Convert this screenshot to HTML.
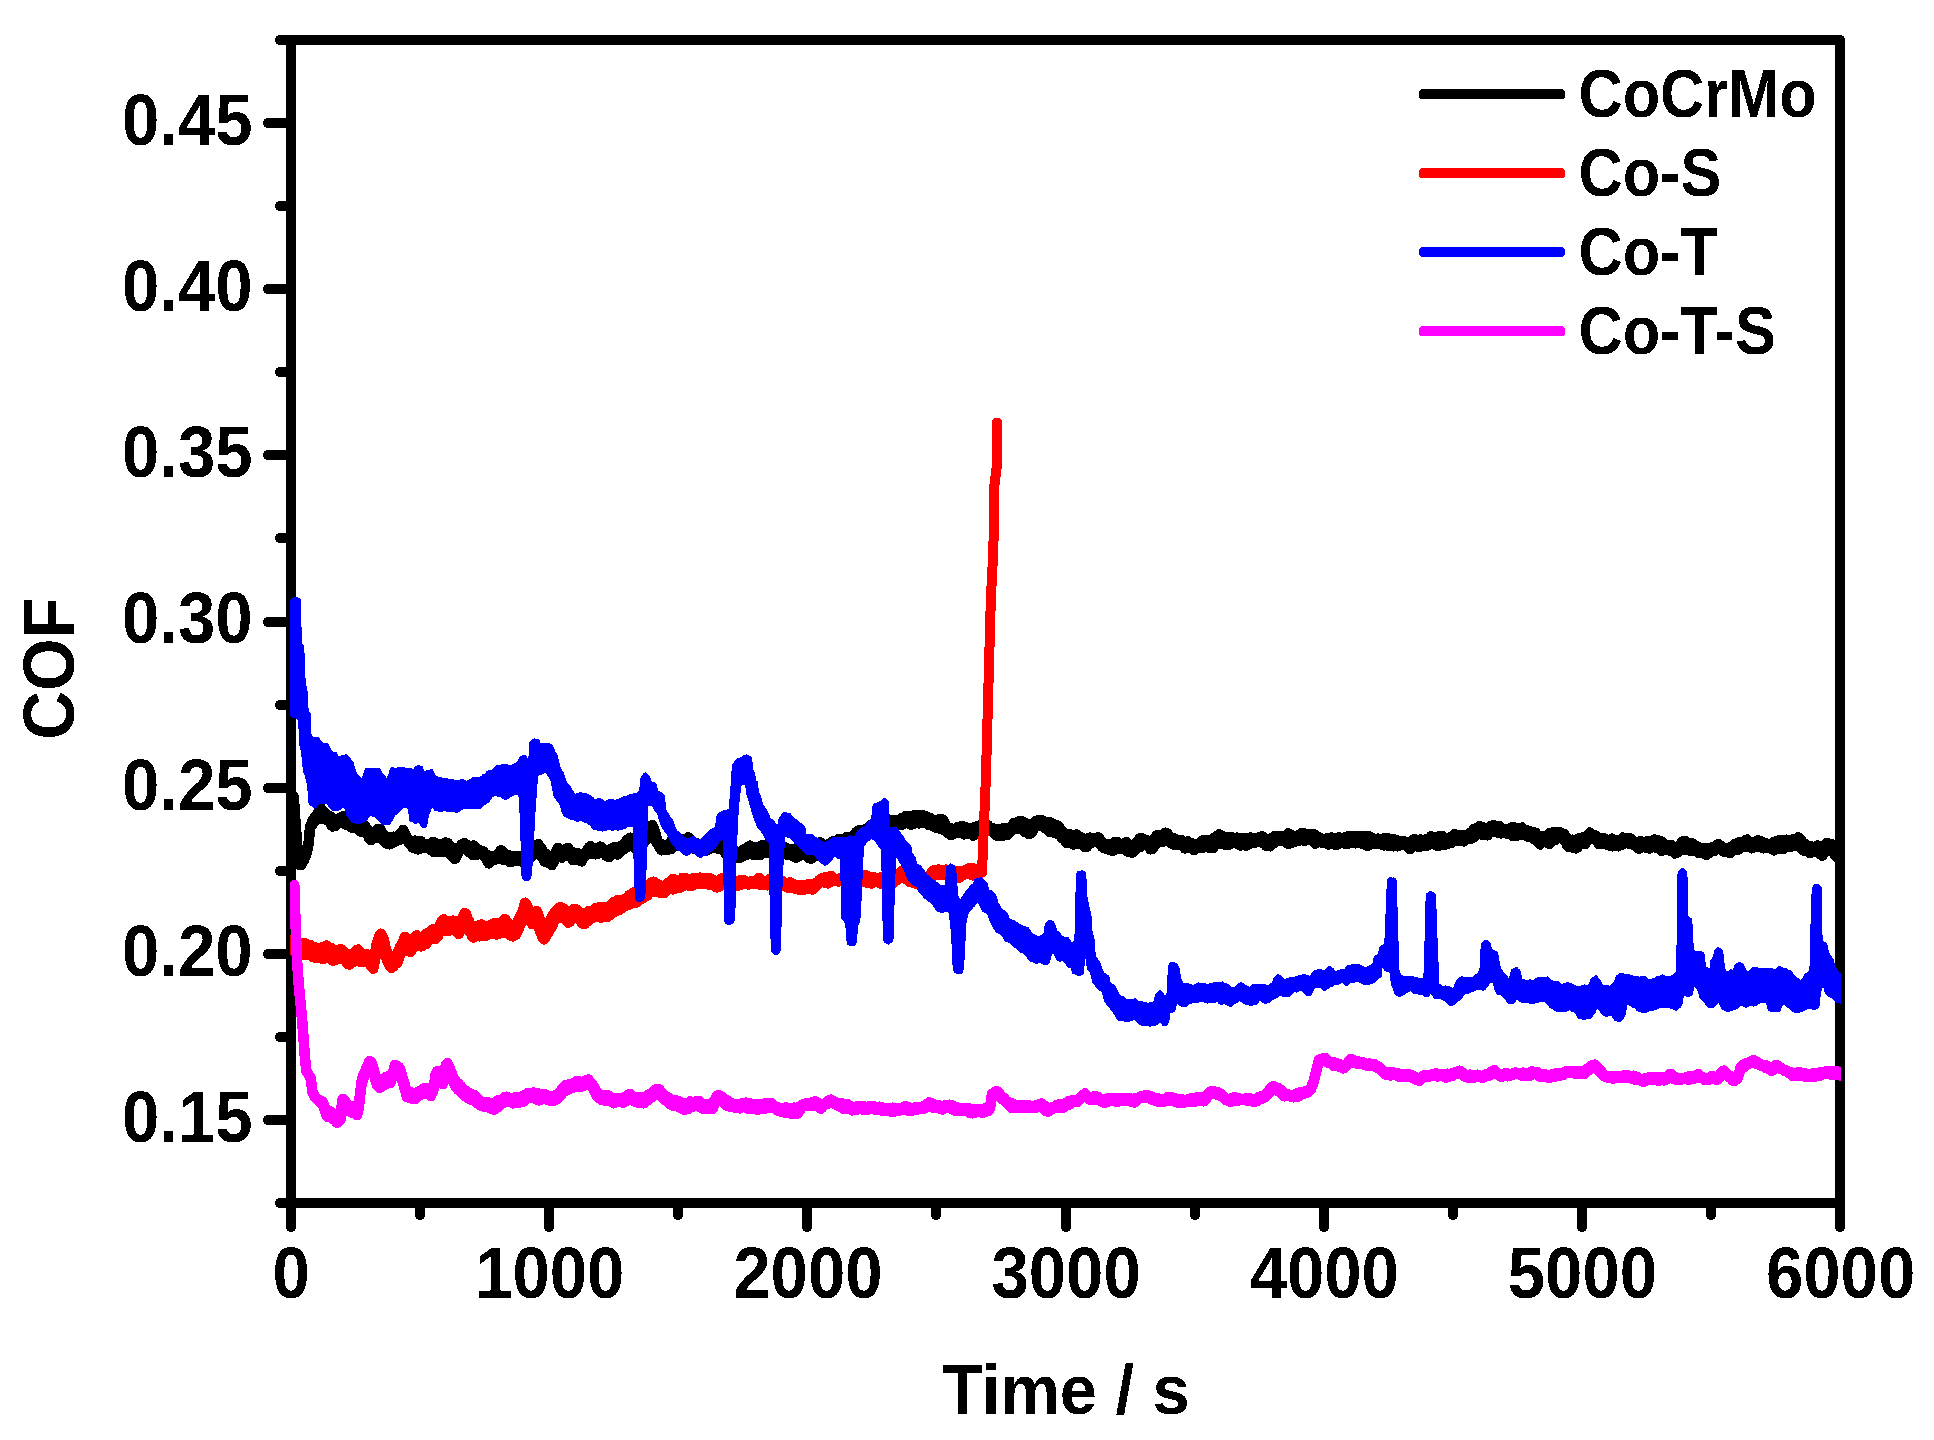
<!DOCTYPE html>
<html lang="en"><head><meta charset="utf-8"><title>COF vs Time</title>
<style>html,body{margin:0;padding:0;background:#fff}svg{display:block}text{font-family:"Liberation Sans",Arial,Helvetica,sans-serif;font-weight:bold;fill:#000}</style></head><body>
<svg width="1934" height="1440" viewBox="0 0 1934 1440">
<defs><filter id="hard" filterUnits="userSpaceOnUse" x="0" y="0" width="1934" height="1440" color-interpolation-filters="sRGB"><feComponentTransfer><feFuncR type="discrete" tableValues="0 1"/><feFuncG type="discrete" tableValues="0 1"/><feFuncB type="discrete" tableValues="0 1"/></feComponentTransfer></filter></defs>
<g filter="url(#hard)">
<rect width="1934" height="1440" fill="#fff"/>
<defs><clipPath id="plot"><rect x="290.3" y="30" width="1550.6" height="1180"/></clipPath></defs>
<g stroke="#000" stroke-width="9.9" stroke-linecap="round" fill="none">
<path d="M291.1 40.0 H1840.1 V1203.0 H291.1 Z" stroke-linejoin="round"/>
<path d="M279.8 1203.0 H291.1"/>
<path d="M267.8 1120.0 H291.1"/>
<path d="M279.8 1037.0 H291.1"/>
<path d="M267.8 954.0 H291.1"/>
<path d="M279.8 871.0 H291.1"/>
<path d="M267.8 788.0 H291.1"/>
<path d="M279.8 705.0 H291.1"/>
<path d="M267.8 622.0 H291.1"/>
<path d="M279.8 538.0 H291.1"/>
<path d="M267.8 455.0 H291.1"/>
<path d="M279.8 372.0 H291.1"/>
<path d="M267.8 289.0 H291.1"/>
<path d="M279.8 206.0 H291.1"/>
<path d="M267.8 123.0 H291.1"/>
<path d="M279.8 40.0 H291.1"/>
<path d="M291.0 1203.0 V1227.3"/>
<path d="M420.0 1203.0 V1215.3"/>
<path d="M549.0 1203.0 V1227.3"/>
<path d="M678.0 1203.0 V1215.3"/>
<path d="M807.0 1203.0 V1227.3"/>
<path d="M936.0 1203.0 V1215.3"/>
<path d="M1066.0 1203.0 V1227.3"/>
<path d="M1195.0 1203.0 V1215.3"/>
<path d="M1324.0 1203.0 V1227.3"/>
<path d="M1453.0 1203.0 V1215.3"/>
<path d="M1582.0 1203.0 V1227.3"/>
<path d="M1711.0 1203.0 V1215.3"/>
<path d="M1840.0 1203.0 V1227.3"/>
</g>
<text transform="translate(252.6 1141.9) scale(1 1.066)" font-size="67.1px" text-anchor="end">0.15</text>
<text transform="translate(252.6 975.7) scale(1 1.066)" font-size="67.1px" text-anchor="end">0.20</text>
<text transform="translate(252.6 809.6) scale(1 1.066)" font-size="67.1px" text-anchor="end">0.25</text>
<text transform="translate(252.6 643.4) scale(1 1.066)" font-size="67.1px" text-anchor="end">0.30</text>
<text transform="translate(252.6 477.2) scale(1 1.066)" font-size="67.1px" text-anchor="end">0.35</text>
<text transform="translate(252.6 311.1) scale(1 1.066)" font-size="67.1px" text-anchor="end">0.40</text>
<text transform="translate(252.6 144.9) scale(1 1.066)" font-size="67.1px" text-anchor="end">0.45</text>
<text transform="translate(291.1 1298.2) scale(1 1.066)" font-size="67.1px" text-anchor="middle">0</text>
<text transform="translate(549.8 1298.2) scale(1 1.066)" font-size="67.1px" text-anchor="middle">1000</text>
<text transform="translate(807.9 1298.2) scale(1 1.066)" font-size="67.1px" text-anchor="middle">2000</text>
<text transform="translate(1066.1 1298.2) scale(1 1.066)" font-size="67.1px" text-anchor="middle">3000</text>
<text transform="translate(1324.3 1298.2) scale(1 1.066)" font-size="67.1px" text-anchor="middle">4000</text>
<text transform="translate(1582.4 1298.2) scale(1 1.066)" font-size="67.1px" text-anchor="middle">5000</text>
<text transform="translate(1840.6 1298.2) scale(1 1.066)" font-size="67.1px" text-anchor="middle">6000</text>
<text transform="translate(1066.0 1414.2) scale(1 1.060)" font-size="66.8px" text-anchor="middle">Time / s</text>
<text transform="translate(74.0 668.5) rotate(-90) scale(1 1.065)" font-size="67.5px" text-anchor="middle">COF</text>
<g clip-path="url(#plot)" fill="none" stroke-width="10" stroke-linejoin="round" stroke-linecap="round">
<polyline stroke="#000" points="293.7,797.0 295.2,818.7 296.7,838.8 298.2,858.1 299.7,864.0 301.2,864.2 302.7,861.7 304.2,859.0 305.7,855.3 307.2,849.8 308.7,841.1 310.2,825.5 311.7,822.2 313.2,819.2 314.7,817.1 316.2,815.6 317.7,813.1 319.2,810.5 320.7,807.5 322.2,809.6 323.7,813.0 325.2,812.8 326.7,814.3 328.2,815.2 329.7,816.3 331.2,816.6 332.7,818.5 334.2,818.8 335.7,819.2 337.2,818.8 338.7,819.3 340.2,817.6 341.7,817.3 343.2,815.7 344.7,816.5 346.2,818.7 347.7,820.3 349.2,820.3 350.7,821.5 352.2,821.1 353.7,822.8 355.2,825.0 356.7,825.8 358.2,826.0 359.7,826.3 361.2,824.2 362.7,824.1 364.2,824.5 365.7,826.4 367.2,828.7 368.7,831.2 370.2,832.4 371.7,832.8 373.2,832.8 374.7,831.8 376.2,831.0 377.7,828.7 379.2,829.6 380.7,829.0 382.2,833.2 383.7,835.3 385.2,836.1 386.7,836.3 388.2,837.2 389.7,838.5 391.2,838.3 392.7,836.4 394.2,836.5 395.7,837.7 397.2,837.3 398.7,835.1 400.2,833.0 401.7,832.0 403.2,829.7 404.7,832.5 406.2,835.2 407.7,838.6 409.2,839.9 410.7,841.9 412.2,841.5 413.7,841.3 415.2,840.4 416.7,842.4 418.2,842.4 419.7,840.9 421.2,841.1 422.7,843.0 424.2,844.2 425.7,844.2 427.2,844.1 428.7,845.1 430.2,845.0 431.7,842.5 433.2,841.5 434.7,842.6 436.2,843.2 437.7,844.0 439.2,843.7 440.7,845.7 442.2,845.9 443.7,844.1 445.2,842.3 446.7,842.8 448.2,843.1 449.7,845.9 451.2,846.5 452.7,848.0 454.2,849.5 455.7,848.2 457.2,849.5 458.7,848.1 460.2,846.1 461.7,844.2 463.2,843.5 464.7,842.8 466.2,844.5 467.7,844.5 469.2,846.4 470.7,846.0 472.2,847.4 473.7,845.3 475.2,846.5 476.7,847.9 478.2,849.4 479.7,850.4 481.2,850.6 482.7,850.5 484.2,852.2 485.7,854.2 487.2,854.5 488.7,856.7 490.2,858.3 491.7,857.9 493.2,855.7 494.7,856.4 496.2,855.3 497.7,853.7 499.2,852.0 500.7,850.1 502.2,850.6 503.7,852.7 505.2,854.6 506.7,855.7 508.2,854.9 509.7,857.8 511.2,856.1 512.7,856.0 514.2,856.6 515.7,856.7 517.2,856.2 518.7,855.9 520.2,856.4 521.7,855.8 523.2,856.8 524.7,854.3 526.2,853.8 527.7,853.3 529.2,850.5 530.7,850.5 532.2,850.5 533.7,849.2 535.2,846.4 536.7,845.2 538.2,843.7 539.7,846.9 541.2,847.5 542.7,850.6 544.2,853.0 545.7,853.4 547.2,854.5 548.7,857.2 550.2,857.7 551.7,858.6 553.2,857.3 554.7,854.1 556.2,850.2 557.7,847.5 559.2,848.6 560.7,850.2 562.2,850.8 563.7,852.4 565.2,849.1 566.7,848.4 568.2,847.7 569.7,849.9 571.2,851.5 572.7,851.9 574.2,852.7 575.7,853.1 577.2,852.8 578.7,853.8 580.2,853.6 581.7,856.4 583.2,854.5 584.7,852.9 586.2,851.1 587.7,848.6 589.2,846.9 590.7,845.7 592.2,847.2 593.7,850.5 595.2,850.2 596.7,850.0 598.2,849.3 599.7,846.3 601.2,846.8 602.7,848.1 604.2,850.6 605.7,849.9 607.2,850.8 608.7,849.2 610.2,849.6 611.7,848.2 613.2,847.4 614.7,846.8 616.2,847.0 617.7,846.8 619.2,846.5 620.7,845.5 622.2,845.3 623.7,843.7 625.2,841.9 626.7,840.1 628.2,838.9 629.7,837.6 631.2,837.5 632.7,840.8 634.2,840.6 635.7,841.7 637.2,841.7 638.7,842.9 640.2,842.0 641.7,840.5 643.2,838.7 644.7,836.7 646.2,835.9 647.7,832.6 649.2,828.4 650.7,825.9 652.2,824.8 653.7,826.9 655.2,831.6 656.7,837.5 658.2,841.5 659.7,844.8 661.2,843.7 662.7,844.6 664.2,846.2 665.7,847.1 667.2,847.3 668.7,843.5 670.2,842.1 671.7,839.8 673.2,839.0 674.7,839.9 676.2,838.2 677.7,839.2 679.2,838.7 680.7,840.9 682.2,839.8 683.7,839.1 685.2,839.8 686.7,839.6 688.2,837.2 689.7,838.4 691.2,840.1 692.7,841.0 694.2,843.0 695.7,842.8 697.2,843.2 698.7,843.5 700.2,845.0 701.7,845.0 703.2,844.4 704.7,843.1 706.2,842.9 707.7,842.8 709.2,842.0 710.7,842.3 712.2,842.2 713.7,841.3 715.2,839.4 716.7,837.1 718.2,839.8 719.7,843.1 721.2,845.6 722.7,845.9 724.2,844.7 725.7,844.8 727.2,846.6 728.7,846.7 730.2,847.1 731.7,848.3 733.2,850.5 734.7,849.9 736.2,851.5 737.7,852.0 739.2,852.7 740.7,852.5 742.2,851.6 743.7,849.1 745.2,848.6 746.7,848.6 748.2,846.3 749.7,845.5 751.2,847.9 752.7,847.4 754.2,847.8 755.7,847.0 757.2,848.2 758.7,847.6 760.2,847.0 761.7,845.0 763.2,845.7 764.7,845.4 766.2,845.5 767.7,843.6 769.2,844.6 770.7,843.8 772.2,844.2 773.7,843.6 775.2,844.2 776.7,845.3 778.2,846.8 779.7,845.6 781.2,846.8 782.7,847.9 784.2,848.4 785.7,847.3 787.2,848.4 788.7,851.4 790.2,851.3 791.7,850.5 793.2,848.7 794.7,850.9 796.2,849.9 797.7,850.4 799.2,848.5 800.7,847.7 802.2,845.0 803.7,847.4 805.2,847.6 806.7,849.4 808.2,851.1 809.7,850.1 811.2,847.8 812.7,847.8 814.2,848.2 815.7,848.3 817.2,846.0 818.7,843.5 820.2,841.9 821.7,843.5 823.2,845.2 824.7,844.6 826.2,845.8 827.7,845.8 829.2,843.3 830.7,843.9 832.2,841.2 833.7,841.1 835.2,841.0 836.7,840.7 838.2,839.2 839.7,838.8 841.2,839.5 842.7,839.8 844.2,839.1 845.7,837.3 847.2,836.5 848.7,837.6 850.2,841.0 851.7,842.8 853.2,837.4 854.7,833.8 856.2,831.9 857.7,830.6 859.2,829.9 860.7,830.4 862.2,829.7 863.7,829.8 865.2,830.4 866.7,828.0 868.2,827.1 869.7,825.5 871.2,824.4 872.7,825.7 874.2,824.5 875.7,826.0 877.2,826.0 878.7,825.3 880.2,824.4 881.7,825.5 883.2,824.6 884.7,823.8 886.2,819.9 887.7,819.4 889.2,819.9 890.7,819.8 892.2,820.8 893.7,819.4 895.2,821.0 896.7,819.7 898.2,820.6 899.7,820.3 901.2,818.2 902.7,818.9 904.2,818.5 905.7,815.8 907.2,816.1 908.7,816.9 910.2,815.6 911.7,817.0 913.2,815.3 914.7,816.1 916.2,814.8 917.7,815.7 919.2,816.4 920.7,814.6 922.2,814.7 923.7,815.2 925.2,815.9 926.7,816.3 928.2,817.7 929.7,817.6 931.2,819.7 932.7,819.6 934.2,821.0 935.7,820.4 937.2,821.1 938.7,819.0 940.2,819.2 941.7,818.7 943.2,819.6 944.7,823.4 946.2,825.2 947.7,826.8 949.2,829.1 950.7,827.9 952.2,830.1 953.7,829.4 955.2,828.6 956.7,828.7 958.2,826.5 959.7,827.1 961.2,826.0 962.7,826.0 964.2,827.3 965.7,827.2 967.2,827.4 968.7,829.2 970.2,827.4 971.7,828.9 973.2,827.3 974.7,827.2 976.2,827.3 977.7,825.8 979.2,825.6 980.7,824.6 982.2,823.6 983.7,822.7 985.2,823.1 986.7,824.2 988.2,825.2 989.7,826.8 991.2,829.0 992.7,827.8 994.2,828.6 995.7,830.0 997.2,828.7 998.7,828.6 1000.2,828.9 1001.7,828.2 1003.2,828.4 1004.7,827.8 1006.2,829.7 1007.7,830.1 1009.2,829.1 1010.7,827.8 1012.2,825.3 1013.7,822.5 1015.2,824.0 1016.7,822.2 1018.2,821.8 1019.7,820.9 1021.2,821.0 1022.7,821.3 1024.2,822.4 1025.7,822.9 1027.2,824.5 1028.7,824.9 1030.2,825.8 1031.7,825.1 1033.2,823.2 1034.7,822.4 1036.2,820.5 1037.7,820.8 1039.2,820.5 1040.7,819.6 1042.2,822.1 1043.7,821.3 1045.2,823.5 1046.7,823.0 1048.2,822.5 1049.7,821.9 1051.2,824.3 1052.7,823.4 1054.2,825.4 1055.7,826.6 1057.2,825.2 1058.7,825.8 1060.2,828.0 1061.7,830.2 1063.2,832.6 1064.7,834.1 1066.2,833.8 1067.7,834.3 1069.2,834.6 1070.7,834.3 1072.2,836.5 1073.7,836.7 1075.2,836.2 1076.7,834.3 1078.2,836.1 1079.7,836.8 1081.2,837.0 1082.7,839.0 1084.2,839.8 1085.7,839.1 1087.2,838.3 1088.7,838.1 1090.2,837.2 1091.7,838.0 1093.2,838.6 1094.7,838.2 1096.2,837.9 1097.7,837.0 1099.2,837.5 1100.7,839.9 1102.2,841.3 1103.7,843.8 1105.2,844.2 1106.7,844.3 1108.2,845.7 1109.7,846.1 1111.2,843.9 1112.7,844.4 1114.2,841.8 1115.7,841.8 1117.2,841.5 1118.7,843.5 1120.2,845.0 1121.7,845.6 1123.2,843.6 1124.7,843.6 1126.2,841.8 1127.7,843.3 1129.2,846.4 1130.7,847.3 1132.2,847.5 1133.7,846.2 1135.2,845.4 1136.7,842.1 1138.2,840.7 1139.7,838.1 1141.2,838.8 1142.7,838.3 1144.2,839.4 1145.7,839.6 1147.2,840.5 1148.7,841.7 1150.2,843.7 1151.7,841.8 1153.2,841.3 1154.7,837.9 1156.2,835.9 1157.7,834.4 1159.2,835.8 1160.7,834.8 1162.2,834.6 1163.7,833.5 1165.2,832.4 1166.7,832.7 1168.2,834.1 1169.7,835.9 1171.2,837.8 1172.7,837.7 1174.2,839.2 1175.7,838.5 1177.2,840.0 1178.7,840.5 1180.2,841.2 1181.7,839.9 1183.2,842.0 1184.7,842.4 1186.2,842.8 1187.7,841.3 1189.2,842.5 1190.7,842.8 1192.2,843.1 1193.7,845.4 1195.2,845.6 1196.7,844.7 1198.2,844.7 1199.7,843.0 1201.2,841.4 1202.7,840.1 1204.2,839.7 1205.7,840.9 1207.2,840.2 1208.7,840.4 1210.2,840.4 1211.7,839.4 1213.2,838.6 1214.7,837.3 1216.2,836.9 1217.7,835.2 1219.2,834.2 1220.7,835.5 1222.2,835.2 1223.7,836.8 1225.2,837.6 1226.7,837.0 1228.2,837.4 1229.7,837.0 1231.2,838.0 1232.7,837.4 1234.2,838.8 1235.7,837.9 1237.2,837.3 1238.7,838.9 1240.2,837.8 1241.7,839.5 1243.2,838.2 1244.7,837.7 1246.2,838.1 1247.7,839.3 1249.2,839.4 1250.7,837.2 1252.2,838.5 1253.7,838.4 1255.2,838.9 1256.7,837.4 1258.2,837.5 1259.7,836.5 1261.2,836.7 1262.7,836.4 1264.2,838.9 1265.7,838.4 1267.2,838.4 1268.7,839.6 1270.2,839.2 1271.7,837.6 1273.2,837.7 1274.7,835.5 1276.2,836.4 1277.7,835.6 1279.2,835.8 1280.7,835.8 1282.2,835.9 1283.7,836.6 1285.2,835.5 1286.7,835.6 1288.2,832.8 1289.7,835.3 1291.2,834.7 1292.7,836.4 1294.2,836.1 1295.7,837.2 1297.2,835.4 1298.7,834.6 1300.2,835.2 1301.7,832.9 1303.2,833.2 1304.7,833.3 1306.2,833.7 1307.7,833.9 1309.2,834.5 1310.7,834.6 1312.2,834.2 1313.7,833.8 1315.2,835.0 1316.7,835.8 1318.2,837.2 1319.7,837.2 1321.2,838.4 1322.7,839.7 1324.2,839.8 1325.7,838.2 1327.2,838.4 1328.7,838.9 1330.2,837.5 1331.7,837.4 1333.2,837.8 1334.7,838.6 1336.2,838.8 1337.7,837.2 1339.2,837.2 1340.7,837.4 1342.2,837.6 1343.7,837.9 1345.2,836.8 1346.7,836.9 1348.2,836.0 1349.7,837.2 1351.2,836.6 1352.7,835.5 1354.2,837.6 1355.7,836.2 1357.2,836.2 1358.7,837.0 1360.2,836.0 1361.7,836.2 1363.2,835.8 1364.7,835.5 1366.2,836.6 1367.7,835.6 1369.2,836.2 1370.7,837.6 1372.2,837.8 1373.7,839.5 1375.2,840.1 1376.7,839.3 1378.2,838.2 1379.7,838.9 1381.2,838.7 1382.7,838.4 1384.2,838.7 1385.7,837.6 1387.2,838.0 1388.7,838.9 1390.2,838.4 1391.7,839.0 1393.2,839.7 1394.7,839.4 1396.2,839.4 1397.7,841.1 1399.2,841.6 1400.7,841.5 1402.2,841.1 1403.7,841.2 1405.2,841.4 1406.7,841.7 1408.2,841.8 1409.7,841.9 1411.2,841.7 1412.7,839.4 1414.2,839.1 1415.7,839.7 1417.2,839.5 1418.7,839.9 1420.2,839.2 1421.7,839.8 1423.2,839.6 1424.7,839.8 1426.2,839.1 1427.7,839.2 1429.2,838.8 1430.7,836.3 1432.2,836.5 1433.7,837.5 1435.2,837.6 1436.7,838.7 1438.2,838.7 1439.7,835.7 1441.2,835.7 1442.7,836.0 1444.2,838.5 1445.7,840.0 1447.2,838.9 1448.7,837.6 1450.2,838.3 1451.7,836.6 1453.2,835.7 1454.7,833.9 1456.2,834.6 1457.7,835.4 1459.2,834.9 1460.7,834.8 1462.2,836.1 1463.7,834.7 1465.2,835.5 1466.7,834.7 1468.2,835.3 1469.7,832.7 1471.2,833.2 1472.7,830.4 1474.2,828.7 1475.7,828.1 1477.2,827.7 1478.7,826.3 1480.2,826.7 1481.7,826.5 1483.2,828.1 1484.7,828.3 1486.2,829.0 1487.7,827.7 1489.2,827.0 1490.7,825.8 1492.2,825.2 1493.7,824.7 1495.2,827.2 1496.7,826.4 1498.2,826.0 1499.7,825.8 1501.2,828.0 1502.7,828.7 1504.2,828.9 1505.7,829.2 1507.2,829.9 1508.7,829.5 1510.2,829.8 1511.7,827.1 1513.2,826.5 1514.7,827.9 1516.2,828.9 1517.7,829.1 1519.2,828.0 1520.7,828.2 1522.2,827.2 1523.7,829.6 1525.2,829.5 1526.7,831.5 1528.2,830.4 1529.7,830.9 1531.2,831.6 1532.7,832.5 1534.2,832.5 1535.7,832.6 1537.2,835.6 1538.7,836.0 1540.2,837.2 1541.7,836.2 1543.2,836.1 1544.7,835.6 1546.2,835.5 1547.7,834.8 1549.2,833.2 1550.7,834.1 1552.2,833.6 1553.7,831.4 1555.2,833.1 1556.7,833.7 1558.2,833.9 1559.7,832.1 1561.2,833.7 1562.7,833.4 1564.2,833.5 1565.7,836.0 1567.2,840.9 1568.7,840.8 1570.2,839.9 1571.7,839.6 1573.2,839.6 1574.7,839.8 1576.2,840.7 1577.7,839.1 1579.2,837.8 1580.7,838.5 1582.2,838.2 1583.7,836.7 1585.2,838.4 1586.7,835.9 1588.2,834.4 1589.7,832.3 1591.2,833.4 1592.7,834.4 1594.2,836.2 1595.7,835.5 1597.2,837.9 1598.7,838.7 1600.2,838.8 1601.7,837.8 1603.2,837.8 1604.7,838.3 1606.2,838.9 1607.7,840.2 1609.2,839.5 1610.7,839.8 1612.2,838.3 1613.7,839.3 1615.2,839.6 1616.7,840.9 1618.2,840.2 1619.7,839.6 1621.2,839.2 1622.7,837.2 1624.2,839.1 1625.7,838.3 1627.2,838.1 1628.7,838.0 1630.2,838.1 1631.7,838.9 1633.2,840.8 1634.7,843.7 1636.2,842.1 1637.7,842.8 1639.2,842.4 1640.7,840.9 1642.2,842.0 1643.7,842.0 1645.2,842.5 1646.7,841.1 1648.2,842.5 1649.7,841.1 1651.2,840.8 1652.7,841.4 1654.2,839.1 1655.7,840.2 1657.2,840.3 1658.7,840.2 1660.2,841.9 1661.7,841.4 1663.2,843.0 1664.7,844.6 1666.2,846.5 1667.7,844.9 1669.2,845.1 1670.7,844.5 1672.2,845.8 1673.7,847.5 1675.2,847.7 1676.7,848.3 1678.2,846.9 1679.7,845.0 1681.2,842.6 1682.7,841.3 1684.2,841.5 1685.7,841.1 1687.2,842.3 1688.7,842.3 1690.2,842.6 1691.7,842.9 1693.2,843.6 1694.7,845.0 1696.2,846.7 1697.7,846.4 1699.2,849.4 1700.7,850.7 1702.2,850.2 1703.7,848.3 1705.2,848.7 1706.7,847.8 1708.2,847.9 1709.7,848.9 1711.2,847.6 1712.7,846.9 1714.2,846.4 1715.7,845.7 1717.2,844.6 1718.7,844.1 1720.2,845.0 1721.7,846.5 1723.2,847.8 1724.7,849.6 1726.2,848.4 1727.7,848.9 1729.2,847.4 1730.7,847.9 1732.2,846.1 1733.7,845.5 1735.2,843.6 1736.7,843.6 1738.2,842.3 1739.7,842.3 1741.2,841.8 1742.7,843.0 1744.2,841.7 1745.7,839.9 1747.2,839.2 1748.7,840.7 1750.2,842.3 1751.7,843.5 1753.2,843.6 1754.7,843.3 1756.2,843.1 1757.7,840.0 1759.2,841.3 1760.7,840.9 1762.2,842.1 1763.7,844.1 1765.2,842.7 1766.7,844.3 1768.2,844.1 1769.7,844.0 1771.2,843.3 1772.7,842.3 1774.2,841.5 1775.7,841.8 1777.2,840.5 1778.7,840.7 1780.2,839.7 1781.7,840.6 1783.2,840.0 1784.7,839.8 1786.2,839.5 1787.7,839.4 1789.2,840.8 1790.7,839.5 1792.2,841.2 1793.7,838.9 1795.2,840.5 1796.7,838.8 1798.2,837.1 1799.7,839.5 1801.2,839.5 1802.7,843.0 1804.2,843.3 1805.7,844.4 1807.2,846.0 1808.7,845.8 1810.2,846.0 1811.7,846.5 1813.2,846.5 1814.7,847.3 1816.2,846.3 1817.7,845.1 1819.2,847.7 1820.7,847.7 1822.2,850.7 1823.7,848.5 1825.2,844.7 1826.7,842.6 1828.2,843.1 1829.7,844.0 1831.2,843.6 1832.7,845.9 1834.2,849.8 1835.7,851.2 1836.0,853.3"/>
<polyline stroke="#000" points="293.7,796.6 295.2,818.3 296.7,839.0 298.2,858.5 299.7,864.5 301.2,865.0 302.7,862.4 304.2,859.7 305.7,855.9 307.2,850.5 308.7,841.8 310.2,825.9 311.7,823.2 313.2,820.8 314.7,818.7 316.2,816.8 317.7,816.0 319.2,814.7 320.7,813.3 322.2,814.3 323.7,815.4 325.2,816.4 326.7,817.5 328.2,818.5 329.7,819.6 331.2,821.3 332.7,823.0 334.2,823.3 335.7,822.7 337.2,821.5 338.7,820.3 340.2,819.2 341.7,819.3 343.2,820.0 344.7,820.6 346.2,821.3 347.7,822.3 349.2,822.9 350.7,823.5 352.2,824.1 353.7,824.7 355.2,825.4 356.7,826.1 358.2,826.9 359.7,827.6 361.2,827.7 362.7,827.9 364.2,828.1 365.7,829.2 367.2,831.2 368.7,833.2 370.2,835.0 371.7,835.6 373.2,835.3 374.7,835.1 376.2,833.7 377.7,832.1 379.2,831.1 380.7,832.1 382.2,835.2 383.7,838.2 385.2,839.7 386.7,840.3 388.2,840.9 389.7,841.4 391.2,841.1 392.7,840.5 394.2,840.0 395.7,839.4 397.2,838.2 398.7,836.8 400.2,835.3 401.7,833.8 403.2,832.6 404.7,834.5 406.2,836.6 407.7,838.8 409.2,840.9 410.7,842.4 412.2,843.7 413.7,845.0 415.2,844.9 416.7,845.0 418.2,845.1 419.7,844.2 421.2,844.5 422.7,844.7 424.2,844.9 425.7,845.7 427.2,846.1 428.7,846.5 430.2,846.8 431.7,846.9 433.2,847.3 434.7,847.7 436.2,848.0 437.7,848.2 439.2,848.3 440.7,848.5 442.2,848.3 443.7,847.6 445.2,847.1 446.7,846.5 448.2,848.0 449.7,849.5 451.2,851.2 452.7,852.9 454.2,853.6 455.7,853.5 457.2,852.6 458.7,851.4 460.2,849.3 461.7,847.1 463.2,845.8 464.7,844.4 466.2,845.2 467.7,846.6 469.2,847.7 470.7,848.9 472.2,849.8 473.7,850.8 475.2,851.4 476.7,851.9 478.2,851.9 479.7,851.9 481.2,852.2 482.7,852.5 484.2,854.3 485.7,857.2 487.2,859.5 488.7,860.9 490.2,859.7 491.7,858.5 493.2,857.9 494.7,857.2 496.2,856.7 497.7,856.2 499.2,855.7 500.7,855.3 502.2,855.1 503.7,855.4 505.2,856.0 506.7,856.7 508.2,858.6 509.7,860.5 511.2,860.2 512.7,859.5 514.2,858.8 515.7,858.2 517.2,857.8 518.7,857.5 520.2,857.4 521.7,857.3 523.2,857.5 524.7,857.6 526.2,857.7 527.7,857.1 529.2,855.7 530.7,854.3 532.2,852.9 533.7,851.7 535.2,850.5 536.7,849.3 538.2,848.1 539.7,849.7 541.2,852.0 542.7,854.1 544.2,856.2 545.7,857.9 547.2,859.1 548.7,860.2 550.2,861.3 551.7,862.4 553.2,859.5 554.7,856.7 556.2,853.8 557.7,852.7 559.2,853.1 560.7,853.5 562.2,853.9 563.7,854.0 565.2,852.9 566.7,851.9 568.2,850.8 569.7,852.7 571.2,855.1 572.7,857.4 574.2,858.1 575.7,857.6 577.2,856.7 578.7,856.3 580.2,857.2 581.7,858.2 583.2,856.5 584.7,854.8 586.2,853.2 587.7,851.9 589.2,851.6 590.7,851.2 592.2,851.3 593.7,852.3 595.2,852.1 596.7,851.9 598.2,850.1 599.7,848.4 601.2,849.2 602.7,850.3 604.2,851.5 605.7,852.6 607.2,853.4 608.7,853.4 610.2,853.3 611.7,853.2 613.2,852.6 614.7,852.2 616.2,851.8 617.7,851.4 619.2,850.6 620.7,848.9 622.2,847.3 623.7,845.9 625.2,844.8 626.7,843.6 628.2,842.3 629.7,841.6 631.2,842.8 632.7,844.1 634.2,844.6 635.7,844.7 637.2,844.4 638.7,844.1 640.2,843.6 641.7,842.3 643.2,840.8 644.7,839.2 646.2,837.5 647.7,835.6 649.2,832.8 650.7,830.3 652.2,828.1 653.7,831.5 655.2,835.6 656.7,839.1 658.2,842.2 659.7,845.4 661.2,846.7 662.7,847.4 664.2,847.9 665.7,848.5 667.2,848.3 668.7,847.3 670.2,846.2 671.7,845.2 673.2,844.5 674.7,843.9 676.2,843.3 677.7,842.4 679.2,842.1 680.7,842.2 682.2,842.4 683.7,842.4 685.2,842.3 686.7,842.4 688.2,842.4 689.7,843.1 691.2,843.6 692.7,844.1 694.2,844.5 695.7,845.2 697.2,845.7 698.7,846.2 700.2,846.9 701.7,846.6 703.2,846.8 704.7,846.9 706.2,847.0 707.7,847.1 709.2,846.3 710.7,845.3 712.2,844.3 713.7,843.1 715.2,842.9 716.7,842.7 718.2,844.2 719.7,845.7 721.2,846.6 722.7,847.5 724.2,848.3 725.7,849.0 727.2,849.9 728.7,850.7 730.2,851.5 731.7,852.3 733.2,852.7 734.7,853.1 736.2,853.6 737.7,854.1 739.2,854.0 740.7,853.8 742.2,853.5 743.7,853.2 745.2,853.5 746.7,852.6 748.2,851.8 749.7,850.8 751.2,850.5 752.7,850.4 754.2,850.5 755.7,851.1 757.2,851.7 758.7,852.2 760.2,852.4 761.7,851.0 763.2,850.4 764.7,849.8 766.2,849.3 767.7,849.4 769.2,849.4 770.7,849.3 772.2,849.1 773.7,848.9 775.2,848.9 776.7,849.2 778.2,849.6 779.7,850.0 781.2,850.4 782.7,850.9 784.2,851.0 785.7,851.0 787.2,851.5 788.7,852.0 790.2,852.6 791.7,853.5 793.2,853.4 794.7,853.3 796.2,853.2 797.7,852.2 799.2,851.5 800.7,850.9 802.2,850.2 803.7,851.0 805.2,852.3 806.7,853.5 808.2,854.6 809.7,854.0 811.2,853.6 812.7,853.3 814.2,853.0 815.7,852.6 817.2,851.0 818.7,849.4 820.2,847.9 821.7,847.1 823.2,847.2 824.7,847.3 826.2,847.7 827.7,847.6 829.2,847.2 830.7,846.5 832.2,845.9 833.7,845.2 835.2,844.8 836.7,843.8 838.2,842.5 839.7,841.4 841.2,841.2 842.7,841.3 844.2,841.1 845.7,841.0 847.2,841.2 848.7,842.3 850.2,843.3 851.7,844.4 853.2,840.2 854.7,836.0 856.2,834.7 857.7,834.1 859.2,834.0 860.7,833.8 862.2,833.3 863.7,832.8 865.2,832.2 866.7,831.1 868.2,830.0 869.7,828.9 871.2,828.7 872.7,828.5 874.2,828.4 875.7,828.1 877.2,827.6 878.7,827.2 880.2,827.1 881.7,826.9 883.2,826.1 884.7,824.9 886.2,823.8 887.7,822.6 889.2,821.9 890.7,821.5 892.2,821.5 893.7,821.5 895.2,821.6 896.7,821.5 898.2,821.5 899.7,821.5 901.2,821.2 902.7,820.9 904.2,820.5 905.7,820.1 907.2,820.0 908.7,820.0 910.2,820.3 911.7,820.5 913.2,820.6 914.7,820.7 916.2,820.6 917.7,820.6 919.2,820.3 920.7,820.0 922.2,819.9 923.7,819.8 925.2,820.0 926.7,820.3 928.2,820.6 929.7,821.1 931.2,822.2 932.7,823.4 934.2,824.5 935.7,825.6 937.2,825.1 938.7,824.6 940.2,824.0 941.7,823.5 943.2,823.8 944.7,825.1 946.2,826.3 947.7,827.8 949.2,829.5 950.7,829.9 952.2,830.5 953.7,831.1 955.2,831.2 956.7,831.0 958.2,830.6 959.7,830.2 961.2,830.0 962.7,830.5 964.2,831.0 965.7,831.4 967.2,832.1 968.7,832.4 970.2,832.0 971.7,831.6 973.2,831.1 974.7,830.6 976.2,830.4 977.7,830.2 979.2,829.4 980.7,828.5 982.2,827.7 983.7,827.0 985.2,827.4 986.7,827.9 988.2,828.2 989.7,828.6 991.2,828.9 992.7,829.4 994.2,829.9 995.7,830.4 997.2,831.1 998.7,831.7 1000.2,832.0 1001.7,832.2 1003.2,832.3 1004.7,832.3 1006.2,832.4 1007.7,831.8 1009.2,830.5 1010.7,829.3 1012.2,828.0 1013.7,826.9 1015.2,826.7 1016.7,826.5 1018.2,826.3 1019.7,825.9 1021.2,825.2 1022.7,825.4 1024.2,826.3 1025.7,827.1 1027.2,828.6 1028.7,829.4 1030.2,828.6 1031.7,827.9 1033.2,826.4 1034.7,824.9 1036.2,823.4 1037.7,823.2 1039.2,824.0 1040.7,824.7 1042.2,825.2 1043.7,825.7 1045.2,826.2 1046.7,826.9 1048.2,827.6 1049.7,828.3 1051.2,828.7 1052.7,829.1 1054.2,829.6 1055.7,830.1 1057.2,830.8 1058.7,831.5 1060.2,832.2 1061.7,834.1 1063.2,835.6 1064.7,837.3 1066.2,839.0 1067.7,839.7 1069.2,840.0 1070.7,840.2 1072.2,840.5 1073.7,840.7 1075.2,840.1 1076.7,839.5 1078.2,839.5 1079.7,840.6 1081.2,841.4 1082.7,842.3 1084.2,843.2 1085.7,842.4 1087.2,841.9 1088.7,841.5 1090.2,841.0 1091.7,840.9 1093.2,840.2 1094.7,839.6 1096.2,839.1 1097.7,838.8 1099.2,840.5 1100.7,842.1 1102.2,843.7 1103.7,845.2 1105.2,846.0 1106.7,846.4 1108.2,846.8 1109.7,847.1 1111.2,847.2 1112.7,846.8 1114.2,846.3 1115.7,845.8 1117.2,845.7 1118.7,845.6 1120.2,845.6 1121.7,845.7 1123.2,845.9 1124.7,846.1 1126.2,846.9 1127.7,847.7 1129.2,848.4 1130.7,849.1 1132.2,849.2 1133.7,847.9 1135.2,846.5 1136.7,845.4 1138.2,844.2 1139.7,842.9 1141.2,842.0 1142.7,841.1 1144.2,840.3 1145.7,840.7 1147.2,842.2 1148.7,843.6 1150.2,844.9 1151.7,844.6 1153.2,842.7 1154.7,840.8 1156.2,838.9 1157.7,837.1 1159.2,836.7 1160.7,836.9 1162.2,837.2 1163.7,837.3 1165.2,837.0 1166.7,836.8 1168.2,837.7 1169.7,838.7 1171.2,840.0 1172.7,841.4 1174.2,841.9 1175.7,841.8 1177.2,841.8 1178.7,841.7 1180.2,841.8 1181.7,842.5 1183.2,842.9 1184.7,843.3 1186.2,843.5 1187.7,843.7 1189.2,844.4 1190.7,845.5 1192.2,846.5 1193.7,847.6 1195.2,847.2 1196.7,846.1 1198.2,845.0 1199.7,844.2 1201.2,843.8 1202.7,843.4 1204.2,843.0 1205.7,842.7 1207.2,843.1 1208.7,843.6 1210.2,844.0 1211.7,844.5 1213.2,843.5 1214.7,842.5 1216.2,841.5 1217.7,840.4 1219.2,839.3 1220.7,838.9 1222.2,839.4 1223.7,839.8 1225.2,840.9 1226.7,841.9 1228.2,841.8 1229.7,841.7 1231.2,840.9 1232.7,840.2 1234.2,839.8 1235.7,839.7 1237.2,840.5 1238.7,841.2 1240.2,841.7 1241.7,841.7 1243.2,841.6 1244.7,841.6 1246.2,841.5 1247.7,841.5 1249.2,840.8 1250.7,840.5 1252.2,840.5 1253.7,840.7 1255.2,840.8 1256.7,841.0 1258.2,841.2 1259.7,841.5 1261.2,841.4 1262.7,841.0 1264.2,840.7 1265.7,840.3 1267.2,840.7 1268.7,841.0 1270.2,841.3 1271.7,840.8 1273.2,840.0 1274.7,839.3 1276.2,838.8 1277.7,838.2 1279.2,838.3 1280.7,838.3 1282.2,838.6 1283.7,838.8 1285.2,838.8 1286.7,838.8 1288.2,838.8 1289.7,838.5 1291.2,838.7 1292.7,838.9 1294.2,839.2 1295.7,839.5 1297.2,839.2 1298.7,839.0 1300.2,838.7 1301.7,838.0 1303.2,837.8 1304.7,837.6 1306.2,837.3 1307.7,836.9 1309.2,836.9 1310.7,837.0 1312.2,837.2 1313.7,837.9 1315.2,838.3 1316.7,838.8 1318.2,839.3 1319.7,839.8 1321.2,840.2 1322.7,840.5 1324.2,840.7 1325.7,840.8 1327.2,840.8 1328.7,840.9 1330.2,841.2 1331.7,841.4 1333.2,841.8 1334.7,841.5 1336.2,841.2 1337.7,840.8 1339.2,840.5 1340.7,840.3 1342.2,840.0 1343.7,839.8 1345.2,839.6 1346.7,839.3 1348.2,838.9 1349.7,838.5 1351.2,838.7 1352.7,838.8 1354.2,839.0 1355.7,839.2 1357.2,839.5 1358.7,839.7 1360.2,839.9 1361.7,840.2 1363.2,840.3 1364.7,840.5 1366.2,840.6 1367.7,840.7 1369.2,841.0 1370.7,841.2 1372.2,841.5 1373.7,841.7 1375.2,842.0 1376.7,842.0 1378.2,841.9 1379.7,841.9 1381.2,841.7 1382.7,841.7 1384.2,841.9 1385.7,842.1 1387.2,842.7 1388.7,843.2 1390.2,843.6 1391.7,843.9 1393.2,844.0 1394.7,844.1 1396.2,844.2 1397.7,844.2 1399.2,843.6 1400.7,843.2 1402.2,842.9 1403.7,842.5 1405.2,842.9 1406.7,843.4 1408.2,843.9 1409.7,844.3 1411.2,844.1 1412.7,843.7 1414.2,843.3 1415.7,842.7 1417.2,842.3 1418.7,842.5 1420.2,842.8 1421.7,843.1 1423.2,843.0 1424.7,842.6 1426.2,842.3 1427.7,841.7 1429.2,841.4 1430.7,841.2 1432.2,841.0 1433.7,840.6 1435.2,840.2 1436.7,839.9 1438.2,840.0 1439.7,840.1 1441.2,840.2 1442.7,840.1 1444.2,840.1 1445.7,840.1 1447.2,839.9 1448.7,839.6 1450.2,839.2 1451.7,838.8 1453.2,838.8 1454.7,838.7 1456.2,838.7 1457.7,838.5 1459.2,838.3 1460.7,837.8 1462.2,837.3 1463.7,836.9 1465.2,836.5 1466.7,836.2 1468.2,835.9 1469.7,835.3 1471.2,834.6 1472.7,833.8 1474.2,833.0 1475.7,832.2 1477.2,831.7 1478.7,831.4 1480.2,831.2 1481.7,831.2 1483.2,831.0 1484.7,830.7 1486.2,830.5 1487.7,830.3 1489.2,829.5 1490.7,828.9 1492.2,828.7 1493.7,828.4 1495.2,829.1 1496.7,829.9 1498.2,830.6 1499.7,831.3 1501.2,831.3 1502.7,831.3 1504.2,831.2 1505.7,831.4 1507.2,831.3 1508.7,831.2 1510.2,830.9 1511.7,830.8 1513.2,830.8 1514.7,830.8 1516.2,830.8 1517.7,830.8 1519.2,830.5 1520.7,830.5 1522.2,830.7 1523.7,831.2 1525.2,831.7 1526.7,832.1 1528.2,832.7 1529.7,833.2 1531.2,834.4 1532.7,835.7 1534.2,836.9 1535.7,838.1 1537.2,838.4 1538.7,838.7 1540.2,838.9 1541.7,838.4 1543.2,838.7 1544.7,838.9 1546.2,839.0 1547.7,838.9 1549.2,838.5 1550.7,838.3 1552.2,838.0 1553.7,837.8 1555.2,836.8 1556.7,836.4 1558.2,836.0 1559.7,835.9 1561.2,836.2 1562.7,836.6 1564.2,838.2 1565.7,840.9 1567.2,844.0 1568.7,844.8 1570.2,844.9 1571.7,845.0 1573.2,844.7 1574.7,844.3 1576.2,843.8 1577.7,843.2 1579.2,842.3 1580.7,841.4 1582.2,840.6 1583.7,839.7 1585.2,839.1 1586.7,838.3 1588.2,837.6 1589.7,836.9 1591.2,836.5 1592.7,836.9 1594.2,837.7 1595.7,838.1 1597.2,839.1 1598.7,840.0 1600.2,840.7 1601.7,841.4 1603.2,841.4 1604.7,841.5 1606.2,841.5 1607.7,841.7 1609.2,841.5 1610.7,841.4 1612.2,841.2 1613.7,841.1 1615.2,842.0 1616.7,842.3 1618.2,842.3 1619.7,842.4 1621.2,842.0 1622.7,841.9 1624.2,841.8 1625.7,841.7 1627.2,841.4 1628.7,841.1 1630.2,841.0 1631.7,841.8 1633.2,842.5 1634.7,843.3 1636.2,844.2 1637.7,844.3 1639.2,844.4 1640.7,844.7 1642.2,844.9 1643.7,845.3 1645.2,845.1 1646.7,845.0 1648.2,844.8 1649.7,844.7 1651.2,844.6 1652.7,844.5 1654.2,844.5 1655.7,844.4 1657.2,845.1 1658.7,845.5 1660.2,845.8 1661.7,846.2 1663.2,846.7 1664.7,847.2 1666.2,847.7 1667.7,848.0 1669.2,848.5 1670.7,848.8 1672.2,848.7 1673.7,848.6 1675.2,849.0 1676.7,849.5 1678.2,849.9 1679.7,848.9 1681.2,847.1 1682.7,845.3 1684.2,844.5 1685.7,844.4 1687.2,845.0 1688.7,845.6 1690.2,846.4 1691.7,847.2 1693.2,847.6 1694.7,848.6 1696.2,849.7 1697.7,850.7 1699.2,851.5 1700.7,851.6 1702.2,851.0 1703.7,850.3 1705.2,850.1 1706.7,849.9 1708.2,849.9 1709.7,849.5 1711.2,849.1 1712.7,848.6 1714.2,848.1 1715.7,847.5 1717.2,846.4 1718.7,845.3 1720.2,845.7 1721.7,847.1 1723.2,848.7 1724.7,850.3 1726.2,850.7 1727.7,850.9 1729.2,850.5 1730.7,849.9 1732.2,849.2 1733.7,848.1 1735.2,847.6 1736.7,847.1 1738.2,846.6 1739.7,846.1 1741.2,845.3 1742.7,844.5 1744.2,843.6 1745.7,842.6 1747.2,842.8 1748.7,843.8 1750.2,844.8 1751.7,845.8 1753.2,845.8 1754.7,845.3 1756.2,844.7 1757.7,844.0 1759.2,844.7 1760.7,845.9 1762.2,847.2 1763.7,848.0 1765.2,847.5 1766.7,847.1 1768.2,846.8 1769.7,846.4 1771.2,846.1 1772.7,845.7 1774.2,845.4 1775.7,845.0 1777.2,844.2 1778.7,844.0 1780.2,843.8 1781.7,843.6 1783.2,844.2 1784.7,844.2 1786.2,844.2 1787.7,844.2 1789.2,843.6 1790.7,842.9 1792.2,842.1 1793.7,841.5 1795.2,841.1 1796.7,840.8 1798.2,840.4 1799.7,842.2 1801.2,844.3 1802.7,846.2 1804.2,847.1 1805.7,848.0 1807.2,848.5 1808.7,848.9 1810.2,849.3 1811.7,849.7 1813.2,850.7 1814.7,850.0 1816.2,848.9 1817.7,848.3 1819.2,849.9 1820.7,851.8 1822.2,853.8 1823.7,852.5 1825.2,850.4 1826.7,848.3 1828.2,847.5 1829.7,848.0 1831.2,849.2 1832.7,850.9 1834.2,852.7 1835.7,854.2 1836.0,853.6"/>
<polyline stroke="#000" points="293.7,797.4 295.2,818.6 296.7,839.9 298.2,859.4 299.7,865.3 301.2,865.5 302.7,862.4 304.2,859.5 305.7,856.0 307.2,851.5 308.7,843.9 310.2,827.0 311.7,825.9 313.2,823.6 314.7,821.6 316.2,818.6 317.7,819.6 319.2,818.0 320.7,818.1 322.2,816.6 323.7,819.3 325.2,818.7 326.7,820.0 328.2,820.6 329.7,822.2 331.2,825.1 332.7,826.8 334.2,826.1 335.7,826.0 337.2,824.3 338.7,823.2 340.2,821.7 341.7,821.4 343.2,823.0 344.7,824.2 346.2,824.8 347.7,825.6 349.2,826.2 350.7,827.4 352.2,828.2 353.7,828.0 355.2,828.0 356.7,827.4 358.2,829.7 359.7,831.5 361.2,832.1 362.7,830.1 364.2,830.9 365.7,830.5 367.2,833.1 368.7,837.9 370.2,840.1 371.7,840.2 373.2,837.9 374.7,838.5 376.2,837.8 377.7,836.6 379.2,835.7 380.7,836.5 382.2,839.2 383.7,841.5 385.2,842.5 386.7,843.8 388.2,844.2 389.7,844.5 391.2,842.5 392.7,843.1 394.2,841.6 395.7,841.9 397.2,838.8 398.7,840.4 400.2,839.7 401.7,838.3 403.2,837.7 404.7,837.7 406.2,839.1 407.7,841.8 409.2,843.3 410.7,845.2 412.2,847.6 413.7,848.5 415.2,848.6 416.7,848.3 418.2,849.7 419.7,849.1 421.2,848.3 422.7,848.3 424.2,847.4 425.7,847.2 427.2,846.7 428.7,848.2 430.2,849.8 431.7,849.8 433.2,851.8 434.7,852.2 436.2,852.1 437.7,850.0 439.2,851.6 440.7,851.0 442.2,851.4 443.7,852.4 445.2,851.2 446.7,851.3 448.2,852.5 449.7,853.8 451.2,855.4 452.7,857.3 454.2,859.0 455.7,858.4 457.2,855.5 458.7,852.5 460.2,849.6 461.7,848.9 463.2,847.4 464.7,847.0 466.2,848.9 467.7,849.6 469.2,852.8 470.7,852.4 472.2,854.9 473.7,854.3 475.2,854.0 476.7,855.1 478.2,852.7 479.7,852.5 481.2,854.3 482.7,854.0 484.2,856.7 485.7,858.6 487.2,861.4 488.7,863.6 490.2,861.3 491.7,861.0 493.2,858.8 494.7,859.9 496.2,858.2 497.7,859.1 499.2,858.1 500.7,858.7 502.2,859.8 503.7,858.7 505.2,859.7 506.7,859.0 508.2,861.0 509.7,862.2 511.2,862.4 512.7,862.0 514.2,860.1 515.7,859.7 517.2,861.0 518.7,861.2 520.2,861.3 521.7,860.7 523.2,862.9 524.7,862.1 526.2,862.9 527.7,860.5 529.2,859.5 530.7,857.8 532.2,855.6 533.7,854.7 535.2,853.8 536.7,853.0 538.2,851.3 539.7,853.0 541.2,857.1 542.7,857.2 544.2,861.1 545.7,862.6 547.2,862.5 548.7,862.4 550.2,863.3 551.7,865.4 553.2,863.0 554.7,860.9 556.2,856.0 557.7,855.2 559.2,854.7 560.7,857.2 562.2,857.8 563.7,856.5 565.2,856.0 566.7,854.5 568.2,851.8 569.7,854.6 571.2,857.8 572.7,860.0 574.2,859.8 575.7,860.3 577.2,858.4 578.7,858.7 580.2,859.4 581.7,861.7 583.2,858.9 584.7,857.1 586.2,854.7 587.7,852.9 589.2,854.0 590.7,853.2 592.2,853.7 593.7,854.4 595.2,854.6 596.7,854.6 598.2,852.7 599.7,850.3 601.2,850.2 602.7,851.0 604.2,853.0 605.7,855.7 607.2,855.6 608.7,857.6 610.2,855.6 611.7,855.2 613.2,853.4 614.7,853.7 616.2,853.6 617.7,854.7 619.2,853.7 620.7,850.2 622.2,848.7 623.7,849.6 625.2,847.7 626.7,847.6 628.2,845.6 629.7,843.1 631.2,843.6 632.7,846.0 634.2,847.4 635.7,849.5 637.2,848.0 638.7,847.9 640.2,849.3 641.7,845.9 643.2,844.1 644.7,841.1 646.2,840.1 647.7,837.5 649.2,834.7 650.7,834.1 652.2,831.8 653.7,835.9 655.2,840.0 656.7,843.5 658.2,845.3 659.7,848.3 661.2,850.4 662.7,849.9 664.2,849.5 665.7,850.4 667.2,849.0 668.7,849.7 670.2,847.6 671.7,848.9 673.2,847.3 674.7,846.0 676.2,846.4 677.7,844.6 679.2,844.9 680.7,845.3 682.2,845.9 683.7,845.8 685.2,845.0 686.7,844.6 688.2,845.6 689.7,844.8 691.2,846.0 692.7,847.5 694.2,849.0 695.7,849.3 697.2,850.3 698.7,851.4 700.2,850.4 701.7,850.6 703.2,849.6 704.7,849.0 706.2,849.3 707.7,850.4 709.2,848.8 710.7,847.7 712.2,848.4 713.7,847.1 715.2,847.5 716.7,848.2 718.2,849.1 719.7,847.9 721.2,848.2 722.7,849.5 724.2,851.9 725.7,853.8 727.2,855.1 728.7,855.1 730.2,855.4 731.7,855.4 733.2,855.7 734.7,855.0 736.2,857.2 737.7,858.0 739.2,858.5 740.7,856.3 742.2,856.7 743.7,856.2 745.2,855.4 746.7,854.9 748.2,853.6 749.7,853.3 751.2,854.3 752.7,854.9 754.2,854.8 755.7,853.2 757.2,854.4 758.7,855.1 760.2,855.4 761.7,853.4 763.2,852.4 764.7,852.9 766.2,852.8 767.7,852.3 769.2,852.6 770.7,853.2 772.2,852.6 773.7,853.6 775.2,854.2 776.7,853.2 778.2,851.5 779.7,851.6 781.2,851.5 782.7,854.4 784.2,854.2 785.7,853.3 787.2,855.0 788.7,854.3 790.2,855.2 791.7,855.6 793.2,856.4 794.7,857.0 796.2,858.1 797.7,856.0 799.2,856.3 800.7,853.3 802.2,852.1 803.7,853.9 805.2,854.6 806.7,855.8 808.2,858.1 809.7,857.5 811.2,859.0 812.7,856.6 814.2,857.0 815.7,855.8 817.2,853.6 818.7,851.0 820.2,851.2 821.7,849.0 823.2,850.4 824.7,850.5 826.2,850.4 827.7,852.0 829.2,852.0 830.7,850.9 832.2,849.7 833.7,849.1 835.2,848.9 836.7,847.3 838.2,847.6 839.7,846.1 841.2,844.8 842.7,844.6 844.2,842.7 845.7,843.5 847.2,841.4 848.7,844.2 850.2,845.4 851.7,848.1 853.2,844.2 854.7,839.8 856.2,837.7 857.7,837.1 859.2,837.0 860.7,837.5 862.2,836.8 863.7,836.2 865.2,836.8 866.7,834.3 868.2,832.1 869.7,829.6 871.2,830.6 872.7,829.5 874.2,829.6 875.7,829.9 877.2,829.6 878.7,829.6 880.2,829.9 881.7,831.1 883.2,831.1 884.7,828.5 886.2,826.3 887.7,822.6 889.2,822.4 890.7,821.7 892.2,823.6 893.7,824.4 895.2,825.3 896.7,825.4 898.2,825.3 899.7,824.5 901.2,825.0 902.7,824.6 904.2,821.9 905.7,820.2 907.2,821.2 908.7,822.4 910.2,824.7 911.7,824.8 913.2,824.1 914.7,823.5 916.2,823.1 917.7,822.9 919.2,823.6 920.7,822.2 922.2,822.7 923.7,822.0 925.2,822.8 926.7,823.1 928.2,824.9 929.7,823.6 931.2,824.3 932.7,826.0 934.2,827.3 935.7,828.0 937.2,827.8 938.7,827.3 940.2,829.3 941.7,828.9 943.2,829.6 944.7,830.9 946.2,830.9 947.7,833.1 949.2,834.0 950.7,835.5 952.2,835.0 953.7,832.8 955.2,831.5 956.7,831.9 958.2,832.6 959.7,832.0 961.2,831.3 962.7,833.9 964.2,834.6 965.7,833.7 967.2,832.7 968.7,834.2 970.2,834.4 971.7,834.3 973.2,835.8 974.7,834.9 976.2,834.2 977.7,832.1 979.2,831.7 980.7,830.0 982.2,829.3 983.7,830.1 985.2,829.4 986.7,829.3 988.2,830.7 989.7,829.9 991.2,830.3 992.7,832.3 994.2,834.0 995.7,835.5 997.2,835.9 998.7,835.4 1000.2,834.3 1001.7,836.0 1003.2,834.5 1004.7,835.5 1006.2,835.3 1007.7,835.1 1009.2,833.8 1010.7,831.0 1012.2,830.1 1013.7,828.5 1015.2,828.1 1016.7,827.5 1018.2,829.2 1019.7,829.1 1021.2,828.2 1022.7,829.7 1024.2,832.0 1025.7,831.0 1027.2,832.6 1028.7,834.4 1030.2,833.9 1031.7,832.9 1033.2,830.8 1034.7,826.9 1036.2,824.7 1037.7,826.2 1039.2,826.3 1040.7,825.2 1042.2,825.6 1043.7,826.4 1045.2,828.3 1046.7,828.0 1048.2,830.3 1049.7,832.2 1051.2,831.7 1052.7,832.5 1054.2,831.3 1055.7,831.7 1057.2,832.2 1058.7,834.7 1060.2,834.1 1061.7,838.1 1063.2,839.2 1064.7,839.8 1066.2,843.0 1067.7,842.3 1069.2,843.1 1070.7,842.3 1072.2,843.8 1073.7,844.7 1075.2,844.6 1076.7,842.4 1078.2,843.5 1079.7,843.0 1081.2,843.6 1082.7,844.9 1084.2,847.1 1085.7,847.4 1087.2,846.9 1088.7,844.3 1090.2,843.3 1091.7,843.5 1093.2,841.6 1094.7,840.5 1096.2,839.5 1097.7,841.0 1099.2,841.5 1100.7,845.2 1102.2,847.1 1103.7,848.3 1105.2,848.1 1106.7,849.5 1108.2,848.7 1109.7,849.8 1111.2,849.5 1112.7,851.4 1114.2,849.5 1115.7,848.2 1117.2,847.2 1118.7,848.5 1120.2,848.7 1121.7,848.7 1123.2,847.9 1124.7,849.3 1126.2,850.6 1127.7,851.7 1129.2,850.4 1130.7,851.4 1132.2,853.0 1133.7,852.0 1135.2,849.6 1136.7,848.6 1138.2,847.5 1139.7,847.4 1141.2,846.1 1142.7,844.9 1144.2,843.7 1145.7,843.9 1147.2,845.5 1148.7,846.8 1150.2,849.5 1151.7,849.5 1153.2,848.4 1154.7,846.1 1156.2,843.3 1157.7,840.4 1159.2,839.1 1160.7,841.3 1162.2,842.4 1163.7,840.5 1165.2,840.1 1166.7,837.2 1168.2,840.5 1169.7,840.9 1171.2,843.4 1172.7,844.0 1174.2,844.9 1175.7,845.1 1177.2,844.2 1178.7,842.8 1180.2,842.8 1181.7,845.7 1183.2,846.5 1184.7,848.7 1186.2,847.4 1187.7,846.8 1189.2,846.9 1190.7,848.0 1192.2,848.6 1193.7,850.2 1195.2,849.7 1196.7,847.3 1198.2,846.2 1199.7,847.8 1201.2,848.4 1202.7,847.6 1204.2,847.7 1205.7,846.9 1207.2,847.2 1208.7,847.9 1210.2,848.2 1211.7,848.1 1213.2,848.2 1214.7,845.6 1216.2,844.8 1217.7,843.4 1219.2,843.0 1220.7,843.8 1222.2,842.5 1223.7,843.8 1225.2,845.1 1226.7,845.3 1228.2,845.6 1229.7,843.8 1231.2,844.0 1232.7,842.6 1234.2,842.6 1235.7,841.4 1237.2,843.2 1238.7,844.9 1240.2,845.7 1241.7,842.7 1243.2,842.2 1244.7,844.3 1246.2,846.0 1247.7,845.3 1249.2,844.4 1250.7,843.7 1252.2,842.9 1253.7,843.0 1255.2,843.0 1256.7,841.8 1258.2,841.9 1259.7,841.5 1261.2,842.8 1262.7,842.6 1264.2,843.5 1265.7,845.9 1267.2,845.6 1268.7,846.0 1270.2,846.5 1271.7,845.1 1273.2,843.9 1274.7,841.6 1276.2,840.8 1277.7,840.5 1279.2,840.7 1280.7,841.0 1282.2,840.4 1283.7,840.2 1285.2,841.8 1286.7,843.6 1288.2,843.8 1289.7,842.4 1291.2,843.4 1292.7,842.1 1294.2,841.5 1295.7,841.5 1297.2,840.7 1298.7,841.0 1300.2,840.1 1301.7,839.9 1303.2,839.0 1304.7,841.4 1306.2,840.6 1307.7,840.4 1309.2,837.8 1310.7,838.7 1312.2,838.8 1313.7,842.2 1315.2,843.7 1316.7,843.0 1318.2,841.8 1319.7,840.9 1321.2,841.4 1322.7,843.1 1324.2,841.6 1325.7,843.3 1327.2,843.9 1328.7,844.8 1330.2,843.5 1331.7,843.3 1333.2,843.0 1334.7,845.1 1336.2,843.9 1337.7,844.7 1339.2,843.6 1340.7,841.9 1342.2,840.7 1343.7,841.4 1345.2,844.0 1346.7,843.1 1348.2,843.7 1349.7,841.2 1351.2,841.3 1352.7,841.0 1354.2,843.4 1355.7,843.4 1357.2,842.9 1358.7,842.5 1360.2,840.8 1361.7,842.3 1363.2,844.6 1364.7,844.5 1366.2,845.0 1367.7,846.1 1369.2,845.5 1370.7,844.8 1372.2,844.2 1373.7,843.9 1375.2,843.7 1376.7,843.8 1378.2,843.0 1379.7,844.3 1381.2,842.9 1382.7,844.7 1384.2,845.6 1385.7,844.8 1387.2,845.2 1388.7,846.0 1390.2,845.1 1391.7,845.4 1393.2,846.5 1394.7,845.7 1396.2,846.3 1397.7,846.5 1399.2,844.7 1400.7,843.8 1402.2,844.5 1403.7,844.1 1405.2,845.0 1406.7,846.5 1408.2,847.6 1409.7,849.6 1411.2,847.9 1412.7,845.9 1414.2,845.2 1415.7,846.2 1417.2,845.9 1418.7,847.2 1420.2,846.8 1421.7,845.9 1423.2,843.3 1424.7,846.0 1426.2,845.9 1427.7,845.8 1429.2,844.2 1430.7,844.4 1432.2,841.5 1433.7,842.1 1435.2,843.4 1436.7,845.8 1438.2,844.9 1439.7,845.6 1441.2,844.2 1442.7,844.9 1444.2,844.5 1445.7,844.2 1447.2,844.5 1448.7,842.9 1450.2,841.5 1451.7,842.8 1453.2,841.4 1454.7,840.4 1456.2,839.9 1457.7,841.0 1459.2,840.4 1460.7,839.5 1462.2,840.7 1463.7,841.5 1465.2,840.3 1466.7,838.8 1468.2,838.6 1469.7,839.1 1471.2,839.2 1472.7,838.0 1474.2,837.5 1475.7,835.8 1477.2,833.7 1478.7,834.1 1480.2,833.2 1481.7,834.8 1483.2,833.6 1484.7,834.2 1486.2,835.4 1487.7,835.6 1489.2,832.6 1490.7,831.9 1492.2,831.2 1493.7,831.7 1495.2,831.6 1496.7,831.7 1498.2,833.0 1499.7,832.6 1501.2,833.6 1502.7,832.6 1504.2,833.3 1505.7,832.1 1507.2,834.1 1508.7,832.5 1510.2,833.8 1511.7,834.7 1513.2,836.5 1514.7,835.4 1516.2,836.4 1517.7,835.5 1519.2,833.5 1520.7,834.0 1522.2,832.1 1523.7,835.2 1525.2,835.4 1526.7,836.3 1528.2,837.1 1529.7,834.9 1531.2,835.0 1532.7,836.9 1534.2,839.6 1535.7,840.3 1537.2,842.0 1538.7,842.5 1540.2,844.8 1541.7,841.5 1543.2,842.1 1544.7,840.6 1546.2,842.0 1547.7,843.1 1549.2,844.0 1550.7,842.0 1552.2,841.5 1553.7,840.5 1555.2,840.6 1556.7,837.7 1558.2,836.5 1559.7,837.5 1561.2,838.2 1562.7,839.4 1564.2,839.5 1565.7,842.7 1567.2,845.8 1568.7,847.2 1570.2,846.9 1571.7,846.7 1573.2,848.2 1574.7,848.0 1576.2,848.6 1577.7,847.4 1579.2,844.2 1580.7,844.0 1582.2,842.8 1583.7,842.0 1585.2,844.2 1586.7,841.1 1588.2,839.6 1589.7,838.8 1591.2,837.9 1592.7,839.3 1594.2,839.3 1595.7,839.6 1597.2,841.7 1598.7,844.1 1600.2,844.1 1601.7,843.8 1603.2,842.9 1604.7,842.7 1606.2,843.7 1607.7,845.5 1609.2,845.5 1610.7,846.1 1612.2,846.5 1613.7,846.2 1615.2,844.9 1616.7,844.6 1618.2,846.4 1619.7,845.7 1621.2,844.5 1622.7,844.8 1624.2,843.1 1625.7,842.3 1627.2,842.9 1628.7,843.5 1630.2,844.3 1631.7,843.3 1633.2,845.0 1634.7,845.0 1636.2,846.4 1637.7,847.8 1639.2,849.0 1640.7,846.7 1642.2,847.1 1643.7,847.0 1645.2,847.6 1646.7,847.9 1648.2,847.4 1649.7,848.7 1651.2,847.9 1652.7,846.3 1654.2,846.7 1655.7,847.8 1657.2,846.8 1658.7,848.1 1660.2,850.2 1661.7,851.0 1663.2,849.2 1664.7,849.9 1666.2,848.7 1667.7,849.7 1669.2,850.5 1670.7,849.4 1672.2,850.8 1673.7,852.0 1675.2,853.7 1676.7,852.7 1678.2,852.5 1679.7,851.2 1681.2,850.1 1682.7,848.2 1684.2,849.2 1685.7,849.9 1687.2,849.7 1688.7,849.9 1690.2,850.9 1691.7,850.6 1693.2,849.9 1694.7,851.2 1696.2,850.8 1697.7,852.8 1699.2,852.2 1700.7,852.7 1702.2,853.3 1703.7,853.4 1705.2,854.6 1706.7,855.1 1708.2,853.9 1709.7,852.4 1711.2,851.3 1712.7,849.7 1714.2,851.0 1715.7,849.8 1717.2,848.8 1718.7,849.2 1720.2,849.3 1721.7,850.5 1723.2,851.5 1724.7,851.8 1726.2,851.8 1727.7,852.0 1729.2,853.2 1730.7,852.8 1732.2,850.7 1733.7,848.9 1735.2,848.6 1736.7,848.9 1738.2,850.0 1739.7,847.9 1741.2,847.5 1742.7,846.8 1744.2,846.7 1745.7,846.3 1747.2,844.3 1748.7,845.2 1750.2,847.7 1751.7,848.5 1753.2,847.0 1754.7,847.1 1756.2,847.1 1757.7,845.7 1759.2,846.4 1760.7,847.5 1762.2,848.2 1763.7,848.5 1765.2,848.0 1766.7,847.9 1768.2,847.4 1769.7,848.3 1771.2,849.1 1772.7,848.7 1774.2,850.5 1775.7,849.5 1777.2,847.4 1778.7,847.0 1780.2,846.8 1781.7,848.8 1783.2,849.2 1784.7,846.8 1786.2,845.7 1787.7,845.6 1789.2,845.6 1790.7,847.0 1792.2,846.5 1793.7,846.3 1795.2,845.2 1796.7,842.6 1798.2,843.7 1799.7,845.2 1801.2,848.8 1802.7,850.6 1804.2,851.1 1805.7,850.5 1807.2,850.8 1808.7,852.7 1810.2,853.1 1811.7,851.8 1813.2,852.3 1814.7,851.7 1816.2,850.6 1817.7,852.0 1819.2,853.7 1820.7,854.7 1822.2,856.0 1823.7,854.0 1825.2,852.4 1826.7,848.9 1828.2,849.7 1829.7,848.7 1831.2,849.7 1832.7,851.9 1834.2,854.5 1835.7,856.4 1836.0,857.1"/>
<polyline stroke="#f00" points="290.8,940.1 292.3,941.7 293.8,942.9 295.3,943.8 296.8,944.0 298.3,944.3 299.8,943.9 301.3,944.6 302.8,944.4 304.3,942.6 305.8,944.9 307.3,944.6 308.8,944.6 310.3,944.8 311.8,946.8 313.3,947.2 314.8,946.8 316.3,947.9 317.8,948.7 319.3,949.2 320.8,947.6 322.3,948.1 323.8,946.5 325.3,945.8 326.8,945.2 328.3,946.5 329.8,947.7 331.3,947.9 332.8,949.1 334.3,950.1 335.8,950.5 337.3,949.9 338.8,949.4 340.3,949.3 341.8,949.2 343.3,950.9 344.8,952.1 346.3,954.6 347.8,955.2 349.3,956.5 350.8,955.2 352.3,953.6 353.8,953.1 355.3,950.8 356.8,949.8 358.3,949.4 359.8,951.7 361.3,953.4 362.8,953.9 364.3,953.9 365.8,954.2 367.3,954.1 368.8,956.0 370.3,958.7 371.8,960.1 373.3,962.0 374.8,953.4 376.3,944.6 377.8,940.5 379.3,935.4 380.8,933.4 382.3,935.2 383.8,939.0 385.3,945.3 386.8,951.5 388.3,953.8 389.8,956.9 391.3,959.4 392.8,959.0 394.3,958.4 395.8,955.0 397.3,952.7 398.8,949.4 400.3,946.0 401.8,943.2 403.3,940.8 404.8,936.4 406.3,938.0 407.8,938.5 409.3,940.8 410.8,940.7 412.3,939.1 413.8,938.2 415.3,936.2 416.8,934.9 418.3,936.6 419.8,938.1 421.3,939.3 422.8,937.8 424.3,936.7 425.8,933.6 427.3,933.0 428.8,932.9 430.3,931.3 431.8,929.6 433.3,929.2 434.8,929.2 436.3,929.9 437.8,928.6 439.3,925.4 440.8,922.5 442.3,920.0 443.8,919.0 445.3,920.8 446.8,921.0 448.3,921.4 449.8,921.3 451.3,921.9 452.8,920.4 454.3,921.5 455.8,920.8 457.3,921.7 458.8,922.0 460.3,922.0 461.8,918.6 463.3,915.9 464.8,912.7 466.3,914.0 467.8,918.0 469.3,921.2 470.8,925.3 472.3,928.0 473.8,928.7 475.3,928.3 476.8,926.1 478.3,926.6 479.8,924.7 481.3,924.2 482.8,925.3 484.3,926.0 485.8,926.3 487.3,926.4 488.8,927.4 490.3,925.8 491.8,924.1 493.3,923.3 494.8,922.5 496.3,923.6 497.8,924.9 499.3,923.6 500.8,923.0 502.3,921.1 503.8,919.3 505.3,919.1 506.8,921.2 508.3,923.9 509.8,925.9 511.3,928.3 512.8,926.6 514.3,926.1 515.8,923.5 517.3,921.6 518.8,918.7 520.3,915.6 521.8,913.3 523.3,908.1 524.8,902.4 526.3,903.8 527.8,907.1 529.3,910.7 530.8,913.4 532.3,914.9 533.8,911.8 535.3,911.3 536.8,910.6 538.3,913.7 539.8,919.0 541.3,924.1 542.8,926.3 544.3,928.6 545.8,929.4 547.3,926.7 548.8,922.6 550.3,919.1 551.8,916.6 553.3,913.9 554.8,911.5 556.3,910.1 557.8,908.4 559.3,907.5 560.8,906.9 562.3,907.8 563.8,908.3 565.3,911.5 566.8,912.9 568.3,913.5 569.8,912.0 571.3,911.8 572.8,909.6 574.3,908.5 575.8,908.8 577.3,910.3 578.8,910.8 580.3,913.7 581.8,915.4 583.3,915.5 584.8,914.3 586.3,912.5 587.8,911.3 589.3,910.8 590.8,911.7 592.3,910.8 593.8,909.3 595.3,908.1 596.8,908.1 598.3,907.6 599.8,906.9 601.3,907.1 602.8,906.7 604.3,907.7 605.8,907.2 607.3,907.8 608.8,906.5 610.3,905.0 611.8,904.7 613.3,901.7 614.8,901.7 616.3,901.0 617.8,899.6 619.3,900.4 620.8,899.5 622.3,900.1 623.8,899.5 625.3,898.5 626.8,898.5 628.3,895.6 629.8,895.8 631.3,893.6 632.8,892.8 634.3,891.7 635.8,892.4 637.3,891.0 638.8,891.5 640.3,890.6 641.8,890.9 643.3,889.4 644.8,887.0 646.3,886.8 647.8,886.0 649.3,883.9 650.8,883.3 652.3,881.7 653.8,881.4 655.3,883.0 656.8,883.5 658.3,884.7 659.8,884.9 661.3,886.0 662.8,887.2 664.3,886.7 665.8,884.8 667.3,884.1 668.8,881.9 670.3,881.9 671.8,880.0 673.3,878.5 674.8,880.4 676.3,880.2 677.8,882.1 679.3,879.8 680.8,880.3 682.3,877.6 683.8,878.1 685.3,877.6 686.8,879.2 688.3,878.9 689.8,878.9 691.3,879.5 692.8,878.1 694.3,878.9 695.8,878.2 697.3,879.1 698.8,879.0 700.3,877.4 701.8,878.0 703.3,877.8 704.8,877.6 706.3,878.0 707.8,877.7 709.3,879.1 710.8,878.4 712.3,879.2 713.8,881.4 715.3,880.7 716.8,881.3 718.3,881.2 719.8,879.8 721.3,878.3 722.8,878.6 724.3,877.6 725.8,878.2 727.3,877.2 728.8,879.2 730.3,879.2 731.8,881.6 733.3,881.6 734.8,882.9 736.3,882.6 737.8,881.5 739.3,880.4 740.8,879.9 742.3,879.8 743.8,879.8 745.3,881.8 746.8,881.6 748.3,881.8 749.8,882.2 751.3,880.9 752.8,880.9 754.3,880.6 755.8,880.1 757.3,879.3 758.8,877.4 760.3,879.2 761.8,879.9 763.3,880.5 764.8,880.8 766.3,880.6 767.8,881.0 769.3,879.7 770.8,878.0 772.3,877.6 773.8,878.3 775.3,879.0 776.8,879.0 778.3,878.7 779.8,880.5 781.3,880.0 782.8,882.0 784.3,883.0 785.8,882.4 787.3,883.0 788.8,883.5 790.3,882.2 791.8,883.4 793.3,883.9 794.8,884.3 796.3,884.7 797.8,884.7 799.3,884.7 800.8,885.1 802.3,885.4 803.8,886.4 805.3,885.5 806.8,884.4 808.3,884.2 809.8,884.0 811.3,884.2 812.8,885.2 814.3,884.1 815.8,882.6 817.3,882.2 818.8,880.1 820.3,880.2 821.8,878.0 823.3,879.1 824.8,877.3 826.3,877.1 827.8,877.4 829.3,876.2 830.8,876.1 832.3,876.3 833.8,878.5 835.3,879.1 836.8,879.0 838.3,878.8 839.8,878.4 841.3,877.6 842.8,877.5 844.3,876.5 845.8,876.7 847.3,877.5 848.8,878.6 850.3,877.2 851.8,877.5 853.3,876.4 854.8,878.2 856.3,879.2 857.8,878.7 859.3,877.6 860.8,874.7 862.3,874.6 863.8,874.8 865.3,876.4 866.8,875.5 868.3,877.5 869.8,876.7 871.3,878.0 872.8,877.3 874.3,877.2 875.8,878.6 877.3,877.5 878.8,878.2 880.3,877.3 881.8,879.0 883.3,879.1 884.8,877.3 886.3,877.8 887.8,876.3 889.3,875.5 890.8,876.2 892.3,877.4 893.8,878.5 895.3,878.2 896.8,877.8 898.3,875.4 899.8,873.7 901.3,871.0 902.8,870.9 904.3,871.9 905.8,872.8 907.3,875.5 908.8,876.3 910.3,877.2 911.8,878.3 913.3,878.0 914.8,878.5 916.3,878.8 917.8,878.1 919.3,879.1 920.8,879.7 922.3,880.0 923.8,880.0 925.3,880.3 926.8,878.6 928.3,877.3 929.8,875.7 931.3,872.4 932.8,870.9 934.3,869.9 935.8,870.8 937.3,869.6 938.8,869.2 940.3,869.9 941.8,869.9 943.3,870.0 944.8,870.5 946.3,869.4 947.8,870.1 949.3,870.7 950.8,870.2 952.3,870.2 953.8,871.4 955.3,871.2 956.8,870.9 958.3,870.9 959.8,871.0 961.3,871.5 962.8,870.6 964.3,871.1 965.8,870.1 967.3,868.7 968.8,868.0 970.3,868.5 971.8,867.7 973.3,868.0 974.8,868.7 976.3,869.3 977.8,870.8 979.3,871.2 980.8,871.2 982.0,871.6"/>
<polyline stroke="#f00" points="290.8,946.2 292.3,946.3 293.8,946.5 295.3,946.7 296.8,947.1 298.3,947.6 299.8,948.0 301.3,948.3 302.8,948.4 304.3,948.8 305.8,949.4 307.3,950.0 308.8,950.6 310.3,950.8 311.8,951.4 313.3,952.0 314.8,952.6 316.3,953.1 317.8,953.6 319.3,953.5 320.8,953.1 322.3,953.0 323.8,952.7 325.3,952.4 326.8,952.2 328.3,952.8 329.8,953.4 331.3,954.0 332.8,954.6 334.3,954.6 335.8,954.4 337.3,954.3 338.8,954.2 340.3,954.5 341.8,954.6 343.3,955.5 344.8,956.5 346.3,957.7 347.8,959.0 349.3,959.2 350.8,958.8 352.3,957.7 353.8,956.6 355.3,955.9 356.8,955.6 358.3,956.1 359.8,956.3 361.3,956.5 362.8,957.1 364.3,957.4 365.8,957.7 367.3,957.9 368.8,959.0 370.3,962.0 371.8,963.7 373.3,964.6 374.8,956.8 376.3,949.3 377.8,943.7 379.3,938.7 380.8,937.3 382.3,938.7 383.8,942.0 385.3,949.3 386.8,956.1 388.3,959.5 389.8,962.8 391.3,964.5 392.8,963.4 394.3,961.7 395.8,960.1 397.3,957.7 398.8,953.9 400.3,950.1 401.8,947.2 403.3,944.2 404.8,941.1 406.3,942.4 407.8,944.4 409.3,946.5 410.8,946.4 412.3,944.4 413.8,942.4 415.3,940.9 416.8,941.3 418.3,941.8 419.8,942.4 421.3,942.9 422.8,942.1 424.3,940.6 425.8,939.0 427.3,937.5 428.8,936.0 430.3,934.4 431.8,933.0 433.3,933.0 434.8,933.0 436.3,933.3 437.8,931.8 439.3,929.6 440.8,927.3 442.3,925.7 443.8,925.6 445.3,925.3 446.8,925.0 448.3,924.8 449.8,924.9 451.3,924.9 452.8,925.0 454.3,925.2 455.8,925.8 457.3,926.4 458.8,926.9 460.3,925.6 461.8,923.3 463.3,921.2 464.8,919.2 466.3,920.9 467.8,923.1 469.3,925.3 470.8,928.0 472.3,931.1 473.8,933.0 475.3,932.4 476.8,931.6 478.3,930.6 479.8,929.6 481.3,929.8 482.8,930.2 484.3,931.0 485.8,931.6 487.3,931.6 488.8,930.7 490.3,929.2 491.8,927.7 493.3,926.3 494.8,926.9 496.3,927.9 497.8,928.9 499.3,928.6 500.8,927.6 502.3,926.6 503.8,925.5 505.3,925.1 506.8,926.9 508.3,929.1 509.8,931.2 511.3,933.3 512.8,932.9 514.3,931.4 515.8,929.9 517.3,927.9 518.8,924.9 520.3,921.6 521.8,918.3 523.3,913.6 524.8,908.9 526.3,910.1 527.8,912.2 529.3,914.8 530.8,917.9 532.3,919.6 533.8,918.5 535.3,917.3 536.8,916.6 538.3,921.1 539.8,925.5 541.3,929.8 542.8,932.3 544.3,934.0 545.8,933.3 547.3,930.4 548.8,927.4 550.3,924.3 551.8,921.4 553.3,918.7 554.8,915.9 556.3,915.0 557.8,914.1 559.3,913.3 560.8,912.4 562.3,912.2 563.8,913.4 565.3,914.6 566.8,915.9 568.3,916.9 569.8,916.1 571.3,915.3 572.8,914.4 574.3,913.6 575.8,913.8 577.3,914.6 578.8,915.4 580.3,916.9 581.8,918.2 583.3,918.0 584.8,918.0 586.3,917.4 587.8,916.7 589.3,915.8 590.8,914.9 592.3,913.6 593.8,912.2 595.3,911.1 596.8,910.8 598.3,911.4 599.8,912.0 601.3,911.9 602.8,911.8 604.3,911.6 605.8,911.4 607.3,911.1 608.8,910.8 610.3,910.2 611.8,909.2 613.3,908.2 614.8,907.2 616.3,906.2 617.8,905.2 619.3,904.2 620.8,903.4 622.3,903.3 623.8,903.1 625.3,902.7 626.8,902.1 628.3,901.0 629.8,899.8 631.3,898.7 632.8,897.5 634.3,896.8 635.8,896.2 637.3,895.7 638.8,895.1 640.3,894.5 641.8,893.4 643.3,892.1 644.8,890.9 646.3,890.0 647.8,889.3 649.3,888.6 650.8,887.8 652.3,886.7 653.8,886.1 655.3,886.5 656.8,887.0 658.3,888.2 659.8,889.4 661.3,889.6 662.8,889.6 664.3,888.5 665.8,887.2 667.3,885.9 668.8,884.7 670.3,884.5 671.8,884.2 673.3,884.1 674.8,883.9 676.3,883.8 677.8,883.7 679.3,883.6 680.8,883.4 682.3,882.5 683.8,881.9 685.3,881.7 686.8,881.6 688.3,882.1 689.8,882.5 691.3,882.3 692.8,881.8 694.3,881.4 695.8,880.9 697.3,880.8 698.8,881.0 700.3,881.3 701.8,881.5 703.3,881.7 704.8,881.3 706.3,881.1 707.8,880.9 709.3,880.6 710.8,881.0 712.3,881.6 713.8,882.2 715.3,882.8 716.8,883.4 718.3,882.7 719.8,882.1 721.3,881.4 722.8,880.8 724.3,880.9 725.8,881.0 727.3,881.2 728.8,881.4 730.3,882.0 731.8,882.5 733.3,883.1 734.8,883.7 736.3,883.6 737.8,883.5 739.3,883.1 740.8,882.7 742.3,882.5 743.8,882.3 745.3,882.1 746.8,882.0 748.3,882.3 749.8,882.6 751.3,882.8 752.8,883.1 754.3,882.8 755.8,882.1 757.3,881.4 758.8,881.0 760.3,881.5 761.8,882.0 763.3,882.6 764.8,882.9 766.3,882.4 767.8,881.9 769.3,881.5 770.8,881.2 772.3,881.5 773.8,881.6 775.3,881.8 776.8,882.0 778.3,882.5 779.8,883.1 781.3,883.6 782.8,884.0 784.3,884.4 785.8,884.9 787.3,885.4 788.8,885.9 790.3,886.3 791.8,886.7 793.3,887.1 794.8,887.5 796.3,887.6 797.8,887.7 799.3,887.5 800.8,887.2 802.3,887.5 803.8,887.8 805.3,887.9 806.8,888.0 808.3,887.3 809.8,886.6 811.3,886.0 812.8,885.3 814.3,884.5 815.8,883.5 817.3,882.6 818.8,881.6 820.3,881.1 821.8,880.6 823.3,880.3 824.8,879.9 826.3,879.5 827.8,879.6 829.3,879.8 830.8,880.0 832.3,879.9 833.8,879.8 835.3,879.8 836.8,880.1 838.3,880.0 839.8,879.9 841.3,879.4 842.8,878.9 844.3,878.8 845.8,878.8 847.3,878.8 848.8,878.9 850.3,879.3 851.8,879.7 853.3,880.2 854.8,880.6 856.3,880.0 857.8,879.4 859.3,878.8 860.8,878.2 862.3,878.6 863.8,879.2 865.3,879.9 866.8,880.6 868.3,880.5 869.8,880.3 871.3,879.9 872.8,879.3 874.3,878.9 875.8,878.6 877.3,878.5 878.8,878.7 880.3,879.0 881.8,879.3 883.3,879.2 884.8,879.0 886.3,878.9 887.8,878.7 889.3,878.6 890.8,878.5 892.3,878.6 893.8,878.7 895.3,878.8 896.8,878.8 898.3,877.5 899.8,876.2 901.3,874.9 902.8,874.4 904.3,875.0 905.8,875.6 907.3,876.6 908.8,878.3 910.3,879.2 911.8,880.0 913.3,880.2 914.8,880.4 916.3,880.9 917.8,881.1 919.3,881.2 920.8,881.3 922.3,882.3 923.8,883.2 925.3,883.8 926.8,883.0 928.3,881.5 929.8,879.1 931.3,876.0 932.8,873.4 934.3,873.2 935.8,873.0 937.3,872.8 938.8,872.6 940.3,872.6 941.8,872.8 943.3,873.0 944.8,873.1 946.3,873.3 947.8,873.5 949.3,873.9 950.8,874.2 952.3,874.3 953.8,874.2 955.3,874.2 956.8,874.2 958.3,874.1 959.8,873.8 961.3,873.6 962.8,873.1 964.3,872.5 965.8,871.9 967.3,871.3 968.8,870.7 970.3,871.1 971.8,871.5 973.3,871.9 974.8,872.3 976.3,872.1 977.8,871.8 979.3,871.8 980.8,871.9 982.0,872.0"/>
<polyline stroke="#f00" points="290.8,949.9 292.3,950.4 293.8,951.1 295.3,951.6 296.8,951.3 298.3,951.7 299.8,952.6 301.3,953.4 302.8,953.8 304.3,955.0 305.8,955.1 307.3,953.9 308.8,953.1 310.3,955.1 311.8,956.9 313.3,957.3 314.8,958.0 316.3,958.1 317.8,956.5 319.3,957.3 320.8,958.5 322.3,958.9 323.8,959.1 325.3,958.3 326.8,956.4 328.3,957.9 329.8,958.5 331.3,958.6 332.8,961.0 334.3,959.9 335.8,959.9 337.3,959.5 338.8,957.6 340.3,957.7 341.8,957.7 343.3,959.6 344.8,959.6 346.3,962.3 347.8,964.2 349.3,964.8 350.8,963.7 352.3,962.7 353.8,962.0 355.3,961.1 356.8,961.2 358.3,961.5 359.8,961.0 361.3,961.3 362.8,962.3 364.3,961.4 365.8,962.1 367.3,962.0 368.8,962.8 370.3,965.3 371.8,967.3 373.3,969.2 374.8,961.5 376.3,954.9 377.8,948.9 379.3,943.2 380.8,941.7 382.3,942.3 383.8,946.6 385.3,953.8 386.8,961.0 388.3,962.9 389.8,966.6 391.3,968.1 392.8,967.3 394.3,965.6 395.8,964.0 397.3,963.1 398.8,959.9 400.3,955.0 401.8,950.4 403.3,947.6 404.8,945.9 406.3,948.4 407.8,950.9 409.3,951.3 410.8,952.3 412.3,949.5 413.8,946.5 415.3,945.7 416.8,945.6 418.3,946.1 419.8,945.5 421.3,946.5 422.8,945.9 424.3,944.7 425.8,944.5 427.3,942.8 428.8,940.8 430.3,939.5 431.8,939.0 433.3,938.5 434.8,939.3 436.3,938.5 437.8,937.2 439.3,932.8 440.8,931.4 442.3,930.0 443.8,930.2 445.3,931.1 446.8,930.9 448.3,931.2 449.8,930.7 451.3,929.8 452.8,929.3 454.3,930.8 455.8,930.6 457.3,932.6 458.8,934.1 460.3,931.2 461.8,930.2 463.3,926.8 464.8,925.9 466.3,927.9 467.8,929.1 469.3,931.5 470.8,933.9 472.3,937.0 473.8,937.7 475.3,936.3 476.8,935.8 478.3,936.1 479.8,936.5 481.3,936.0 482.8,936.3 484.3,935.5 485.8,936.1 487.3,935.4 488.8,934.0 490.3,934.4 491.8,932.7 493.3,933.0 494.8,933.6 496.3,934.6 497.8,933.5 499.3,933.8 500.8,933.4 502.3,933.3 503.8,930.6 505.3,931.1 506.8,932.0 508.3,933.7 509.8,935.8 511.3,935.7 512.8,936.7 514.3,935.8 515.8,935.3 517.3,932.7 518.8,929.6 520.3,925.3 521.8,921.2 523.3,917.8 524.8,912.5 526.3,913.7 527.8,917.7 529.3,920.9 530.8,922.3 532.3,924.6 533.8,922.6 535.3,920.7 536.8,919.9 538.3,926.2 539.8,931.0 541.3,934.5 542.8,938.6 544.3,939.6 545.8,937.8 547.3,934.4 548.8,932.4 550.3,928.9 551.8,927.6 553.3,924.3 554.8,919.7 556.3,918.6 557.8,918.2 559.3,918.0 560.8,917.1 562.3,916.7 563.8,918.1 565.3,920.1 566.8,920.6 568.3,922.9 569.8,922.2 571.3,919.5 572.8,918.7 574.3,917.2 575.8,916.5 577.3,918.6 578.8,919.5 580.3,921.1 581.8,923.1 583.3,924.2 584.8,924.3 586.3,922.2 587.8,921.4 589.3,919.5 590.8,918.6 592.3,917.8 593.8,917.5 595.3,915.1 596.8,914.7 598.3,916.9 599.8,916.6 601.3,917.9 602.8,916.7 604.3,916.8 605.8,917.2 607.3,917.2 608.8,915.9 610.3,915.2 611.8,913.2 613.3,912.5 614.8,911.1 616.3,911.4 617.8,910.6 619.3,910.0 620.8,908.5 622.3,908.4 623.8,907.0 625.3,906.6 626.8,905.4 628.3,903.9 629.8,904.6 631.3,903.5 632.8,903.5 634.3,902.6 635.8,903.0 637.3,902.0 638.8,900.8 640.3,899.7 641.8,899.3 643.3,898.4 644.8,896.6 646.3,896.3 647.8,895.5 649.3,892.9 650.8,891.5 652.3,890.4 653.8,890.9 655.3,892.1 656.8,890.6 658.3,891.5 659.8,892.9 661.3,892.7 662.8,893.0 664.3,893.3 665.8,892.1 667.3,890.0 668.8,888.4 670.3,889.2 671.8,889.2 673.3,889.6 674.8,888.7 676.3,887.8 677.8,887.9 679.3,887.4 680.8,887.5 682.3,886.7 683.8,886.1 685.3,885.3 686.8,884.5 688.3,884.6 689.8,886.4 691.3,885.2 692.8,885.8 694.3,884.5 695.8,884.1 697.3,882.9 698.8,883.9 700.3,882.2 701.8,883.9 703.3,884.2 704.8,883.1 706.3,884.3 707.8,883.6 709.3,884.9 710.8,884.7 712.3,885.3 713.8,885.5 715.3,887.2 716.8,887.6 718.3,885.8 719.8,886.6 721.3,884.4 722.8,883.9 724.3,883.4 725.8,883.2 727.3,883.4 728.8,883.6 730.3,883.6 731.8,883.6 733.3,884.2 734.8,885.2 736.3,886.4 737.8,886.0 739.3,885.1 740.8,885.3 742.3,884.2 743.8,884.0 745.3,884.1 746.8,883.2 748.3,884.6 749.8,883.9 751.3,884.1 752.8,884.2 754.3,883.7 755.8,883.8 757.3,884.1 758.8,884.3 760.3,885.1 761.8,884.2 763.3,883.5 764.8,884.4 766.3,884.9 767.8,885.6 769.3,885.3 770.8,884.5 772.3,882.9 773.8,884.7 775.3,885.0 776.8,886.0 778.3,885.8 779.8,884.7 781.3,884.5 782.8,886.0 784.3,886.4 785.8,886.2 787.3,887.8 788.8,888.3 790.3,887.9 791.8,887.5 793.3,888.4 794.8,888.5 796.3,888.5 797.8,888.8 799.3,889.9 800.8,888.6 802.3,889.9 803.8,889.9 805.3,889.0 806.8,889.0 808.3,887.5 809.8,887.8 811.3,888.2 812.8,889.8 814.3,887.7 815.8,886.7 817.3,884.5 818.8,883.9 820.3,882.5 821.8,881.7 823.3,881.9 824.8,882.9 826.3,883.0 827.8,883.6 829.3,882.3 830.8,881.3 832.3,881.6 833.8,880.6 835.3,881.2 836.8,880.9 838.3,881.6 839.8,879.7 841.3,880.2 842.8,880.6 844.3,880.5 845.8,881.1 847.3,881.1 848.8,881.7 850.3,882.8 851.8,882.4 853.3,883.4 854.8,883.1 856.3,883.1 857.8,882.1 859.3,881.6 860.8,881.0 862.3,880.0 863.8,881.6 865.3,880.6 866.8,882.8 868.3,882.0 869.8,883.6 871.3,883.7 872.8,883.2 874.3,881.4 875.8,880.3 877.3,882.0 878.8,882.5 880.3,883.8 881.8,883.4 883.3,882.2 884.8,883.2 886.3,881.2 887.8,880.6 889.3,878.7 890.8,879.9 892.3,881.6 893.8,882.8 895.3,881.6 896.8,880.3 898.3,878.6 899.8,878.0 901.3,876.7 902.8,877.5 904.3,878.5 905.8,879.5 907.3,879.8 908.8,881.6 910.3,882.4 911.8,882.7 913.3,883.1 914.8,883.8 916.3,883.8 917.8,883.6 919.3,885.1 920.8,884.5 922.3,885.6 923.8,884.4 925.3,884.0 926.8,884.0 928.3,883.5 929.8,881.2 931.3,878.9 932.8,876.1 934.3,874.3 935.8,875.0 937.3,874.8 938.8,874.5 940.3,873.7 941.8,874.9 943.3,874.9 944.8,874.1 946.3,875.6 947.8,876.5 949.3,876.5 950.8,877.1 952.3,877.8 953.8,876.5 955.3,878.2 956.8,877.5 958.3,876.6 959.8,877.6 961.3,875.8 962.8,875.3 964.3,874.5 965.8,874.3 967.3,873.7 968.8,873.6 970.3,874.6 971.8,875.4 973.3,875.5 974.8,875.5 976.3,875.0 977.8,874.3 979.3,873.3 980.8,872.3 982.0,872.2"/>
<polyline stroke="#f00" points="982.0,872.0 985.8,780.0 989.7,640.0 990.8,600.0 992.5,566.7 993.8,533.3 994.2,486.7 996.7,466.7 997.0,422.5"/>
<polygon fill="#00f" stroke="#00f" stroke-width="1.2" points="290.8,599.7 291.6,599.1 292.4,598.5 293.2,597.8 294.0,597.7 294.8,597.6 295.6,597.4 296.4,597.6 297.2,597.9 298.0,598.3 298.8,598.6 299.6,598.8 300.4,599.1 301.2,643.1 302.0,644.1 302.8,645.0 303.6,645.5 304.4,665.6 305.2,685.8 306.0,686.2 306.8,688.7 307.6,706.4 308.4,711.7 309.2,712.7 310.0,713.6 310.8,734.3 311.6,735.3 312.4,736.4 313.2,737.9 314.0,737.9 314.8,737.8 315.6,737.6 316.4,737.5 317.2,737.3 318.0,737.7 318.8,738.5 319.6,739.4 320.4,740.5 321.2,741.7 322.0,742.6 322.8,742.9 323.6,743.2 324.4,743.5 325.2,743.4 326.0,743.4 326.8,743.3 327.6,743.8 328.4,744.4 329.2,746.8 330.0,748.8 330.8,750.8 331.6,751.0 332.4,751.7 333.2,752.3 334.0,752.9 334.8,752.8 335.6,752.8 336.4,752.7 337.2,754.4 338.0,756.8 338.8,757.7 339.6,757.1 340.4,756.5 341.2,755.9 342.0,755.8 342.8,755.7 343.6,755.6 344.4,755.2 345.2,754.9 346.0,754.6 346.8,754.5 347.6,755.5 348.4,756.4 349.2,757.5 350.0,758.7 350.8,759.8 351.6,760.5 352.4,761.3 353.2,763.3 354.0,766.0 354.8,768.7 355.6,771.4 356.4,773.4 357.2,774.4 358.0,774.9 358.8,775.9 359.6,777.0 360.4,778.1 361.2,779.0 362.0,778.9 362.8,777.1 363.6,774.8 364.4,772.4 365.2,770.1 366.0,768.6 366.8,768.4 367.6,768.2 368.4,768.3 369.2,768.4 370.0,768.4 370.8,768.4 371.6,768.3 372.4,768.2 373.2,768.6 374.0,768.9 374.8,769.3 375.6,769.0 376.4,768.8 377.2,768.6 378.0,768.7 378.8,768.9 379.6,769.0 380.4,769.9 381.2,771.5 382.0,773.0 382.8,773.8 383.6,774.7 384.4,775.6 385.2,777.1 386.0,778.6 386.8,779.7 387.6,777.5 388.4,775.3 389.2,773.2 390.0,770.7 390.8,768.2 391.6,767.8 392.4,767.9 393.2,768.0 394.0,768.2 394.8,768.3 395.6,768.5 396.4,768.6 397.2,768.2 398.0,767.7 398.8,767.2 399.6,767.5 400.4,767.9 401.2,768.2 402.0,768.1 402.8,768.0 403.6,768.0 404.4,768.1 405.2,768.2 406.0,768.4 406.8,768.4 407.6,768.5 408.4,768.5 409.2,768.4 410.0,768.3 410.8,768.1 411.6,768.7 412.4,769.3 413.2,769.9 414.0,768.9 414.8,767.8 415.6,766.6 416.4,766.3 417.2,766.0 418.0,765.7 418.8,765.6 419.6,765.9 420.4,766.2 421.2,766.3 422.0,766.4 422.8,768.3 423.6,771.5 424.4,771.5 425.2,771.5 426.0,771.2 426.8,770.9 427.6,770.5 428.4,770.5 429.2,770.5 430.0,770.5 430.8,769.9 431.6,769.4 432.4,769.9 433.2,771.5 434.0,773.1 434.8,774.7 435.6,775.6 436.4,776.4 437.2,776.6 438.0,777.1 438.8,777.5 439.6,777.9 440.4,777.9 441.2,778.0 442.0,778.0 442.8,778.4 443.6,778.7 444.4,779.1 445.2,779.1 446.0,779.0 446.8,778.9 447.6,779.2 448.4,779.4 449.2,779.7 450.0,779.5 450.8,779.4 451.6,779.2 452.4,779.6 453.2,780.0 454.0,780.4 454.8,780.3 455.6,780.2 456.4,780.1 457.2,780.4 458.0,780.5 458.8,780.7 459.6,780.3 460.4,780.0 461.2,779.6 462.0,779.4 462.8,779.6 463.6,779.7 464.4,780.2 465.2,780.8 466.0,781.3 466.8,781.5 467.6,781.1 468.4,780.7 469.2,780.3 470.0,779.9 470.8,779.5 471.6,778.6 472.4,778.0 473.2,777.4 474.0,777.6 474.8,777.8 475.6,778.0 476.4,777.9 477.2,777.8 478.0,777.7 478.8,777.5 479.6,777.3 480.4,777.1 481.2,776.6 482.0,775.9 482.8,774.8 483.6,774.5 484.4,774.2 485.2,773.9 486.0,772.8 486.8,771.8 487.6,771.3 488.4,771.0 489.2,770.8 490.0,770.6 490.8,770.4 491.6,770.2 492.4,770.0 493.2,769.5 494.0,768.6 494.8,767.7 495.6,766.9 496.4,766.2 497.2,765.4 498.0,765.3 498.8,765.5 499.6,765.9 500.4,765.5 501.2,765.1 502.0,764.7 502.8,764.5 503.6,764.4 504.4,764.3 505.2,764.3 506.0,764.4 506.8,764.4 507.6,764.9 508.4,765.3 509.2,765.7 510.0,765.5 510.8,765.3 511.6,765.1 512.4,764.7 513.2,764.4 514.0,764.0 514.8,763.9 515.6,763.8 516.4,763.7 517.2,762.7 518.0,761.0 518.8,759.2 519.6,757.8 520.4,757.2 521.2,756.5 522.0,756.0 522.8,755.5 523.6,755.3 524.4,755.4 525.2,755.6 526.0,755.8 526.8,757.0 527.6,763.4 528.4,767.4 529.2,754.8 530.0,742.1 530.8,742.0 531.6,741.1 532.4,740.2 533.2,739.3 534.0,739.1 534.8,738.9 535.6,739.3 536.4,739.4 537.2,739.5 538.0,739.6 538.8,740.4 539.6,741.9 540.4,744.1 541.2,744.4 542.0,743.8 542.8,743.1 543.6,743.4 544.4,743.7 545.2,743.9 546.0,743.7 546.8,743.4 547.6,743.2 548.4,743.1 549.2,743.6 550.0,744.1 550.8,744.3 551.6,744.6 552.4,745.7 553.2,747.6 554.0,749.6 554.8,751.6 555.6,753.1 556.4,754.6 557.2,756.1 558.0,759.0 558.8,762.7 559.6,766.4 560.4,768.7 561.2,769.7 562.0,770.8 562.8,772.2 563.6,773.9 564.4,776.3 565.2,778.6 566.0,780.9 566.8,783.1 567.6,783.9 568.4,784.6 569.2,785.4 570.0,786.9 570.8,788.4 571.6,789.9 572.4,790.8 573.2,791.7 574.0,792.9 574.8,794.4 575.6,794.5 576.4,794.1 577.2,793.7 578.0,793.4 578.8,793.1 579.6,792.9 580.4,792.8 581.2,793.0 582.0,793.1 582.8,793.3 583.6,793.4 584.4,793.4 585.2,793.4 586.0,793.4 586.8,793.7 587.6,794.4 588.4,795.1 589.2,795.5 590.0,795.9 590.8,796.2 591.6,796.8 592.4,797.4 593.2,797.9 594.0,798.8 594.8,799.6 595.6,800.0 596.4,799.6 597.2,799.2 598.0,798.7 598.8,798.6 599.6,798.5 600.4,798.6 601.2,799.2 602.0,799.8 602.8,800.3 603.6,800.7 604.4,801.1 605.2,801.3 606.0,801.0 606.8,800.6 607.6,800.2 608.4,800.1 609.2,800.0 610.0,799.9 610.8,799.6 611.6,799.4 612.4,799.1 613.2,799.6 614.0,800.0 614.8,800.5 615.6,800.2 616.4,799.9 617.2,799.4 618.0,799.3 618.8,799.1 619.6,799.0 620.4,798.5 621.2,798.1 622.0,797.6 622.8,797.3 623.6,797.0 624.4,796.8 625.2,796.7 626.0,796.5 626.8,796.4 627.6,796.0 628.4,795.6 629.2,795.1 630.0,795.2 630.8,795.2 631.6,795.2 632.4,794.7 633.2,794.3 634.0,793.8 634.8,793.7 635.6,793.7 636.4,793.7 637.2,793.5 638.0,792.8 638.8,791.7 639.6,790.8 640.4,784.1 641.2,777.5 642.0,776.3 642.8,775.1 643.6,774.0 644.4,773.2 645.2,772.8 646.0,773.4 646.8,774.2 647.6,775.0 648.4,775.8 649.2,776.3 650.0,778.8 650.8,781.3 651.6,781.8 652.4,782.4 653.2,783.0 654.0,783.0 654.8,783.0 655.6,783.0 656.4,786.0 657.2,789.8 658.0,791.4 658.8,791.7 659.6,791.9 660.4,792.2 661.2,792.8 662.0,793.4 662.8,794.0 663.6,794.3 664.4,796.6 665.2,804.5 666.0,810.7 666.8,811.8 667.6,813.0 668.4,814.4 669.2,815.7 670.0,817.0 670.8,818.1 671.6,819.2 672.4,820.3 673.2,821.6 674.0,824.5 674.8,827.6 675.6,829.2 676.4,830.2 677.2,831.2 678.0,831.8 678.8,832.5 679.6,833.1 680.4,833.9 681.2,834.7 682.0,835.5 682.8,836.1 683.6,836.8 684.4,837.4 685.2,838.0 686.0,838.7 686.8,839.1 687.6,838.9 688.4,838.7 689.2,838.5 690.0,838.1 690.8,837.6 691.6,837.2 692.4,836.6 693.2,836.7 694.0,836.9 694.8,837.5 695.6,838.1 696.4,838.7 697.2,839.1 698.0,839.6 698.8,840.0 699.6,840.5 700.4,840.2 701.2,839.3 702.0,838.4 702.8,837.6 703.6,836.7 704.4,835.7 705.2,834.7 706.0,833.9 706.8,833.3 707.6,832.6 708.4,832.0 709.2,831.3 710.0,830.7 710.8,830.1 711.6,829.5 712.4,828.9 713.2,828.3 714.0,828.1 714.8,827.8 715.6,827.6 716.4,819.7 717.2,815.2 718.0,814.2 718.8,813.5 719.6,812.9 720.4,812.2 721.2,812.0 722.0,811.8 722.8,811.5 723.6,810.9 724.4,810.7 725.2,810.4 726.0,810.3 726.8,810.2 727.6,810.1 728.4,810.1 729.2,810.1 730.0,800.0 730.8,789.7 731.6,779.5 732.4,766.4 733.2,763.9 734.0,762.9 734.8,761.9 735.6,760.9 736.4,759.8 737.2,758.8 738.0,758.3 738.8,758.2 739.6,758.4 740.4,758.1 741.2,757.8 742.0,757.5 742.8,756.9 743.6,756.2 744.4,755.6 745.2,755.3 746.0,755.1 746.8,755.0 747.6,755.5 748.4,755.9 749.2,756.4 750.0,756.8 750.8,757.1 751.6,757.5 752.4,770.0 753.2,770.9 754.0,771.9 754.8,775.1 755.6,781.0 756.4,781.5 757.2,781.7 758.0,787.9 758.8,792.6 759.6,794.7 760.4,796.8 761.2,799.3 762.0,802.3 762.8,804.7 763.6,806.0 764.4,807.2 765.2,808.4 766.0,809.5 766.8,810.6 767.6,812.4 768.4,814.2 769.2,816.2 770.0,818.2 770.8,818.8 771.6,819.4 772.4,820.0 773.2,820.6 774.0,821.6 774.8,822.6 775.6,823.6 776.4,825.0 777.2,826.6 778.0,824.6 778.8,820.2 779.6,817.7 780.4,816.9 781.2,815.8 782.0,814.6 782.8,813.5 783.6,813.0 784.4,812.5 785.2,812.2 786.0,812.6 786.8,813.0 787.6,813.5 788.4,813.5 789.2,813.6 790.0,813.6 790.8,814.6 791.6,815.6 792.4,816.6 793.2,817.6 794.0,818.5 794.8,819.0 795.6,819.5 796.4,820.0 797.2,820.5 798.0,821.4 798.8,822.2 799.6,823.2 800.4,823.4 801.2,823.6 802.0,823.8 802.8,824.8 803.6,825.8 804.4,826.8 805.2,829.2 806.0,835.3 806.8,835.1 807.6,834.9 808.4,834.7 809.2,834.6 810.0,834.7 810.8,834.8 811.6,834.9 812.4,834.9 813.2,835.5 814.0,836.2 814.8,836.7 815.6,837.3 816.4,837.8 817.2,838.2 818.0,838.7 818.8,839.1 819.6,840.1 820.4,840.9 821.2,841.5 822.0,841.9 822.8,842.2 823.6,842.5 824.4,842.8 825.2,842.8 826.0,842.1 826.8,841.8 827.6,841.5 828.4,841.2 829.2,840.4 830.0,839.7 830.8,839.4 831.6,838.8 832.4,838.3 833.2,837.8 834.0,837.6 834.8,837.5 835.6,837.3 836.4,837.2 837.2,837.2 838.0,837.4 838.8,837.6 839.6,837.8 840.4,838.0 841.2,837.9 842.0,837.9 842.8,837.8 843.6,837.9 844.4,838.1 845.2,838.1 846.0,837.9 846.8,837.7 847.6,837.5 848.4,836.8 849.2,836.0 850.0,835.3 850.8,835.7 851.6,836.2 852.4,836.6 853.2,836.5 854.0,836.5 854.8,836.4 855.6,835.1 856.4,833.3 857.2,831.5 858.0,830.5 858.8,830.1 859.6,829.8 860.4,829.1 861.2,828.4 862.0,827.7 862.8,827.5 863.6,827.3 864.4,827.1 865.2,826.4 866.0,825.1 866.8,823.8 867.6,823.0 868.4,822.1 869.2,821.3 870.0,820.4 870.8,819.5 871.6,818.6 872.4,812.3 873.2,805.3 874.0,804.2 874.8,803.9 875.6,803.5 876.4,803.2 877.2,802.8 878.0,802.4 878.8,802.1 879.6,801.9 880.4,801.5 881.2,800.7 882.0,800.1 882.8,799.6 883.6,799.0 884.4,798.3 885.2,798.7 886.0,799.1 886.8,799.8 887.6,800.5 888.4,801.2 889.2,828.2 890.0,828.1 890.8,828.1 891.6,828.1 892.4,828.0 893.2,828.0 894.0,827.6 894.8,827.2 895.6,826.8 896.4,827.4 897.2,828.4 898.0,829.4 898.8,830.7 899.6,832.0 900.4,833.3 901.2,834.3 902.0,835.3 902.8,836.3 903.6,837.8 904.4,839.2 905.2,840.7 906.0,841.6 906.8,842.4 907.6,842.9 908.4,843.7 909.2,844.6 910.0,845.5 910.8,846.4 911.6,852.4 912.4,853.9 913.2,855.0 914.0,856.1 914.8,857.1 915.6,859.9 916.4,863.4 917.2,864.6 918.0,864.8 918.8,865.0 919.6,865.2 920.4,865.8 921.2,866.9 922.0,868.0 922.8,869.1 923.6,870.2 924.4,871.4 925.2,872.5 926.0,873.7 926.8,874.8 927.6,875.5 928.4,876.2 929.2,876.9 930.0,877.7 930.8,878.5 931.6,879.4 932.4,879.8 933.2,880.3 934.0,880.7 934.8,881.4 935.6,882.0 936.4,882.6 937.2,883.1 938.0,883.6 938.8,884.0 939.6,884.8 940.4,885.2 941.2,885.4 942.0,885.5 942.8,885.6 943.6,885.6 944.4,885.4 945.2,885.1 946.0,878.4 946.8,866.9 947.6,866.0 948.4,865.6 949.2,864.8 950.0,864.2 950.8,863.8 951.6,864.2 952.4,864.8 953.2,865.5 954.0,865.8 954.8,866.4 955.6,868.5 956.4,881.1 957.2,889.0 958.0,897.0 958.8,897.8 959.6,898.6 960.4,899.3 961.2,899.1 962.0,897.8 962.8,896.5 963.6,895.2 964.4,893.9 965.2,892.6 966.0,891.7 966.8,890.9 967.6,890.0 968.4,888.5 969.2,887.5 970.0,886.4 970.8,885.8 971.6,885.1 972.4,884.5 973.2,883.6 974.0,881.7 974.8,879.6 975.6,879.1 976.4,879.0 977.2,878.9 978.0,878.7 978.8,878.4 979.6,878.1 980.4,878.0 981.2,877.9 982.0,878.0 982.8,878.8 983.6,879.6 984.4,880.4 985.2,881.2 986.0,882.1 986.8,883.0 987.6,884.4 988.4,890.2 989.2,890.5 990.0,890.6 990.8,890.7 991.6,890.8 992.4,891.6 993.2,892.4 994.0,893.1 994.8,893.4 995.6,895.3 996.4,897.8 997.2,900.3 998.0,902.7 998.8,904.4 999.6,905.8 1000.4,907.3 1001.2,908.8 1002.0,909.7 1002.8,909.9 1003.6,910.2 1004.4,910.8 1005.2,911.4 1006.0,912.0 1006.8,912.4 1007.6,914.6 1008.4,916.9 1009.2,919.2 1010.0,919.4 1010.8,919.6 1011.6,919.9 1012.4,920.2 1013.2,920.5 1014.0,920.9 1014.8,921.3 1015.6,921.8 1016.4,922.3 1017.2,922.8 1018.0,923.3 1018.8,923.9 1019.6,924.5 1020.4,924.9 1021.2,925.4 1022.0,925.8 1022.8,926.3 1023.6,926.5 1024.4,926.8 1025.2,927.0 1026.0,927.2 1026.8,927.4 1027.6,927.6 1028.4,928.1 1029.2,929.4 1030.0,930.7 1030.8,931.7 1031.6,932.8 1032.4,933.9 1033.2,934.8 1034.0,935.0 1034.8,935.1 1035.6,935.5 1036.4,935.9 1037.2,936.2 1038.0,936.7 1038.8,936.6 1039.6,936.2 1040.4,935.8 1041.2,935.4 1042.0,935.0 1042.8,934.7 1043.6,934.4 1044.4,932.3 1045.2,924.5 1046.0,923.1 1046.8,922.5 1047.6,921.7 1048.4,920.9 1049.2,920.1 1050.0,920.4 1050.8,920.6 1051.6,920.9 1052.4,921.1 1053.2,921.3 1054.0,923.0 1054.8,925.3 1055.6,927.7 1056.4,930.0 1057.2,931.1 1058.0,931.8 1058.8,932.5 1059.6,933.1 1060.4,934.3 1061.2,936.0 1062.0,937.1 1062.8,936.9 1063.6,936.8 1064.4,937.3 1065.2,937.8 1066.0,938.3 1066.8,937.9 1067.6,937.6 1068.4,938.2 1069.2,939.4 1070.0,940.7 1070.8,942.0 1071.6,942.5 1072.4,942.3 1073.2,941.9 1074.0,942.2 1074.8,942.5 1075.6,920.8 1076.4,875.2 1077.2,872.7 1078.0,871.7 1078.8,871.4 1079.6,871.4 1080.4,871.5 1081.2,871.1 1082.0,870.9 1082.8,870.9 1083.6,871.2 1084.4,871.8 1085.2,872.8 1086.0,879.2 1086.8,896.7 1087.6,900.9 1088.4,905.2 1089.2,908.2 1090.0,911.1 1090.8,913.9 1091.6,928.8 1092.4,933.6 1093.2,936.6 1094.0,939.6 1094.8,951.5 1095.6,956.2 1096.4,957.5 1097.2,958.8 1098.0,959.9 1098.8,960.9 1099.6,962.5 1100.4,964.7 1101.2,967.0 1102.0,969.3 1102.8,971.4 1103.6,972.8 1104.4,973.0 1105.2,973.8 1106.0,974.5 1106.8,975.3 1107.6,975.0 1108.4,975.2 1109.2,978.2 1110.0,982.1 1110.8,983.0 1111.6,984.0 1112.4,984.6 1113.2,985.1 1114.0,985.6 1114.8,986.2 1115.6,987.5 1116.4,989.0 1117.2,990.7 1118.0,992.5 1118.8,993.6 1119.6,994.5 1120.4,995.4 1121.2,996.3 1122.0,996.6 1122.8,996.8 1123.6,997.1 1124.4,997.7 1125.2,998.3 1126.0,998.9 1126.8,999.7 1127.6,999.9 1128.4,1000.0 1129.2,1000.0 1130.0,999.9 1130.8,999.9 1131.6,999.7 1132.4,999.5 1133.2,999.4 1134.0,999.1 1134.8,998.9 1135.6,999.0 1136.4,999.7 1137.2,1000.5 1138.0,1001.3 1138.8,1001.3 1139.6,1001.3 1140.4,1001.2 1141.2,1001.7 1142.0,1002.0 1142.8,1002.1 1143.6,1002.2 1144.4,1002.4 1145.2,1002.5 1146.0,1002.8 1146.8,1003.0 1147.6,1003.2 1148.4,1003.3 1149.2,1003.0 1150.0,1002.8 1150.8,1002.6 1151.6,1002.4 1152.4,1002.3 1153.2,1002.1 1154.0,1002.0 1154.8,998.9 1155.6,994.8 1156.4,993.5 1157.2,993.1 1158.0,992.4 1158.8,991.7 1159.6,991.0 1160.4,990.9 1161.2,991.5 1162.0,992.1 1162.8,993.3 1163.6,994.5 1164.4,995.7 1165.2,995.8 1166.0,995.1 1166.8,994.5 1167.6,990.7 1168.4,965.8 1169.2,964.7 1170.0,963.5 1170.8,962.8 1171.6,962.3 1172.4,962.3 1173.2,962.4 1174.0,962.7 1174.8,963.0 1175.6,963.4 1176.4,964.1 1177.2,964.7 1178.0,966.8 1178.8,967.4 1179.6,972.3 1180.4,977.2 1181.2,980.2 1182.0,981.6 1182.8,982.9 1183.6,983.9 1184.4,984.0 1185.2,984.0 1186.0,984.1 1186.8,983.9 1187.6,983.7 1188.4,983.5 1189.2,984.0 1190.0,984.4 1190.8,984.9 1191.6,985.1 1192.4,985.3 1193.2,985.5 1194.0,985.1 1194.8,984.6 1195.6,984.2 1196.4,983.8 1197.2,983.4 1198.0,983.0 1198.8,983.1 1199.6,983.1 1200.4,983.4 1201.2,983.4 1202.0,983.5 1202.8,983.5 1203.6,983.7 1204.4,983.8 1205.2,984.0 1206.0,984.2 1206.8,984.4 1207.6,984.3 1208.4,984.2 1209.2,984.2 1210.0,984.2 1210.8,983.9 1211.6,983.5 1212.4,983.2 1213.2,983.2 1214.0,983.2 1214.8,983.2 1215.6,983.1 1216.4,983.1 1217.2,983.0 1218.0,982.9 1218.8,982.8 1219.6,982.7 1220.4,982.5 1221.2,982.3 1222.0,982.0 1222.8,982.1 1223.6,982.5 1224.4,983.3 1225.2,983.4 1226.0,983.6 1226.8,983.8 1227.6,984.5 1228.4,985.2 1229.2,985.9 1230.0,986.7 1230.8,987.1 1231.6,987.4 1232.4,987.4 1233.2,987.3 1234.0,987.3 1234.8,987.3 1235.6,986.8 1236.4,986.2 1237.2,985.4 1238.0,984.7 1238.8,983.9 1239.6,983.1 1240.4,982.8 1241.2,982.8 1242.0,983.2 1242.8,983.5 1243.6,984.0 1244.4,984.6 1245.2,985.1 1246.0,985.7 1246.8,986.1 1247.6,986.6 1248.4,987.0 1249.2,987.8 1250.0,987.2 1250.8,986.6 1251.6,985.9 1252.4,985.1 1253.2,984.4 1254.0,984.1 1254.8,984.4 1255.6,984.9 1256.4,984.7 1257.2,984.5 1258.0,984.3 1258.8,984.5 1259.6,984.6 1260.4,984.7 1261.2,984.9 1262.0,985.0 1262.8,985.2 1263.6,985.1 1264.4,985.0 1265.2,984.9 1266.0,985.4 1266.8,985.7 1267.6,985.6 1268.4,985.2 1269.2,984.8 1270.0,984.4 1270.8,983.9 1271.6,983.5 1272.4,983.0 1273.2,980.6 1274.0,977.9 1274.8,977.1 1275.6,976.4 1276.4,975.8 1277.2,975.2 1278.0,974.7 1278.8,974.8 1279.6,975.2 1280.4,976.1 1281.2,976.9 1282.0,977.7 1282.8,978.2 1283.6,978.7 1284.4,979.1 1285.2,979.3 1286.0,979.0 1286.8,978.7 1287.6,978.5 1288.4,978.4 1289.2,978.2 1290.0,978.0 1290.8,977.7 1291.6,977.5 1292.4,977.6 1293.2,977.7 1294.0,977.8 1294.8,977.3 1295.6,976.8 1296.4,976.4 1297.2,976.3 1298.0,976.2 1298.8,976.2 1299.6,975.9 1300.4,975.5 1301.2,975.2 1302.0,975.1 1302.8,975.0 1303.6,974.9 1304.4,974.9 1305.2,975.0 1306.0,975.2 1306.8,975.4 1307.6,975.7 1308.4,975.9 1309.2,976.1 1310.0,976.3 1310.8,975.5 1311.6,974.2 1312.4,973.0 1313.2,971.8 1314.0,971.0 1314.8,970.8 1315.6,970.8 1316.4,970.4 1317.2,970.1 1318.0,969.7 1318.8,969.8 1319.6,969.8 1320.4,969.9 1321.2,969.9 1322.0,970.1 1322.8,970.4 1323.6,970.6 1324.4,970.8 1325.2,970.7 1326.0,969.7 1326.8,968.8 1327.6,967.8 1328.4,966.9 1329.2,966.0 1330.0,966.3 1330.8,967.0 1331.6,967.8 1332.4,968.5 1333.2,968.8 1334.0,969.8 1334.8,970.8 1335.6,971.6 1336.4,971.5 1337.2,971.1 1338.0,970.8 1338.8,970.5 1339.6,970.2 1340.4,970.1 1341.2,969.9 1342.0,969.8 1342.8,970.0 1343.6,970.1 1344.4,969.8 1345.2,968.7 1346.0,967.5 1346.8,966.3 1347.6,966.1 1348.4,965.9 1349.2,966.1 1350.0,965.7 1350.8,965.4 1351.6,965.1 1352.4,964.9 1353.2,964.7 1354.0,964.5 1354.8,964.3 1355.6,964.4 1356.4,964.5 1357.2,964.5 1358.0,964.6 1358.8,964.7 1359.6,964.9 1360.4,965.3 1361.2,966.0 1362.0,966.4 1362.8,966.7 1363.6,966.8 1364.4,967.2 1365.2,967.5 1366.0,967.8 1366.8,967.3 1367.6,966.8 1368.4,966.3 1369.2,966.2 1370.0,966.1 1370.8,965.1 1371.6,964.4 1372.4,963.6 1373.2,962.9 1374.0,958.2 1374.8,956.6 1375.6,956.1 1376.4,955.7 1377.2,955.3 1378.0,954.9 1378.8,952.4 1379.6,948.8 1380.4,946.7 1381.2,946.3 1382.0,945.9 1382.8,945.5 1383.6,944.5 1384.4,943.5 1385.2,937.5 1386.0,917.1 1386.8,895.2 1387.6,879.7 1388.4,878.7 1389.2,878.1 1390.0,877.8 1390.8,877.8 1391.6,878.0 1392.4,878.3 1393.2,878.2 1394.0,878.1 1394.8,878.3 1395.6,879.4 1396.4,881.8 1397.2,922.1 1398.0,943.5 1398.8,970.3 1399.6,972.3 1400.4,973.8 1401.2,975.3 1402.0,976.1 1402.8,976.2 1403.6,976.3 1404.4,976.4 1405.2,976.5 1406.0,976.6 1406.8,976.6 1407.6,976.5 1408.4,976.3 1409.2,976.4 1410.0,976.4 1410.8,976.5 1411.6,976.5 1412.4,976.7 1413.2,977.0 1414.0,977.2 1414.8,977.3 1415.6,977.3 1416.4,977.4 1417.2,977.9 1418.0,978.4 1418.8,978.8 1419.6,978.9 1420.4,978.8 1421.2,978.8 1422.0,978.7 1422.8,978.6 1423.6,978.6 1424.4,970.2 1425.2,937.3 1426.0,902.0 1426.8,893.9 1427.6,893.1 1428.4,892.7 1429.2,892.2 1430.0,891.9 1430.8,891.6 1431.6,891.9 1432.4,892.3 1433.2,892.8 1434.0,893.1 1434.8,893.9 1435.6,898.6 1436.4,927.1 1437.2,944.1 1438.0,964.5 1438.8,983.9 1439.6,984.5 1440.4,985.1 1441.2,985.7 1442.0,986.3 1442.8,986.6 1443.6,986.4 1444.4,986.3 1445.2,986.2 1446.0,986.2 1446.8,986.2 1447.6,986.6 1448.4,986.7 1449.2,986.8 1450.0,986.9 1450.8,987.4 1451.6,987.9 1452.4,988.4 1453.2,988.2 1454.0,988.0 1454.8,985.5 1455.6,983.3 1456.4,981.2 1457.2,980.3 1458.0,979.6 1458.8,978.9 1459.6,978.2 1460.4,977.5 1461.2,976.8 1462.0,976.4 1462.8,977.0 1463.6,977.6 1464.4,978.2 1465.2,978.2 1466.0,978.2 1466.8,978.1 1467.6,978.0 1468.4,977.8 1469.2,977.7 1470.0,977.6 1470.8,977.6 1471.6,977.6 1472.4,977.4 1473.2,977.2 1474.0,976.7 1474.8,976.0 1475.6,975.2 1476.4,974.4 1477.2,974.2 1478.0,974.0 1478.8,972.4 1479.6,969.6 1480.4,966.8 1481.2,946.0 1482.0,943.2 1482.8,942.1 1483.6,941.2 1484.4,940.9 1485.2,940.7 1486.0,940.7 1486.8,940.8 1487.6,941.0 1488.4,941.4 1489.2,942.3 1490.0,943.7 1490.8,946.8 1491.6,948.6 1492.4,950.4 1493.2,950.8 1494.0,951.0 1494.8,951.2 1495.6,951.5 1496.4,951.8 1497.2,952.2 1498.0,955.6 1498.8,960.4 1499.6,965.3 1500.4,968.0 1501.2,969.3 1502.0,970.5 1502.8,971.8 1503.6,972.5 1504.4,973.3 1505.2,974.2 1506.0,975.3 1506.8,976.4 1507.6,977.5 1508.4,978.8 1509.2,980.0 1510.0,976.7 1510.8,973.4 1511.6,970.2 1512.4,969.2 1513.2,968.8 1514.0,968.4 1514.8,968.0 1515.6,967.4 1516.4,967.5 1517.2,967.9 1518.0,968.8 1518.8,969.6 1519.6,970.5 1520.4,972.7 1521.2,976.6 1522.0,979.2 1522.8,979.5 1523.6,979.7 1524.4,980.0 1525.2,980.5 1526.0,980.9 1526.8,981.3 1527.6,980.9 1528.4,980.5 1529.2,980.1 1530.0,980.1 1530.8,980.2 1531.6,980.2 1532.4,980.3 1533.2,980.4 1534.0,980.1 1534.8,979.5 1535.6,978.8 1536.4,978.2 1537.2,977.8 1538.0,977.5 1538.8,977.1 1539.6,977.4 1540.4,977.9 1541.2,978.1 1542.0,978.0 1542.8,977.8 1543.6,977.7 1544.4,977.6 1545.2,977.6 1546.0,977.6 1546.8,977.1 1547.6,976.8 1548.4,977.3 1549.2,978.3 1550.0,979.2 1550.8,980.2 1551.6,981.0 1552.4,981.1 1553.2,981.1 1554.0,981.3 1554.8,981.6 1555.6,981.8 1556.4,981.8 1557.2,981.8 1558.0,981.8 1558.8,982.4 1559.6,983.2 1560.4,984.1 1561.2,984.6 1562.0,984.7 1562.8,984.2 1563.6,984.1 1564.4,983.9 1565.2,983.8 1566.0,983.4 1566.8,983.0 1567.6,982.6 1568.4,983.0 1569.2,983.4 1570.0,983.7 1570.8,983.9 1571.6,984.1 1572.4,984.3 1573.2,984.9 1574.0,985.3 1574.8,985.8 1575.6,986.0 1576.4,986.2 1577.2,986.4 1578.0,986.7 1578.8,986.9 1579.6,986.9 1580.4,986.5 1581.2,986.1 1582.0,985.7 1582.8,985.4 1583.6,985.2 1584.4,985.0 1585.2,985.2 1586.0,985.3 1586.8,985.5 1587.6,985.6 1588.4,985.5 1589.2,983.4 1590.0,981.8 1590.8,980.1 1591.6,978.5 1592.4,977.9 1593.2,977.5 1594.0,977.1 1594.8,976.4 1595.6,975.6 1596.4,975.8 1597.2,976.8 1598.0,977.8 1598.8,978.8 1599.6,979.5 1600.4,981.0 1601.2,983.3 1602.0,984.9 1602.8,985.0 1603.6,985.2 1604.4,985.4 1605.2,985.6 1606.0,985.7 1606.8,985.8 1607.6,985.8 1608.4,985.8 1609.2,986.1 1610.0,986.3 1610.8,985.4 1611.6,984.6 1612.4,983.9 1613.2,983.1 1614.0,982.6 1614.8,982.0 1615.6,977.7 1616.4,976.1 1617.2,975.9 1618.0,975.7 1618.8,975.0 1619.6,974.2 1620.4,973.6 1621.2,973.6 1622.0,973.6 1622.8,973.6 1623.6,973.9 1624.4,974.1 1625.2,974.4 1626.0,974.4 1626.8,974.5 1627.6,974.6 1628.4,974.8 1629.2,975.0 1630.0,975.2 1630.8,975.3 1631.6,975.5 1632.4,975.6 1633.2,976.4 1634.0,976.9 1634.8,977.3 1635.6,977.0 1636.4,976.7 1637.2,976.4 1638.0,976.7 1638.8,977.0 1639.6,977.4 1640.4,977.0 1641.2,976.7 1642.0,976.4 1642.8,976.4 1643.6,976.4 1644.4,976.4 1645.2,976.5 1646.0,977.0 1646.8,977.5 1647.6,978.5 1648.4,979.5 1649.2,980.4 1650.0,980.0 1650.8,979.6 1651.6,979.1 1652.4,979.0 1653.2,978.9 1654.0,978.8 1654.8,978.2 1655.6,977.5 1656.4,976.9 1657.2,976.8 1658.0,976.6 1658.8,976.4 1659.6,976.0 1660.4,975.7 1661.2,975.3 1662.0,975.0 1662.8,975.0 1663.6,975.5 1664.4,975.8 1665.2,976.1 1666.0,976.4 1666.8,976.3 1667.6,976.3 1668.4,976.2 1669.2,976.7 1670.0,977.2 1670.8,976.5 1671.6,976.0 1672.4,975.6 1673.2,975.1 1674.0,974.3 1674.8,973.5 1675.6,972.7 1676.4,972.4 1677.2,940.8 1678.0,874.5 1678.8,871.6 1679.6,870.3 1680.4,869.4 1681.2,868.9 1682.0,868.6 1682.8,868.4 1683.6,869.0 1684.4,869.7 1685.2,870.6 1686.0,870.9 1686.8,871.6 1687.6,916.4 1688.4,917.0 1689.2,917.6 1690.0,918.2 1690.8,918.5 1691.6,918.9 1692.4,931.3 1693.2,950.0 1694.0,950.5 1694.8,951.0 1695.6,951.5 1696.4,952.1 1697.2,952.2 1698.0,952.0 1698.8,951.8 1699.6,951.6 1700.4,951.3 1701.2,951.5 1702.0,952.1 1702.8,952.4 1703.6,952.7 1704.4,956.0 1705.2,965.9 1706.0,966.9 1706.8,967.8 1707.6,968.1 1708.4,968.3 1709.2,968.6 1710.0,969.4 1710.8,960.5 1711.6,959.4 1712.4,958.3 1713.2,957.3 1714.0,954.7 1714.8,951.1 1715.6,949.6 1716.4,948.7 1717.2,948.2 1718.0,947.7 1718.8,947.8 1719.6,948.4 1720.4,948.9 1721.2,949.4 1722.0,949.7 1722.8,952.7 1723.6,960.4 1724.4,967.2 1725.2,969.9 1726.0,972.0 1726.8,971.8 1727.6,971.6 1728.4,971.4 1729.2,970.9 1730.0,970.4 1730.8,969.9 1731.6,970.2 1732.4,970.4 1733.2,970.7 1734.0,968.5 1734.8,966.0 1735.6,964.1 1736.4,963.9 1737.2,963.8 1738.0,963.6 1738.8,962.9 1739.6,962.7 1740.4,962.9 1741.2,963.2 1742.0,963.5 1742.8,963.9 1743.6,965.1 1744.4,967.6 1745.2,969.0 1746.0,970.2 1746.8,971.4 1747.6,972.4 1748.4,971.6 1749.2,970.8 1750.0,970.0 1750.8,969.1 1751.6,968.2 1752.4,967.8 1753.2,967.9 1754.0,967.9 1754.8,968.0 1755.6,967.9 1756.4,967.9 1757.2,968.1 1758.0,968.2 1758.8,968.4 1759.6,968.6 1760.4,968.6 1761.2,968.5 1762.0,968.5 1762.8,968.6 1763.6,968.6 1764.4,968.7 1765.2,968.9 1766.0,968.9 1766.8,968.9 1767.6,969.0 1768.4,969.1 1769.2,969.2 1770.0,968.9 1770.8,968.7 1771.6,968.4 1772.4,968.8 1773.2,969.2 1774.0,969.7 1774.8,970.2 1775.6,969.9 1776.4,969.3 1777.2,968.4 1778.0,967.4 1778.8,966.5 1779.6,966.4 1780.4,966.8 1781.2,967.2 1782.0,967.7 1782.8,968.2 1783.6,968.7 1784.4,968.7 1785.2,968.6 1786.0,968.6 1786.8,969.3 1787.6,970.0 1788.4,970.7 1789.2,970.6 1790.0,970.5 1790.8,970.8 1791.6,971.9 1792.4,973.0 1793.2,974.1 1794.0,974.9 1794.8,975.7 1795.6,976.7 1796.4,977.6 1797.2,978.5 1798.0,978.7 1798.8,979.3 1799.6,979.9 1800.4,980.4 1801.2,980.3 1802.0,979.7 1802.8,978.2 1803.6,976.9 1804.4,975.5 1805.2,974.3 1806.0,973.8 1806.8,973.2 1807.6,972.7 1808.4,972.1 1809.2,971.5 1810.0,970.9 1810.8,935.5 1811.6,904.8 1812.4,888.4 1813.2,886.4 1814.0,885.4 1814.8,884.7 1815.6,884.4 1816.4,884.3 1817.2,884.4 1818.0,884.8 1818.8,885.4 1819.6,886.2 1820.4,886.7 1821.2,888.0 1822.0,941.1 1822.8,941.4 1823.6,941.8 1824.4,942.1 1825.2,942.7 1826.0,943.3 1826.8,944.3 1827.6,948.5 1828.4,952.4 1829.2,953.8 1830.0,955.1 1830.8,956.4 1831.6,957.8 1832.4,958.7 1833.2,959.7 1834.0,963.6 1834.8,967.8 1835.6,968.5 1836.4,969.2 1837.2,970.3 1838.0,971.5 1838.8,972.7 1839.6,973.4 1840.4,974.1 1840.8,974.4 1840.8,1003.3 1840.4,1002.8 1839.6,1002.4 1838.8,1002.0 1838.0,1002.3 1837.2,1002.5 1836.4,1002.5 1835.6,1001.4 1834.8,1000.3 1834.0,999.1 1833.2,998.5 1832.4,998.0 1831.6,997.4 1830.8,997.1 1830.0,996.8 1829.2,996.4 1828.4,995.6 1827.6,994.9 1826.8,994.1 1826.0,993.7 1825.2,991.7 1824.4,989.2 1823.6,986.2 1822.8,986.0 1822.0,987.6 1821.2,990.0 1820.4,992.4 1819.6,1000.0 1818.8,1006.6 1818.0,1007.3 1817.2,1008.1 1816.4,1008.6 1815.6,1009.1 1814.8,1009.4 1814.0,1009.3 1813.2,1009.2 1812.4,1009.1 1811.6,1008.7 1810.8,1008.2 1810.0,1007.8 1809.2,1007.9 1808.4,1008.0 1807.6,1008.6 1806.8,1008.9 1806.0,1009.2 1805.2,1009.5 1804.4,1010.0 1803.6,1010.6 1802.8,1011.1 1802.0,1011.5 1801.2,1011.6 1800.4,1011.6 1799.6,1011.9 1798.8,1012.1 1798.0,1012.4 1797.2,1012.2 1796.4,1012.0 1795.6,1011.8 1794.8,1012.1 1794.0,1011.8 1793.2,1011.5 1792.4,1010.7 1791.6,1009.9 1790.8,1009.1 1790.0,1008.5 1789.2,1008.0 1788.4,1007.5 1787.6,1006.9 1786.8,1006.3 1786.0,1005.6 1785.2,1005.0 1784.4,1004.3 1783.6,1003.7 1782.8,1004.5 1782.0,1006.0 1781.2,1007.6 1780.4,1009.6 1779.6,1010.8 1778.8,1011.3 1778.0,1011.5 1777.2,1011.7 1776.4,1011.9 1775.6,1011.6 1774.8,1011.3 1774.0,1011.0 1773.2,1011.2 1772.4,1011.0 1771.6,1010.9 1770.8,1010.8 1770.0,1010.8 1769.2,1010.8 1768.4,1010.3 1767.6,1007.2 1766.8,1003.7 1766.0,1002.8 1765.2,1002.4 1764.4,1001.9 1763.6,1002.0 1762.8,1002.2 1762.0,1002.3 1761.2,1002.4 1760.4,1002.7 1759.6,1003.0 1758.8,1003.5 1758.0,1004.0 1757.2,1004.5 1756.4,1004.9 1755.6,1005.4 1754.8,1005.7 1754.0,1005.8 1753.2,1005.8 1752.4,1005.9 1751.6,1005.7 1750.8,1005.6 1750.0,1005.5 1749.2,1005.9 1748.4,1006.2 1747.6,1006.6 1746.8,1006.9 1746.0,1007.1 1745.2,1007.1 1744.4,1006.6 1743.6,1006.1 1742.8,1005.6 1742.0,1005.4 1741.2,1005.3 1740.4,1005.1 1739.6,1005.6 1738.8,1006.5 1738.0,1007.3 1737.2,1008.0 1736.4,1008.7 1735.6,1009.3 1734.8,1009.6 1734.0,1009.7 1733.2,1009.8 1732.4,1009.9 1731.6,1009.9 1730.8,1010.0 1730.0,1010.6 1729.2,1011.1 1728.4,1011.7 1727.6,1011.4 1726.8,1011.1 1726.0,1010.8 1725.2,1010.3 1724.4,1009.9 1723.6,1009.4 1722.8,1009.1 1722.0,1008.7 1721.2,1007.5 1720.4,1005.2 1719.6,1003.0 1718.8,1002.0 1718.0,1002.6 1717.2,1003.2 1716.4,1003.8 1715.6,1004.8 1714.8,1005.7 1714.0,1006.6 1713.2,1007.2 1712.4,1007.4 1711.6,1007.7 1710.8,1007.5 1710.0,1007.4 1709.2,1007.3 1708.4,1007.5 1707.6,1006.5 1706.8,1005.4 1706.0,1004.3 1705.2,1003.3 1704.4,1002.2 1703.6,1001.2 1702.8,1000.3 1702.0,999.4 1701.2,998.9 1700.4,998.3 1699.6,996.5 1698.8,993.2 1698.0,990.7 1697.2,989.3 1696.4,988.4 1695.6,987.5 1694.8,986.6 1694.0,985.7 1693.2,989.3 1692.4,995.0 1691.6,995.2 1690.8,995.4 1690.0,995.6 1689.2,996.0 1688.4,996.4 1687.6,996.1 1686.8,996.0 1686.0,995.8 1685.2,995.7 1684.4,995.4 1683.6,995.1 1682.8,998.1 1682.0,1003.3 1681.2,1005.9 1680.4,1006.9 1679.6,1007.4 1678.8,1008.0 1678.0,1008.6 1677.2,1009.5 1676.4,1010.1 1675.6,1010.1 1674.8,1009.7 1674.0,1009.2 1673.2,1008.8 1672.4,1008.6 1671.6,1008.5 1670.8,1008.4 1670.0,1007.9 1669.2,1007.5 1668.4,1007.0 1667.6,1007.0 1666.8,1007.0 1666.0,1007.1 1665.2,1007.1 1664.4,1007.1 1663.6,1007.0 1662.8,1007.0 1662.0,1006.9 1661.2,1006.9 1660.4,1007.1 1659.6,1007.5 1658.8,1008.0 1658.0,1008.4 1657.2,1008.7 1656.4,1009.0 1655.6,1009.3 1654.8,1009.7 1654.0,1010.0 1653.2,1010.1 1652.4,1010.2 1651.6,1010.3 1650.8,1010.4 1650.0,1010.6 1649.2,1010.8 1648.4,1011.4 1647.6,1011.8 1646.8,1012.2 1646.0,1012.1 1645.2,1012.1 1644.4,1012.1 1643.6,1012.1 1642.8,1012.2 1642.0,1012.2 1641.2,1012.1 1640.4,1011.8 1639.6,1011.5 1638.8,1011.2 1638.0,1010.8 1637.2,1010.4 1636.4,1009.5 1635.6,1008.6 1634.8,1007.6 1634.0,1007.5 1633.2,1007.3 1632.4,1007.3 1631.6,1006.6 1630.8,1005.9 1630.0,1005.2 1629.2,1004.9 1628.4,1004.6 1627.6,1004.2 1626.8,1004.2 1626.0,1009.0 1625.2,1014.4 1624.4,1016.5 1623.6,1017.5 1622.8,1018.6 1622.0,1019.6 1621.2,1020.7 1620.4,1021.7 1619.6,1021.9 1618.8,1021.4 1618.0,1020.9 1617.2,1020.9 1616.4,1020.8 1615.6,1020.7 1614.8,1020.3 1614.0,1019.0 1613.2,1017.6 1612.4,1016.4 1611.6,1015.3 1610.8,1015.7 1610.0,1015.6 1609.2,1015.6 1608.4,1015.5 1607.6,1015.9 1606.8,1016.3 1606.0,1016.7 1605.2,1016.2 1604.4,1015.6 1603.6,1014.9 1602.8,1014.1 1602.0,1013.3 1601.2,1012.4 1600.4,1011.6 1599.6,1010.4 1598.8,1009.3 1598.0,1008.4 1597.2,1007.4 1596.4,1007.9 1595.6,1010.6 1594.8,1012.8 1594.0,1013.6 1593.2,1014.7 1592.4,1015.8 1591.6,1017.0 1590.8,1017.8 1590.0,1018.6 1589.2,1018.6 1588.4,1018.6 1587.6,1018.7 1586.8,1018.7 1586.0,1018.9 1585.2,1019.2 1584.4,1019.5 1583.6,1019.4 1582.8,1019.1 1582.0,1018.6 1581.2,1018.7 1580.4,1018.9 1579.6,1019.0 1578.8,1018.7 1578.0,1017.9 1577.2,1016.3 1576.4,1014.8 1575.6,1013.3 1574.8,1012.1 1574.0,1011.9 1573.2,1011.6 1572.4,1011.4 1571.6,1010.8 1570.8,1010.2 1570.0,1009.6 1569.2,1009.4 1568.4,1009.9 1567.6,1010.4 1566.8,1010.8 1566.0,1011.2 1565.2,1011.6 1564.4,1011.6 1563.6,1011.6 1562.8,1011.5 1562.0,1011.5 1561.2,1011.4 1560.4,1011.4 1559.6,1011.5 1558.8,1011.5 1558.0,1011.3 1557.2,1011.2 1556.4,1011.0 1555.6,1010.9 1554.8,1010.3 1554.0,1009.8 1553.2,1009.2 1552.4,1008.6 1551.6,1008.1 1550.8,1007.5 1550.0,1007.3 1549.2,1006.3 1548.4,1005.4 1547.6,1004.5 1546.8,1003.6 1546.0,1002.7 1545.2,1002.0 1544.4,1001.6 1543.6,1001.1 1542.8,1001.1 1542.0,1001.1 1541.2,1001.1 1540.4,1001.1 1539.6,1001.5 1538.8,1002.5 1538.0,1002.8 1537.2,1002.7 1536.4,1002.7 1535.6,1002.8 1534.8,1003.0 1534.0,1003.1 1533.2,1003.4 1532.4,1003.5 1531.6,1003.2 1530.8,1003.1 1530.0,1003.1 1529.2,1003.1 1528.4,1002.6 1527.6,1002.3 1526.8,1002.1 1526.0,1002.0 1525.2,1001.9 1524.4,1001.9 1523.6,1002.1 1522.8,1002.3 1522.0,1002.5 1521.2,1002.2 1520.4,1001.6 1519.6,1001.1 1518.8,1000.3 1518.0,999.5 1517.2,998.7 1516.4,999.4 1515.6,1000.7 1514.8,1002.0 1514.0,1002.9 1513.2,1003.7 1512.4,1003.2 1511.6,1003.4 1510.8,1003.6 1510.0,1003.8 1509.2,1003.6 1508.4,1003.4 1507.6,1002.2 1506.8,1000.9 1506.0,999.7 1505.2,998.5 1504.4,997.8 1503.6,997.3 1502.8,996.9 1502.0,996.1 1501.2,995.3 1500.4,994.6 1499.6,994.5 1498.8,994.5 1498.0,994.4 1497.2,993.6 1496.4,992.8 1495.6,991.4 1494.8,988.4 1494.0,985.5 1493.2,982.8 1492.4,982.6 1491.6,982.4 1490.8,982.2 1490.0,981.0 1489.2,983.3 1488.4,985.6 1487.6,986.6 1486.8,987.3 1486.0,988.0 1485.2,989.2 1484.4,989.8 1483.6,990.2 1482.8,990.0 1482.0,989.8 1481.2,989.6 1480.4,989.5 1479.6,989.5 1478.8,989.4 1478.0,989.3 1477.2,989.4 1476.4,989.6 1475.6,990.0 1474.8,990.4 1474.0,990.9 1473.2,991.2 1472.4,991.3 1471.6,991.4 1470.8,991.8 1470.0,992.2 1469.2,992.6 1468.4,993.0 1467.6,993.4 1466.8,993.7 1466.0,993.6 1465.2,993.5 1464.4,994.0 1463.6,995.2 1462.8,996.4 1462.0,997.5 1461.2,998.4 1460.4,999.3 1459.6,1000.1 1458.8,1000.5 1458.0,1001.0 1457.2,1001.4 1456.4,1002.4 1455.6,1003.1 1454.8,1003.9 1454.0,1004.3 1453.2,1004.7 1452.4,1005.0 1451.6,1005.4 1450.8,1005.7 1450.0,1006.0 1449.2,1005.2 1448.4,1004.3 1447.6,1003.5 1446.8,1002.6 1446.0,1001.7 1445.2,1001.1 1444.4,1000.6 1443.6,1000.1 1442.8,999.7 1442.0,999.4 1441.2,999.1 1440.4,998.7 1439.6,998.5 1438.8,998.4 1438.0,998.2 1437.2,998.4 1436.4,998.6 1435.6,998.7 1434.8,998.4 1434.0,997.4 1433.2,996.3 1432.4,995.0 1431.6,993.6 1430.8,992.2 1430.0,993.9 1429.2,995.7 1428.4,995.9 1427.6,996.1 1426.8,996.4 1426.0,996.6 1425.2,996.5 1424.4,995.9 1423.6,995.0 1422.8,994.6 1422.0,994.3 1421.2,994.3 1420.4,994.3 1419.6,994.2 1418.8,994.2 1418.0,994.0 1417.2,993.7 1416.4,993.5 1415.6,993.8 1414.8,994.0 1414.0,993.7 1413.2,992.8 1412.4,992.0 1411.6,991.1 1410.8,990.8 1410.0,990.4 1409.2,991.4 1408.4,991.8 1407.6,992.1 1406.8,992.5 1406.0,993.0 1405.2,993.5 1404.4,993.9 1403.6,994.3 1402.8,994.8 1402.0,995.2 1401.2,995.7 1400.4,996.1 1399.6,996.5 1398.8,996.6 1398.0,996.1 1397.2,995.6 1396.4,995.4 1395.6,994.8 1394.8,993.2 1394.0,990.9 1393.2,988.6 1392.4,986.3 1391.6,984.1 1390.8,978.3 1390.0,972.4 1389.2,971.9 1388.4,971.5 1387.6,971.1 1386.8,971.1 1386.0,971.1 1385.2,970.6 1384.4,969.3 1383.6,968.1 1382.8,966.9 1382.0,966.3 1381.2,976.1 1380.4,977.1 1379.6,977.4 1378.8,977.8 1378.0,978.1 1377.2,979.3 1376.4,980.5 1375.6,981.7 1374.8,982.0 1374.0,982.3 1373.2,982.6 1372.4,983.2 1371.6,983.7 1370.8,983.7 1370.0,984.0 1369.2,984.3 1368.4,984.7 1367.6,984.5 1366.8,984.4 1366.0,984.2 1365.2,984.2 1364.4,984.2 1363.6,984.1 1362.8,983.9 1362.0,983.5 1361.2,982.8 1360.4,982.5 1359.6,982.2 1358.8,982.0 1358.0,981.7 1357.2,981.5 1356.4,981.5 1355.6,981.7 1354.8,981.8 1354.0,982.0 1353.2,981.9 1352.4,981.8 1351.6,981.8 1350.8,982.2 1350.0,982.5 1349.2,982.9 1348.4,983.9 1347.6,984.9 1346.8,985.9 1346.0,985.4 1345.2,984.8 1344.4,984.2 1343.6,983.4 1342.8,982.6 1342.0,982.3 1341.2,982.8 1340.4,983.2 1339.6,983.7 1338.8,984.0 1338.0,984.3 1337.2,984.6 1336.4,984.7 1335.6,984.6 1334.8,984.5 1334.0,985.1 1333.2,985.7 1332.4,986.3 1331.6,986.4 1330.8,986.4 1330.0,986.5 1329.2,987.2 1328.4,987.9 1327.6,988.6 1326.8,989.2 1326.0,989.8 1325.2,990.5 1324.4,990.9 1323.6,990.2 1322.8,989.1 1322.0,988.5 1321.2,987.8 1320.4,987.2 1319.6,986.9 1318.8,987.1 1318.0,987.4 1317.2,987.2 1316.4,987.0 1315.6,986.8 1314.8,987.5 1314.0,989.1 1313.2,990.7 1312.4,992.1 1311.6,993.5 1310.8,994.9 1310.0,995.0 1309.2,995.1 1308.4,995.1 1307.6,995.1 1306.8,995.1 1306.0,994.4 1305.2,993.6 1304.4,992.7 1303.6,991.8 1302.8,991.2 1302.0,990.6 1301.2,990.5 1300.4,990.5 1299.6,990.6 1298.8,990.7 1298.0,991.1 1297.2,991.6 1296.4,992.1 1295.6,991.8 1294.8,991.6 1294.0,991.7 1293.2,992.6 1292.4,993.4 1291.6,994.3 1290.8,995.1 1290.0,995.8 1289.2,996.2 1288.4,996.4 1287.6,996.5 1286.8,996.6 1286.0,996.7 1285.2,996.8 1284.4,996.8 1283.6,996.6 1282.8,996.2 1282.0,995.8 1281.2,995.6 1280.4,995.4 1279.6,995.6 1278.8,996.3 1278.0,996.9 1277.2,997.5 1276.4,997.7 1275.6,997.9 1274.8,998.1 1274.0,998.6 1273.2,999.1 1272.4,999.6 1271.6,1000.3 1270.8,1001.1 1270.0,1001.9 1269.2,1002.5 1268.4,1002.7 1267.6,1002.9 1266.8,1003.0 1266.0,1003.0 1265.2,1003.1 1264.4,1003.0 1263.6,1002.6 1262.8,1002.3 1262.0,1001.4 1261.2,1000.6 1260.4,999.7 1259.6,1000.1 1258.8,1001.5 1258.0,1002.8 1257.2,1003.7 1256.4,1004.1 1255.6,1004.0 1254.8,1004.1 1254.0,1004.3 1253.2,1004.4 1252.4,1004.9 1251.6,1005.3 1250.8,1005.8 1250.0,1005.4 1249.2,1005.0 1248.4,1004.6 1247.6,1004.4 1246.8,1004.3 1246.0,1004.1 1245.2,1004.0 1244.4,1003.5 1243.6,1003.0 1242.8,1002.5 1242.0,1002.1 1241.2,1001.6 1240.4,1000.7 1239.6,1000.4 1238.8,1000.7 1238.0,1001.3 1237.2,1002.0 1236.4,1002.7 1235.6,1002.9 1234.8,1003.2 1234.0,1003.5 1233.2,1004.4 1232.4,1005.3 1231.6,1006.1 1230.8,1006.3 1230.0,1006.5 1229.2,1005.5 1228.4,1005.3 1227.6,1005.0 1226.8,1004.8 1226.0,1004.2 1225.2,1003.5 1224.4,1003.5 1223.6,1003.7 1222.8,1003.9 1222.0,1004.2 1221.2,1004.2 1220.4,1004.2 1219.6,1003.8 1218.8,1003.0 1218.0,1002.2 1217.2,1001.4 1216.4,1001.4 1215.6,1001.9 1214.8,1002.4 1214.0,1002.2 1213.2,1002.0 1212.4,1001.8 1211.6,1001.8 1210.8,1001.8 1210.0,1001.9 1209.2,1002.3 1208.4,1002.7 1207.6,1003.1 1206.8,1002.7 1206.0,1002.4 1205.2,1002.1 1204.4,1001.9 1203.6,1001.7 1202.8,1001.6 1202.0,1001.5 1201.2,1001.4 1200.4,1001.3 1199.6,1001.7 1198.8,1002.1 1198.0,1002.6 1197.2,1002.4 1196.4,1002.1 1195.6,1001.9 1194.8,1002.1 1194.0,1002.2 1193.2,1002.4 1192.4,1002.8 1191.6,1003.2 1190.8,1003.6 1190.0,1003.3 1189.2,1003.7 1188.4,1004.0 1187.6,1004.9 1186.8,1005.8 1186.0,1006.2 1185.2,1006.2 1184.4,1006.2 1183.6,1006.3 1182.8,1006.6 1182.0,1006.6 1181.2,1006.4 1180.4,1005.6 1179.6,1004.8 1178.8,1004.0 1178.0,1003.9 1177.2,1003.7 1176.4,1003.5 1175.6,1007.2 1174.8,1010.9 1174.0,1011.2 1173.2,1011.7 1172.4,1012.2 1171.6,1012.7 1170.8,1012.5 1170.0,1012.2 1169.2,1019.1 1168.4,1021.7 1167.6,1024.3 1166.8,1024.8 1166.0,1025.1 1165.2,1025.4 1164.4,1025.7 1163.6,1025.7 1162.8,1025.0 1162.0,1024.0 1161.2,1023.2 1160.4,1022.3 1159.6,1022.2 1158.8,1022.9 1158.0,1023.6 1157.2,1024.3 1156.4,1024.6 1155.6,1024.9 1154.8,1025.1 1154.0,1025.1 1153.2,1025.1 1152.4,1025.2 1151.6,1025.5 1150.8,1025.9 1150.0,1026.2 1149.2,1026.0 1148.4,1025.8 1147.6,1025.5 1146.8,1025.6 1146.0,1025.5 1145.2,1025.5 1144.4,1025.3 1143.6,1025.2 1142.8,1025.1 1142.0,1024.9 1141.2,1024.8 1140.4,1024.6 1139.6,1024.1 1138.8,1023.3 1138.0,1022.4 1137.2,1021.5 1136.4,1020.7 1135.6,1019.8 1134.8,1019.4 1134.0,1019.3 1133.2,1020.0 1132.4,1020.1 1131.6,1020.2 1130.8,1020.3 1130.0,1020.7 1129.2,1021.1 1128.4,1021.5 1127.6,1021.6 1126.8,1021.6 1126.0,1021.3 1125.2,1021.1 1124.4,1021.0 1123.6,1020.8 1122.8,1020.6 1122.0,1020.4 1121.2,1020.2 1120.4,1020.4 1119.6,1020.6 1118.8,1020.9 1118.0,1020.1 1117.2,1018.8 1116.4,1017.5 1115.6,1016.2 1114.8,1014.8 1114.0,1013.5 1113.2,1012.4 1112.4,1011.3 1111.6,1010.1 1110.8,1009.1 1110.0,1008.0 1109.2,1007.1 1108.4,1006.1 1107.6,1005.1 1106.8,1004.1 1106.0,1003.1 1105.2,1002.0 1104.4,999.7 1103.6,997.0 1102.8,994.3 1102.0,991.5 1101.2,990.5 1100.4,990.4 1099.6,990.2 1098.8,989.9 1098.0,989.2 1097.2,988.0 1096.4,986.9 1095.6,985.7 1094.8,984.6 1094.0,983.8 1093.2,982.7 1092.4,980.1 1091.6,977.1 1090.8,974.1 1090.0,971.1 1089.2,970.6 1088.4,970.2 1087.6,969.8 1086.8,964.3 1086.0,958.2 1085.2,956.1 1084.4,955.2 1083.6,972.3 1082.8,974.1 1082.0,974.6 1081.2,974.8 1080.4,974.9 1079.6,975.2 1078.8,975.4 1078.0,975.5 1077.2,975.2 1076.4,974.8 1075.6,974.1 1074.8,972.8 1074.0,972.4 1073.2,973.8 1072.4,971.7 1071.6,969.6 1070.8,967.5 1070.0,967.4 1069.2,967.3 1068.4,967.2 1067.6,966.8 1066.8,965.4 1066.0,963.9 1065.2,962.9 1064.4,961.9 1063.6,961.0 1062.8,960.6 1062.0,960.7 1061.2,960.8 1060.4,960.8 1059.6,960.8 1058.8,960.8 1058.0,960.6 1057.2,959.9 1056.4,958.1 1055.6,956.5 1054.8,954.9 1054.0,953.6 1053.2,953.5 1052.4,953.3 1051.6,953.6 1050.8,956.5 1050.0,959.5 1049.2,962.5 1048.4,963.1 1047.6,963.7 1046.8,964.3 1046.0,964.5 1045.2,964.7 1044.4,964.2 1043.6,964.0 1042.8,963.8 1042.0,963.7 1041.2,962.9 1040.4,962.4 1039.6,962.3 1038.8,962.6 1038.0,962.8 1037.2,963.1 1036.4,963.2 1035.6,962.9 1034.8,962.7 1034.0,962.2 1033.2,961.7 1032.4,961.2 1031.6,961.2 1030.8,961.2 1030.0,961.2 1029.2,960.1 1028.4,959.0 1027.6,958.0 1026.8,956.7 1026.0,955.5 1025.2,954.3 1024.4,953.7 1023.6,953.2 1022.8,952.8 1022.0,952.6 1021.2,952.4 1020.4,952.2 1019.6,951.5 1018.8,950.6 1018.0,949.7 1017.2,949.1 1016.4,948.4 1015.6,947.7 1014.8,947.0 1014.0,946.3 1013.2,945.6 1012.4,944.7 1011.6,943.9 1010.8,943.5 1010.0,943.0 1009.2,942.6 1008.4,942.1 1007.6,941.8 1006.8,941.4 1006.0,941.1 1005.2,940.7 1004.4,939.4 1003.6,937.8 1002.8,936.5 1002.0,935.2 1001.2,934.7 1000.4,934.1 999.6,933.6 998.8,933.0 998.0,932.8 997.2,932.6 996.4,932.1 995.6,930.9 994.8,929.8 994.0,928.6 993.2,927.2 992.4,925.8 991.6,924.3 990.8,922.2 990.0,920.2 989.2,918.1 988.4,915.4 987.6,914.2 986.8,913.2 986.0,912.9 985.2,912.6 984.4,912.3 983.6,911.7 982.8,911.1 982.0,909.9 981.2,908.1 980.4,906.3 979.6,904.4 978.8,902.8 978.0,902.0 977.2,902.7 976.4,903.6 975.6,904.5 974.8,905.5 974.0,906.2 973.2,906.9 972.4,908.0 971.6,908.9 970.8,909.7 970.0,910.6 969.2,911.6 968.4,912.6 967.6,915.0 966.8,918.0 966.0,921.0 965.2,935.7 964.4,951.2 963.6,965.9 962.8,971.1 962.0,972.7 961.2,973.2 960.4,973.4 959.6,973.6 958.8,973.6 958.0,973.5 957.2,973.4 956.4,973.1 955.6,972.7 954.8,972.0 954.0,970.6 953.2,967.4 952.4,949.9 951.6,933.6 950.8,926.1 950.0,918.8 949.2,911.6 948.4,911.8 947.6,911.6 946.8,911.4 946.0,911.2 945.2,911.5 944.4,911.8 943.6,912.1 942.8,912.2 942.0,912.2 941.2,912.2 940.4,911.9 939.6,911.5 938.8,911.2 938.0,911.1 937.2,911.0 936.4,910.5 935.6,909.1 934.8,907.8 934.0,906.4 933.2,905.0 932.4,904.2 931.6,903.4 930.8,902.7 930.0,902.0 929.2,901.3 928.4,900.7 927.6,900.2 926.8,899.6 926.0,899.1 925.2,898.6 924.4,898.2 923.6,897.0 922.8,895.8 922.0,894.7 921.2,894.0 920.4,893.4 919.6,892.7 918.8,891.9 918.0,889.5 917.2,886.2 916.4,886.1 915.6,886.0 914.8,885.9 914.0,885.5 913.2,885.1 912.4,884.2 911.6,883.3 910.8,882.3 910.0,881.3 909.2,880.9 908.4,880.4 907.6,878.9 906.8,876.6 906.0,874.3 905.2,872.0 904.4,870.6 903.6,869.2 902.8,867.8 902.0,866.2 901.2,864.6 900.4,863.0 899.6,861.6 898.8,860.3 898.0,859.1 897.2,857.5 896.4,855.8 895.6,858.9 894.8,876.5 894.0,900.4 893.2,938.3 892.4,940.9 891.6,941.9 890.8,942.4 890.0,943.1 889.2,943.7 888.4,944.1 887.6,943.7 886.8,943.1 886.0,942.4 885.2,942.2 884.4,941.7 883.6,939.5 882.8,910.8 882.0,865.8 881.2,848.4 880.4,847.6 879.6,846.8 878.8,846.0 878.0,844.8 877.2,843.5 876.4,842.3 875.6,841.5 874.8,840.7 874.0,839.9 873.2,839.3 872.4,838.7 871.6,838.2 870.8,838.8 870.0,839.5 869.2,840.2 868.4,840.7 867.6,841.3 866.8,841.8 866.0,843.0 865.2,844.2 864.4,845.4 863.6,846.5 862.8,858.6 862.0,877.2 861.2,895.7 860.4,910.9 859.6,921.6 858.8,922.7 858.0,923.7 857.2,930.7 856.4,940.8 855.6,943.5 854.8,944.7 854.0,945.3 853.2,945.6 852.4,945.8 851.6,945.6 850.8,945.3 850.0,944.9 849.2,944.9 848.4,944.7 847.6,944.1 846.8,939.2 846.0,926.9 845.2,923.1 844.4,921.8 843.6,920.5 842.8,919.2 842.0,918.3 841.2,884.8 840.4,858.1 839.6,858.1 838.8,858.2 838.0,858.2 837.2,857.6 836.4,857.0 835.6,856.4 834.8,856.4 834.0,857.0 833.2,857.7 832.4,858.8 831.6,859.8 830.8,860.9 830.0,861.8 829.2,862.5 828.4,863.2 827.6,863.8 826.8,864.4 826.0,865.1 825.2,865.2 824.4,865.3 823.6,864.4 822.8,863.8 822.0,863.2 821.2,862.6 820.4,861.8 819.6,861.0 818.8,860.3 818.0,859.5 817.2,858.6 816.4,857.7 815.6,856.7 814.8,855.7 814.0,854.7 813.2,853.9 812.4,853.9 811.6,854.0 810.8,854.1 810.0,854.2 809.2,854.3 808.4,854.3 807.6,854.2 806.8,854.2 806.0,853.6 805.2,852.9 804.4,852.2 803.6,851.5 802.8,850.8 802.0,850.1 801.2,849.2 800.4,848.4 799.6,847.5 798.8,846.6 798.0,845.6 797.2,844.7 796.4,844.2 795.6,843.6 794.8,843.1 794.0,842.0 793.2,841.0 792.4,839.9 791.6,839.2 790.8,838.5 790.0,837.7 789.2,837.5 788.4,837.2 787.6,837.0 786.8,836.2 786.0,835.4 785.2,834.7 784.4,842.2 783.6,852.3 782.8,866.5 782.0,883.1 781.2,914.9 780.4,949.5 779.6,952.0 778.8,953.2 778.0,954.1 777.2,954.5 776.4,954.8 775.6,954.9 774.8,954.3 774.0,953.5 773.2,952.6 772.4,952.1 771.6,951.1 770.8,931.8 770.0,890.0 769.2,841.9 768.4,841.6 767.6,841.0 766.8,840.3 766.0,839.0 765.2,837.7 764.4,836.4 763.6,835.1 762.8,833.7 762.0,832.4 761.2,831.2 760.4,830.3 759.6,829.4 758.8,828.5 758.0,827.2 757.2,825.9 756.4,824.1 755.6,821.9 754.8,819.7 754.0,817.5 753.2,815.2 752.4,812.8 751.6,810.0 750.8,807.2 750.0,804.4 749.2,801.5 748.4,798.9 747.6,796.3 746.8,793.7 746.0,786.7 745.2,784.8 744.4,784.6 743.6,784.6 742.8,784.5 742.0,784.5 741.2,784.9 740.4,788.8 739.6,796.1 738.8,802.9 738.0,813.1 737.2,828.9 736.4,845.0 735.6,868.7 734.8,914.8 734.0,920.2 733.2,922.2 732.4,922.8 731.6,923.5 730.8,923.9 730.0,924.2 729.2,924.4 728.4,924.4 727.6,924.2 726.8,923.9 726.0,923.4 725.2,922.6 724.4,912.9 723.6,839.7 722.8,839.6 722.0,839.8 721.2,840.0 720.4,840.2 719.6,841.0 718.8,842.4 718.0,843.8 717.2,845.1 716.4,846.4 715.6,847.7 714.8,848.5 714.0,848.8 713.2,849.1 712.4,849.9 711.6,850.7 710.8,851.5 710.0,852.1 709.2,852.7 708.4,853.4 707.6,853.9 706.8,854.5 706.0,855.0 705.2,855.1 704.4,855.2 703.6,855.4 702.8,855.9 702.0,856.4 701.2,857.0 700.4,857.6 699.6,857.5 698.8,856.9 698.0,856.1 697.2,855.3 696.4,854.5 695.6,853.8 694.8,853.1 694.0,852.3 693.2,851.9 692.4,851.6 691.6,852.4 690.8,852.9 690.0,853.4 689.2,853.9 688.4,854.5 687.6,855.2 686.8,855.8 686.0,855.5 685.2,855.1 684.4,854.6 683.6,854.1 682.8,853.6 682.0,853.1 681.2,852.3 680.4,851.4 679.6,850.6 678.8,850.3 678.0,850.0 677.2,849.5 676.4,848.6 675.6,847.7 674.8,846.8 674.0,846.0 673.2,845.2 672.4,844.4 671.6,843.3 670.8,841.5 670.0,839.8 669.2,838.1 668.4,836.5 667.6,834.8 666.8,833.5 666.0,832.6 665.2,831.7 664.4,830.6 663.6,829.4 662.8,828.2 662.0,827.2 661.2,825.3 660.4,822.9 659.6,820.2 658.8,817.6 658.0,814.9 657.2,813.2 656.4,812.4 655.6,811.6 654.8,810.1 654.0,808.6 653.2,807.1 652.4,806.3 651.6,805.5 650.8,805.7 650.0,805.5 649.2,805.3 648.4,805.1 647.6,805.6 646.8,835.8 646.0,866.9 645.2,891.7 644.4,898.4 643.6,899.7 642.8,900.5 642.0,900.9 641.2,901.2 640.4,901.3 639.6,901.3 638.8,901.1 638.0,901.1 637.2,900.9 636.4,900.4 635.6,898.3 634.8,882.1 634.0,855.4 633.2,824.8 632.4,825.4 631.6,826.0 630.8,826.1 630.0,826.2 629.2,826.3 628.4,826.4 627.6,826.7 626.8,827.0 626.0,827.5 625.2,828.1 624.4,828.6 623.6,828.8 622.8,829.0 622.0,829.2 621.2,829.5 620.4,829.7 619.6,829.8 618.8,829.9 618.0,829.9 617.2,829.9 616.4,829.8 615.6,829.7 614.8,829.5 614.0,829.9 613.2,830.3 612.4,830.6 611.6,830.1 610.8,829.7 610.0,829.2 609.2,829.4 608.4,829.7 607.6,829.9 606.8,829.9 606.0,829.8 605.2,829.8 604.4,830.2 603.6,830.7 602.8,831.1 602.0,830.9 601.2,830.6 600.4,830.3 599.6,830.4 598.8,830.2 598.0,830.1 597.2,829.9 596.4,829.8 595.6,829.7 594.8,829.4 594.0,829.1 593.2,828.8 592.4,827.8 591.6,826.8 590.8,825.8 590.0,825.1 589.2,824.5 588.4,823.8 587.6,823.3 586.8,822.7 586.0,822.2 585.2,822.1 584.4,821.9 583.6,821.7 582.8,821.2 582.0,820.7 581.2,820.5 580.4,820.6 579.6,820.7 578.8,820.8 578.0,820.9 577.2,820.9 576.4,821.0 575.6,820.8 574.8,820.4 574.0,819.8 573.2,819.7 572.4,819.5 571.6,819.4 570.8,818.9 570.0,818.4 569.2,817.8 568.4,818.0 567.6,817.8 566.8,817.6 566.0,817.0 565.2,816.4 564.4,815.7 563.6,815.1 562.8,813.5 562.0,811.3 561.2,808.6 560.4,805.9 559.6,803.7 558.8,802.7 558.0,801.7 557.2,800.8 556.4,799.6 555.6,798.5 554.8,797.3 554.0,795.3 553.2,791.2 552.4,787.1 551.6,783.4 550.8,779.8 550.0,778.6 549.2,777.3 548.4,776.1 547.6,774.8 546.8,773.0 546.0,772.7 545.2,772.5 544.4,772.8 543.6,773.0 542.8,773.3 542.0,773.6 541.2,774.0 540.4,774.4 539.6,774.7 538.8,774.9 538.0,775.1 537.2,779.6 536.4,790.8 535.6,802.1 534.8,814.0 534.0,829.3 533.2,844.2 532.4,857.5 531.6,870.8 530.8,876.9 530.0,878.3 529.2,879.3 528.4,880.0 527.6,880.2 526.8,880.4 526.0,880.3 525.2,880.2 524.4,880.0 523.6,879.5 522.8,878.6 522.0,876.1 521.2,844.0 520.4,819.1 519.6,802.4 518.8,794.2 518.0,794.2 517.2,794.2 516.4,794.1 515.6,794.4 514.8,794.6 514.0,794.9 513.2,795.2 512.4,795.6 511.6,795.9 510.8,796.3 510.0,796.8 509.2,797.2 508.4,797.9 507.6,798.6 506.8,799.3 506.0,799.5 505.2,799.6 504.4,798.9 503.6,798.6 502.8,798.3 502.0,798.0 501.2,797.2 500.4,796.4 499.6,796.0 498.8,795.9 498.0,795.9 497.2,795.8 496.4,795.7 495.6,795.7 494.8,795.6 494.0,796.0 493.2,796.3 492.4,796.6 491.6,797.1 490.8,798.6 490.0,800.2 489.2,801.3 488.4,802.3 487.6,802.7 486.8,803.2 486.0,803.7 485.2,804.3 484.4,804.7 483.6,805.1 482.8,805.5 482.0,806.5 481.2,807.5 480.4,808.5 479.6,808.5 478.8,808.2 478.0,807.9 477.2,808.1 476.4,808.2 475.6,808.4 474.8,808.4 474.0,808.5 473.2,808.5 472.4,808.4 471.6,808.2 470.8,808.1 470.0,808.4 469.2,808.7 468.4,809.0 467.6,808.7 466.8,808.5 466.0,808.2 465.2,808.4 464.4,808.6 463.6,808.9 462.8,808.8 462.0,809.0 461.2,809.2 460.4,809.9 459.6,810.6 458.8,811.4 458.0,811.8 457.2,812.3 456.4,812.5 455.6,812.2 454.8,811.9 454.0,811.5 453.2,811.7 452.4,811.8 451.6,812.0 450.8,811.7 450.0,811.4 449.2,811.2 448.4,811.1 447.6,811.1 446.8,811.0 446.0,810.9 445.2,810.7 444.4,810.6 443.6,810.8 442.8,811.0 442.0,811.3 441.2,811.3 440.4,811.3 439.6,811.4 438.8,811.1 438.0,810.8 437.2,810.5 436.4,810.5 435.6,810.4 434.8,810.2 434.0,809.2 433.2,808.3 432.4,807.4 431.6,806.9 430.8,809.1 430.0,811.4 429.2,813.6 428.4,815.8 427.6,820.0 426.8,825.0 426.0,826.5 425.2,827.5 424.4,827.6 423.6,827.7 422.8,827.9 422.0,827.2 421.2,825.9 420.4,824.5 419.6,823.6 418.8,822.7 418.0,822.4 417.2,822.7 416.4,823.0 415.6,823.3 414.8,823.3 414.0,822.7 413.2,822.0 412.4,821.8 411.6,821.5 410.8,821.2 410.0,820.4 409.2,814.6 408.4,808.8 407.6,807.9 406.8,807.6 406.0,807.4 405.2,806.6 404.4,806.8 403.6,807.4 402.8,807.9 402.0,808.4 401.2,808.9 400.4,809.9 399.6,810.9 398.8,811.9 398.0,812.6 397.2,813.2 396.4,813.9 395.6,814.4 394.8,815.1 394.0,816.4 393.2,817.9 392.4,819.5 391.6,821.0 390.8,822.6 390.0,824.2 389.2,824.2 388.4,824.4 387.6,824.5 386.8,824.6 386.0,824.5 385.2,824.4 384.4,824.2 383.6,824.0 382.8,823.7 382.0,823.4 381.2,822.8 380.4,822.0 379.6,821.2 378.8,820.2 378.0,819.3 377.2,818.4 376.4,817.7 375.6,817.0 374.8,816.5 374.0,816.3 373.2,816.2 372.4,816.0 371.6,815.8 370.8,815.5 370.0,815.3 369.2,816.4 368.4,817.5 367.6,818.6 366.8,819.8 366.0,820.3 365.2,820.7 364.4,821.3 363.6,821.8 362.8,822.4 362.0,822.7 361.2,823.0 360.4,823.3 359.6,823.5 358.8,823.6 358.0,823.5 357.2,823.3 356.4,823.1 355.6,823.0 354.8,822.8 354.0,822.7 353.2,822.5 352.4,822.3 351.6,821.9 350.8,820.9 350.0,819.5 349.2,818.1 348.4,816.6 347.6,816.0 346.8,815.4 346.0,810.5 345.2,808.3 344.4,807.6 343.6,806.8 342.8,807.1 342.0,807.9 341.2,808.6 340.4,809.0 339.6,809.4 338.8,809.8 338.0,810.2 337.2,810.1 336.4,810.1 335.6,810.3 334.8,810.5 334.0,810.8 333.2,810.4 332.4,810.1 331.6,809.6 330.8,808.7 330.0,807.8 329.2,807.0 328.4,805.7 327.6,804.5 326.8,803.3 326.0,803.0 325.2,802.9 324.4,802.8 323.6,802.9 322.8,803.1 322.0,803.3 321.2,803.2 320.4,803.1 319.6,803.0 318.8,803.5 318.0,804.5 317.2,805.5 316.4,806.8 315.6,807.8 314.8,807.9 314.0,807.3 313.2,806.7 312.4,806.1 311.6,805.7 310.8,805.3 310.0,804.9 309.2,804.5 308.4,795.0 307.6,785.5 306.8,781.7 306.0,778.5 305.2,775.4 304.4,773.3 303.6,771.8 302.8,765.0 302.0,755.5 301.2,750.5 300.4,748.3 299.6,741.6 298.8,721.1 298.0,719.5 297.2,718.1 296.4,717.9 295.6,717.6 294.8,717.5 294.0,717.3 293.2,717.1 292.4,717.1 291.6,716.3 290.8,715.5"/>
<polyline stroke="#f0f" points="294.3,884.7 295.8,931.9 297.3,964.4 298.8,984.3 300.3,1000.8 301.8,1016.2 303.3,1034.9 304.8,1056.3 306.3,1070.9 307.8,1073.2 309.3,1075.8 310.8,1077.9 312.3,1091.1 313.8,1094.5 315.3,1096.6 316.8,1098.7 318.3,1099.8 319.8,1099.8 321.3,1100.6 322.8,1101.6 324.3,1105.0 325.8,1109.3 327.3,1110.2 328.8,1110.7 330.3,1111.1 331.8,1112.1 333.3,1113.7 334.8,1114.8 336.3,1116.2 337.8,1115.9 339.3,1113.3 340.8,1110.6 342.3,1098.7 343.8,1098.8 345.3,1101.1 346.8,1103.6 348.3,1104.3 349.8,1105.3 351.3,1106.2 352.8,1106.7 354.3,1107.9 355.8,1108.2 357.3,1107.6 358.8,1101.3 360.3,1090.1 361.8,1078.3 363.3,1074.9 364.8,1071.4 366.3,1067.6 367.8,1064.1 369.3,1061.0 370.8,1061.2 372.3,1063.9 373.8,1068.7 375.3,1075.4 376.8,1079.1 378.3,1080.5 379.8,1081.8 381.3,1081.0 382.8,1079.4 384.3,1078.0 385.8,1076.8 387.3,1076.5 388.8,1075.9 390.3,1075.2 391.8,1073.5 393.3,1069.8 394.8,1065.0 396.3,1064.9 397.8,1066.6 399.3,1067.0 400.8,1070.2 402.3,1076.2 403.8,1080.5 405.3,1085.9 406.8,1090.0 408.3,1090.4 409.8,1091.6 411.3,1093.3 412.8,1093.2 414.3,1093.8 415.8,1093.5 417.3,1092.1 418.8,1091.6 420.3,1090.6 421.8,1090.1 423.3,1088.6 424.8,1087.4 426.3,1087.6 427.8,1088.1 429.3,1090.2 430.8,1091.0 432.3,1088.1 433.8,1085.2 435.3,1074.8 436.8,1071.0 438.3,1071.0 439.8,1071.2 441.3,1074.8 442.8,1076.2 444.3,1069.8 445.8,1064.5 447.3,1063.0 448.8,1066.4 450.3,1069.2 451.8,1072.6 453.3,1076.5 454.8,1079.6 456.3,1081.5 457.8,1082.9 459.3,1084.4 460.8,1086.0 462.3,1087.4 463.8,1089.6 465.3,1090.5 466.8,1091.0 468.3,1092.3 469.8,1092.9 471.3,1093.6 472.8,1094.3 474.3,1094.6 475.8,1096.6 477.3,1098.1 478.8,1099.6 480.3,1101.7 481.8,1102.3 483.3,1101.8 484.8,1102.1 486.3,1102.3 487.8,1101.8 489.3,1102.9 490.8,1103.3 492.3,1103.3 493.8,1103.0 495.3,1102.3 496.8,1100.6 498.3,1100.2 499.8,1100.2 501.3,1100.1 502.8,1098.8 504.3,1097.3 505.8,1096.4 507.3,1096.5 508.8,1097.5 510.3,1097.9 511.8,1098.1 513.3,1098.2 514.8,1096.9 516.3,1097.2 517.8,1097.0 519.3,1097.8 520.8,1097.0 522.3,1096.2 523.8,1095.8 525.3,1094.6 526.8,1093.3 528.3,1093.3 529.8,1093.1 531.3,1093.1 532.8,1092.3 534.3,1092.4 535.8,1093.0 537.3,1092.6 538.8,1094.3 540.3,1094.5 541.8,1094.7 543.3,1093.9 544.8,1093.9 546.3,1094.7 547.8,1096.2 549.3,1096.1 550.8,1097.5 552.3,1096.5 553.8,1096.2 555.3,1094.7 556.8,1094.3 558.3,1093.7 559.8,1091.5 561.3,1089.6 562.8,1087.4 564.3,1086.0 565.8,1084.7 567.3,1084.5 568.8,1084.2 570.3,1084.8 571.8,1083.8 573.3,1083.0 574.8,1082.8 576.3,1081.0 577.8,1080.7 579.3,1081.3 580.8,1082.0 582.3,1081.4 583.8,1081.4 585.3,1080.4 586.8,1079.9 588.3,1079.2 589.8,1080.8 591.3,1082.7 592.8,1084.8 594.3,1086.9 595.8,1090.1 597.3,1091.9 598.8,1093.6 600.3,1094.8 601.8,1095.4 603.3,1095.1 604.8,1094.4 606.3,1095.0 607.8,1094.8 609.3,1095.8 610.8,1096.7 612.3,1098.2 613.8,1098.6 615.3,1098.7 616.8,1098.2 618.3,1097.8 619.8,1098.4 621.3,1098.4 622.8,1097.6 624.3,1098.0 625.8,1096.9 627.3,1094.7 628.8,1094.0 630.3,1093.8 631.8,1095.4 633.3,1096.0 634.8,1096.7 636.3,1096.9 637.8,1096.9 639.3,1096.7 640.8,1097.6 642.3,1097.7 643.8,1097.4 645.3,1096.7 646.8,1095.5 648.3,1094.6 649.8,1093.9 651.3,1092.9 652.8,1091.2 654.3,1090.4 655.8,1089.2 657.3,1089.2 658.8,1088.9 660.3,1090.4 661.8,1091.8 663.3,1093.4 664.8,1095.7 666.3,1096.1 667.8,1097.0 669.3,1097.8 670.8,1098.7 672.3,1100.2 673.8,1100.0 675.3,1100.5 676.8,1100.2 678.3,1100.9 679.8,1101.4 681.3,1102.3 682.8,1102.7 684.3,1104.7 685.8,1104.3 687.3,1103.5 688.8,1102.2 690.3,1101.2 691.8,1102.3 693.3,1102.5 694.8,1102.5 696.3,1101.1 697.8,1100.4 699.3,1100.6 700.8,1102.0 702.3,1103.8 703.8,1104.2 705.3,1105.0 706.8,1103.6 708.3,1103.7 709.8,1103.6 711.3,1103.0 712.8,1103.3 714.3,1100.1 715.8,1097.2 717.3,1095.5 718.8,1094.7 720.3,1095.6 721.8,1096.3 723.3,1098.4 724.8,1099.5 726.3,1099.5 727.8,1100.6 729.3,1101.7 730.8,1102.7 732.3,1103.2 733.8,1103.5 735.3,1103.7 736.8,1103.6 738.3,1104.3 739.8,1103.9 741.3,1103.8 742.8,1102.7 744.3,1102.8 745.8,1102.4 747.3,1102.8 748.8,1103.8 750.3,1103.3 751.8,1103.8 753.3,1104.3 754.8,1104.5 756.3,1104.2 757.8,1104.1 759.3,1104.8 760.8,1104.3 762.3,1103.7 763.8,1103.6 765.3,1103.0 766.8,1103.2 768.3,1102.4 769.8,1102.6 771.3,1102.4 772.8,1103.8 774.3,1105.5 775.8,1106.8 777.3,1107.0 778.8,1107.6 780.3,1107.6 781.8,1108.2 783.3,1107.8 784.8,1107.5 786.3,1107.1 787.8,1107.5 789.3,1107.9 790.8,1107.8 792.3,1107.9 793.8,1107.2 795.3,1107.7 796.8,1108.4 798.3,1107.8 799.8,1106.4 801.3,1105.1 802.8,1104.0 804.3,1103.8 805.8,1103.3 807.3,1103.5 808.8,1102.6 810.3,1102.9 811.8,1102.2 813.3,1101.8 814.8,1101.3 816.3,1101.4 817.8,1103.0 819.3,1103.4 820.8,1105.0 822.3,1104.0 823.8,1104.0 825.3,1103.1 826.8,1101.5 828.3,1100.3 829.8,1099.8 831.3,1099.2 832.8,1100.7 834.3,1101.2 835.8,1102.3 837.3,1102.5 838.8,1102.8 840.3,1102.7 841.8,1102.8 843.3,1103.5 844.8,1103.8 846.3,1104.1 847.8,1104.3 849.3,1105.4 850.8,1106.5 852.3,1106.4 853.8,1106.8 855.3,1106.8 856.8,1106.2 858.3,1105.9 859.8,1105.8 861.3,1105.7 862.8,1105.8 864.3,1106.1 865.8,1106.9 867.3,1106.5 868.8,1106.8 870.3,1105.7 871.8,1106.2 873.3,1105.8 874.8,1106.5 876.3,1106.8 877.8,1106.7 879.3,1106.5 880.8,1106.8 882.3,1107.5 883.8,1107.4 885.3,1108.2 886.8,1107.6 888.3,1108.5 889.8,1107.8 891.3,1107.6 892.8,1107.6 894.3,1108.5 895.8,1108.6 897.3,1108.1 898.8,1108.6 900.3,1108.4 901.8,1107.8 903.3,1107.2 904.8,1106.2 906.3,1106.2 907.8,1106.6 909.3,1107.7 910.8,1108.7 912.3,1108.2 913.8,1107.7 915.3,1106.9 916.8,1106.6 918.3,1107.0 919.8,1106.7 921.3,1106.6 922.8,1107.1 924.3,1106.2 925.8,1104.6 927.3,1103.5 928.8,1102.2 930.3,1103.0 931.8,1103.1 933.3,1103.5 934.8,1104.6 936.3,1105.1 937.8,1104.6 939.3,1105.6 940.8,1105.7 942.3,1105.7 943.8,1105.6 945.3,1105.1 946.8,1105.4 948.3,1104.8 949.8,1104.5 951.3,1105.6 952.8,1105.3 954.3,1106.2 955.8,1106.5 957.3,1107.1 958.8,1107.5 960.3,1108.1 961.8,1108.7 963.3,1108.1 964.8,1108.2 966.3,1107.6 967.8,1108.1 969.3,1108.2 970.8,1109.0 972.3,1109.4 973.8,1108.8 975.3,1109.1 976.8,1108.9 978.3,1109.8 979.8,1109.4 981.3,1108.9 982.8,1109.5 984.3,1108.3 985.8,1107.8 987.3,1107.5 988.8,1107.8 990.3,1104.4 991.8,1093.6 993.3,1093.1 994.8,1091.6 996.3,1091.1 997.8,1091.4 999.3,1093.2 1000.8,1094.9 1002.3,1096.9 1003.8,1097.5 1005.3,1099.6 1006.8,1100.8 1008.3,1101.9 1009.8,1102.7 1011.3,1102.7 1012.8,1103.9 1014.3,1104.3 1015.8,1104.5 1017.3,1104.9 1018.8,1105.4 1020.3,1105.2 1021.8,1104.8 1023.3,1105.0 1024.8,1104.5 1026.3,1105.0 1027.8,1104.8 1029.3,1105.0 1030.8,1105.9 1032.3,1106.3 1033.8,1105.6 1035.3,1105.5 1036.8,1104.8 1038.3,1104.5 1039.8,1103.9 1041.3,1103.3 1042.8,1104.4 1044.3,1105.4 1045.8,1106.3 1047.3,1108.1 1048.8,1109.3 1050.3,1108.0 1051.8,1107.7 1053.3,1106.6 1054.8,1106.5 1056.3,1105.2 1057.8,1104.8 1059.3,1103.9 1060.8,1104.1 1062.3,1103.7 1063.8,1103.4 1065.3,1103.1 1066.8,1102.2 1068.3,1101.0 1069.8,1100.5 1071.3,1101.1 1072.8,1099.8 1074.3,1100.5 1075.8,1100.2 1077.3,1099.6 1078.8,1098.9 1080.3,1097.0 1081.8,1095.8 1083.3,1094.7 1084.8,1093.3 1086.3,1094.6 1087.8,1096.8 1089.3,1098.0 1090.8,1098.1 1092.3,1097.7 1093.8,1096.3 1095.3,1095.5 1096.8,1096.6 1098.3,1096.9 1099.8,1098.0 1101.3,1098.6 1102.8,1098.7 1104.3,1099.0 1105.8,1098.7 1107.3,1098.3 1108.8,1098.5 1110.3,1098.3 1111.8,1097.8 1113.3,1098.4 1114.8,1098.2 1116.3,1098.2 1117.8,1099.3 1119.3,1099.0 1120.8,1097.9 1122.3,1098.0 1123.8,1097.7 1125.3,1097.5 1126.8,1098.6 1128.3,1098.5 1129.8,1098.0 1131.3,1099.0 1132.8,1098.6 1134.3,1098.3 1135.8,1097.8 1137.3,1097.5 1138.8,1097.1 1140.3,1096.4 1141.8,1095.7 1143.3,1095.8 1144.8,1095.5 1146.3,1095.3 1147.8,1095.1 1149.3,1095.7 1150.8,1095.8 1152.3,1097.0 1153.8,1097.9 1155.3,1098.5 1156.8,1098.5 1158.3,1098.2 1159.8,1098.9 1161.3,1098.7 1162.8,1099.1 1164.3,1099.3 1165.8,1098.4 1167.3,1096.8 1168.8,1097.2 1170.3,1096.9 1171.8,1096.8 1173.3,1097.6 1174.8,1098.2 1176.3,1099.3 1177.8,1099.1 1179.3,1099.4 1180.8,1098.6 1182.3,1100.1 1183.8,1099.7 1185.3,1100.5 1186.8,1099.6 1188.3,1099.1 1189.8,1098.4 1191.3,1098.0 1192.8,1098.0 1194.3,1098.1 1195.8,1097.3 1197.3,1097.6 1198.8,1097.6 1200.3,1097.5 1201.8,1096.8 1203.3,1096.8 1204.8,1097.1 1206.3,1095.3 1207.8,1094.1 1209.3,1092.5 1210.8,1090.9 1212.3,1090.8 1213.8,1090.9 1215.3,1091.5 1216.8,1091.8 1218.3,1092.3 1219.8,1092.9 1221.3,1094.1 1222.8,1095.2 1224.3,1097.5 1225.8,1098.3 1227.3,1099.1 1228.8,1098.8 1230.3,1098.4 1231.8,1098.3 1233.3,1098.1 1234.8,1096.9 1236.3,1098.0 1237.8,1098.2 1239.3,1098.7 1240.8,1098.5 1242.3,1099.0 1243.8,1098.8 1245.3,1098.6 1246.8,1097.6 1248.3,1097.7 1249.8,1098.0 1251.3,1098.9 1252.8,1099.5 1254.3,1099.6 1255.8,1099.2 1257.3,1097.9 1258.8,1096.6 1260.3,1096.3 1261.8,1095.8 1263.3,1095.6 1264.8,1095.3 1266.3,1093.3 1267.8,1091.9 1269.3,1089.4 1270.8,1087.9 1272.3,1086.2 1273.8,1086.2 1275.3,1086.5 1276.8,1087.2 1278.3,1088.0 1279.8,1088.6 1281.3,1090.0 1282.8,1092.0 1284.3,1093.6 1285.8,1093.7 1287.3,1094.0 1288.8,1094.8 1290.3,1094.6 1291.8,1094.8 1293.3,1095.3 1294.8,1094.1 1296.3,1093.7 1297.8,1092.9 1299.3,1092.2 1300.8,1092.4 1302.3,1092.4 1303.8,1092.0 1305.3,1091.1 1306.8,1090.7 1308.3,1090.4 1309.8,1089.2 1311.3,1086.2 1312.8,1082.7 1314.3,1077.6 1315.8,1071.2 1317.3,1065.8 1318.8,1060.0 1320.3,1058.6 1321.8,1058.3 1323.3,1057.9 1324.8,1057.6 1326.3,1059.5 1327.8,1060.3 1329.3,1062.0 1330.8,1062.7 1332.3,1062.7 1333.8,1062.3 1335.3,1062.4 1336.8,1063.2 1338.3,1063.4 1339.8,1064.5 1341.3,1064.8 1342.8,1066.3 1344.3,1065.5 1345.8,1064.9 1347.3,1063.6 1348.8,1061.1 1350.3,1058.8 1351.8,1058.9 1353.3,1060.0 1354.8,1060.5 1356.3,1061.1 1357.8,1061.1 1359.3,1061.7 1360.8,1062.0 1362.3,1061.8 1363.8,1062.4 1365.3,1063.9 1366.8,1063.8 1368.3,1063.8 1369.8,1063.3 1371.3,1063.7 1372.8,1063.9 1374.3,1063.9 1375.8,1065.2 1377.3,1065.7 1378.8,1066.6 1380.3,1068.2 1381.8,1069.9 1383.3,1071.1 1384.8,1071.9 1386.3,1071.8 1387.8,1071.6 1389.3,1072.1 1390.8,1072.2 1392.3,1072.6 1393.8,1072.2 1395.3,1072.9 1396.8,1072.9 1398.3,1073.1 1399.8,1074.7 1401.3,1074.3 1402.8,1074.8 1404.3,1073.8 1405.8,1073.8 1407.3,1074.1 1408.8,1074.1 1410.3,1074.5 1411.8,1075.0 1413.3,1075.4 1414.8,1076.8 1416.3,1077.9 1417.8,1078.5 1419.3,1079.5 1420.8,1078.2 1422.3,1076.4 1423.8,1075.0 1425.3,1074.6 1426.8,1075.1 1428.3,1075.3 1429.8,1074.5 1431.3,1074.5 1432.8,1073.9 1434.3,1073.7 1435.8,1073.2 1437.3,1073.4 1438.8,1073.7 1440.3,1073.8 1441.8,1073.9 1443.3,1073.7 1444.8,1073.6 1446.3,1073.7 1447.8,1073.4 1449.3,1074.0 1450.8,1074.4 1452.3,1072.9 1453.8,1072.9 1455.3,1072.0 1456.8,1071.6 1458.3,1070.6 1459.8,1070.4 1461.3,1071.7 1462.8,1072.6 1464.3,1073.6 1465.8,1074.7 1467.3,1074.8 1468.8,1074.7 1470.3,1074.3 1471.8,1074.9 1473.3,1075.2 1474.8,1074.8 1476.3,1074.7 1477.8,1074.4 1479.3,1075.3 1480.8,1075.4 1482.3,1076.0 1483.8,1075.5 1485.3,1074.3 1486.8,1074.4 1488.3,1073.4 1489.8,1072.9 1491.3,1071.5 1492.8,1071.0 1494.3,1070.0 1495.8,1071.8 1497.3,1072.6 1498.8,1074.0 1500.3,1074.6 1501.8,1074.3 1503.3,1074.2 1504.8,1073.0 1506.3,1072.9 1507.8,1074.2 1509.3,1073.9 1510.8,1073.6 1512.3,1073.4 1513.8,1072.7 1515.3,1072.2 1516.8,1073.1 1518.3,1072.8 1519.8,1073.1 1521.3,1073.2 1522.8,1072.3 1524.3,1072.7 1525.8,1073.0 1527.3,1073.3 1528.8,1072.8 1530.3,1072.6 1531.8,1071.1 1533.3,1072.0 1534.8,1071.7 1536.3,1071.5 1537.8,1072.4 1539.3,1073.3 1540.8,1074.4 1542.3,1074.7 1543.8,1074.2 1545.3,1074.3 1546.8,1074.4 1548.3,1074.9 1549.8,1075.3 1551.3,1074.6 1552.8,1074.0 1554.3,1073.7 1555.8,1073.3 1557.3,1073.1 1558.8,1073.4 1560.3,1073.4 1561.8,1072.6 1563.3,1072.5 1564.8,1071.6 1566.3,1070.9 1567.8,1071.0 1569.3,1070.8 1570.8,1071.4 1572.3,1071.5 1573.8,1071.3 1575.3,1071.1 1576.8,1071.8 1578.3,1071.3 1579.8,1071.0 1581.3,1070.9 1582.8,1070.7 1584.3,1071.0 1585.8,1069.4 1587.3,1069.0 1588.8,1067.3 1590.3,1066.0 1591.8,1065.5 1593.3,1064.6 1594.8,1064.3 1596.3,1065.2 1597.8,1067.4 1599.3,1068.7 1600.8,1070.6 1602.3,1072.6 1603.8,1073.8 1605.3,1075.7 1606.8,1075.7 1608.3,1076.2 1609.8,1076.0 1611.3,1076.1 1612.8,1076.3 1614.3,1076.4 1615.8,1076.7 1617.3,1076.0 1618.8,1075.9 1620.3,1075.9 1621.8,1075.7 1623.3,1075.2 1624.8,1075.3 1626.3,1074.7 1627.8,1074.9 1629.3,1075.7 1630.8,1076.1 1632.3,1075.5 1633.8,1075.6 1635.3,1076.3 1636.8,1076.5 1638.3,1078.1 1639.8,1078.5 1641.3,1078.7 1642.8,1079.0 1644.3,1078.6 1645.8,1077.9 1647.3,1077.4 1648.8,1077.2 1650.3,1077.1 1651.8,1076.9 1653.3,1077.2 1654.8,1077.1 1656.3,1077.0 1657.8,1077.0 1659.3,1077.1 1660.8,1077.1 1662.3,1077.5 1663.8,1077.3 1665.3,1077.6 1666.8,1077.1 1668.3,1075.9 1669.8,1073.8 1671.3,1073.9 1672.8,1075.1 1674.3,1076.1 1675.8,1077.6 1677.3,1078.6 1678.8,1078.1 1680.3,1078.4 1681.8,1078.1 1683.3,1078.2 1684.8,1078.2 1686.3,1077.0 1687.8,1076.9 1689.3,1076.0 1690.8,1076.6 1692.3,1076.8 1693.8,1076.4 1695.3,1075.5 1696.8,1074.8 1698.3,1073.9 1699.8,1075.4 1701.3,1076.4 1702.8,1077.2 1704.3,1078.1 1705.8,1078.6 1707.3,1078.2 1708.8,1077.6 1710.3,1077.3 1711.8,1075.7 1713.3,1076.4 1714.8,1076.6 1716.3,1077.6 1717.8,1076.9 1719.3,1075.4 1720.8,1072.7 1722.3,1071.2 1723.8,1070.3 1725.3,1071.8 1726.8,1073.2 1728.3,1074.6 1729.8,1075.4 1731.3,1076.3 1732.8,1077.5 1734.3,1076.9 1735.8,1077.4 1737.3,1076.8 1738.8,1074.1 1740.3,1067.4 1741.8,1065.6 1743.3,1064.5 1744.8,1063.9 1746.3,1062.6 1747.8,1062.3 1749.3,1062.1 1750.8,1061.1 1752.3,1060.7 1753.8,1059.9 1755.3,1061.0 1756.8,1061.5 1758.3,1062.2 1759.8,1063.7 1761.3,1064.5 1762.8,1064.5 1764.3,1065.0 1765.8,1064.9 1767.3,1065.8 1768.8,1066.6 1770.3,1068.0 1771.8,1069.0 1773.3,1067.4 1774.8,1065.2 1776.3,1065.0 1777.8,1065.4 1779.3,1066.4 1780.8,1067.9 1782.3,1068.5 1783.8,1069.4 1785.3,1070.0 1786.8,1070.5 1788.3,1071.3 1789.8,1071.6 1791.3,1072.3 1792.8,1072.6 1794.3,1073.2 1795.8,1072.6 1797.3,1072.3 1798.8,1072.3 1800.3,1072.3 1801.8,1072.7 1803.3,1072.9 1804.8,1073.3 1806.3,1073.2 1807.8,1073.9 1809.3,1073.8 1810.8,1073.7 1812.3,1073.3 1813.8,1073.2 1815.3,1073.3 1816.8,1072.8 1818.3,1072.8 1819.8,1072.1 1821.3,1072.3 1822.8,1072.2 1824.3,1071.4 1825.8,1071.2 1827.3,1072.0 1828.8,1071.3 1830.3,1071.5 1831.8,1071.3 1833.3,1070.8 1834.8,1071.2 1836.3,1070.5 1837.8,1071.3 1839.3,1072.0 1840.8,1072.6"/>
<polyline stroke="#f0f" points="294.3,885.4 295.8,932.2 297.3,964.7 298.8,984.6 300.3,1001.0 301.8,1016.2 303.3,1035.0 304.8,1056.4 306.3,1070.8 307.8,1073.3 309.3,1075.8 310.8,1078.3 312.3,1091.5 313.8,1095.0 315.3,1097.0 316.8,1099.0 318.3,1100.4 319.8,1101.1 321.3,1101.9 322.8,1103.1 324.3,1106.7 325.8,1110.5 327.3,1113.1 328.8,1113.7 330.3,1114.3 331.8,1115.1 333.3,1116.7 334.8,1118.2 336.3,1119.6 337.8,1119.9 339.3,1117.3 340.8,1114.8 342.3,1102.7 343.8,1102.6 345.3,1104.3 346.8,1105.9 348.3,1106.8 349.8,1108.0 351.3,1109.2 352.8,1110.0 354.3,1110.6 355.8,1111.1 357.3,1111.7 358.8,1105.0 360.3,1093.1 361.8,1081.2 363.3,1077.2 364.8,1073.3 366.3,1069.8 367.8,1067.0 369.3,1064.2 370.8,1064.6 372.3,1067.7 373.8,1071.9 375.3,1078.1 376.8,1081.6 378.3,1083.7 379.8,1085.1 381.3,1084.2 382.8,1082.9 384.3,1081.6 385.8,1080.5 387.3,1079.7 388.8,1079.2 390.3,1078.9 391.8,1075.9 393.3,1071.6 394.8,1067.2 396.3,1067.7 397.8,1069.1 399.3,1070.4 400.8,1073.7 402.3,1078.8 403.8,1084.1 405.3,1088.8 406.8,1093.3 408.3,1094.5 409.8,1095.6 411.3,1096.7 412.8,1096.7 414.3,1096.3 415.8,1095.6 417.3,1094.7 418.8,1093.8 420.3,1093.1 421.8,1092.3 423.3,1091.4 424.8,1090.6 426.3,1090.7 427.8,1091.7 429.3,1092.7 430.8,1093.5 432.3,1090.8 433.8,1087.8 435.3,1077.8 436.8,1074.0 438.3,1074.7 439.8,1075.2 441.3,1078.7 442.8,1080.6 444.3,1073.9 445.8,1067.4 447.3,1065.1 448.8,1068.9 450.3,1072.6 451.8,1076.0 453.3,1079.6 454.8,1082.5 456.3,1084.4 457.8,1086.1 459.3,1087.9 460.8,1089.7 462.3,1091.4 463.8,1093.1 465.3,1094.0 466.8,1095.0 468.3,1096.0 469.8,1096.5 471.3,1096.7 472.8,1096.9 474.3,1097.1 475.8,1098.4 477.3,1100.4 478.8,1102.3 480.3,1103.7 481.8,1103.7 483.3,1103.7 484.8,1103.9 486.3,1104.1 487.8,1104.6 489.3,1105.2 490.8,1105.7 492.3,1106.3 493.8,1106.6 495.3,1105.7 496.8,1104.9 498.3,1103.8 499.8,1102.9 501.3,1101.8 502.8,1100.5 504.3,1099.3 505.8,1098.9 507.3,1099.4 508.8,1099.8 510.3,1100.3 511.8,1100.9 513.3,1101.5 514.8,1101.0 516.3,1100.4 517.8,1100.1 519.3,1099.7 520.8,1099.5 522.3,1099.3 523.8,1098.7 525.3,1098.0 526.8,1097.3 528.3,1096.6 529.8,1096.2 531.3,1095.8 532.8,1095.4 534.3,1095.7 535.8,1096.1 537.3,1096.4 538.8,1096.9 540.3,1097.3 541.8,1097.4 543.3,1097.4 544.8,1097.4 546.3,1098.3 547.8,1098.8 549.3,1099.3 550.8,1099.8 552.3,1099.8 553.8,1099.0 555.3,1098.1 556.8,1097.2 558.3,1096.3 559.8,1094.4 561.3,1092.4 562.8,1090.4 564.3,1088.5 565.8,1087.7 567.3,1087.3 568.8,1087.0 570.3,1086.5 571.8,1085.3 573.3,1084.8 574.8,1084.5 576.3,1084.2 577.8,1084.5 579.3,1084.6 580.8,1084.5 582.3,1084.2 583.8,1083.6 585.3,1082.9 586.8,1082.3 588.3,1081.8 589.8,1083.3 591.3,1084.8 592.8,1086.3 594.3,1088.8 595.8,1091.9 597.3,1094.3 598.8,1095.8 600.3,1097.1 601.8,1097.2 603.3,1097.4 604.8,1097.5 606.3,1097.6 607.8,1098.3 609.3,1098.9 610.8,1099.6 612.3,1100.1 613.8,1100.2 615.3,1100.2 616.8,1100.2 618.3,1099.9 619.8,1100.0 621.3,1100.0 622.8,1100.1 624.3,1099.9 625.8,1099.1 627.3,1097.7 628.8,1096.6 630.3,1096.0 631.8,1097.1 633.3,1098.1 634.8,1099.0 636.3,1099.0 637.8,1099.2 639.3,1099.4 640.8,1099.5 642.3,1099.8 643.8,1099.7 645.3,1099.1 646.8,1098.3 648.3,1097.5 649.8,1096.6 651.3,1095.5 652.8,1094.3 654.3,1093.1 655.8,1092.3 657.3,1091.5 658.8,1090.7 660.3,1092.2 661.8,1094.0 663.3,1095.8 664.8,1097.3 666.3,1098.3 667.8,1099.2 669.3,1100.2 670.8,1101.2 672.3,1102.0 673.8,1102.5 675.3,1103.0 676.8,1103.5 678.3,1104.2 679.8,1105.0 681.3,1105.8 682.8,1106.5 684.3,1107.2 685.8,1106.9 687.3,1106.3 688.8,1105.7 690.3,1105.1 691.8,1105.1 693.3,1104.7 694.8,1104.4 696.3,1104.0 697.8,1103.6 699.3,1104.1 700.8,1105.0 702.3,1105.9 703.8,1106.5 705.3,1107.0 706.8,1106.9 708.3,1106.7 709.8,1106.7 711.3,1106.7 712.8,1106.7 714.3,1102.9 715.8,1099.4 717.3,1098.2 718.8,1096.9 720.3,1097.6 721.8,1099.1 723.3,1100.5 724.8,1101.6 726.3,1102.4 727.8,1103.4 729.3,1104.3 730.8,1104.9 732.3,1105.5 733.8,1105.6 735.3,1105.8 736.8,1105.6 738.3,1105.4 739.8,1105.1 741.3,1105.1 742.8,1105.1 744.3,1105.0 745.8,1105.1 747.3,1105.5 748.8,1105.8 750.3,1106.0 751.8,1106.3 753.3,1106.5 754.8,1106.8 756.3,1107.2 757.8,1107.2 759.3,1107.0 760.8,1106.6 762.3,1106.1 763.8,1105.9 765.3,1105.7 766.8,1105.5 768.3,1105.5 769.8,1105.2 771.3,1104.9 772.8,1105.6 774.3,1106.7 775.8,1108.1 777.3,1109.0 778.8,1109.2 780.3,1109.4 781.8,1109.6 783.3,1109.7 784.8,1109.8 786.3,1109.8 787.8,1110.1 789.3,1110.5 790.8,1110.6 792.3,1110.6 793.8,1110.6 795.3,1110.8 796.8,1111.0 798.3,1111.1 799.8,1109.2 801.3,1107.4 802.8,1105.8 804.3,1105.5 805.8,1105.0 807.3,1104.6 808.8,1104.1 810.3,1103.8 811.8,1103.6 813.3,1103.7 814.8,1103.7 816.3,1104.1 817.8,1105.0 819.3,1105.8 820.8,1106.1 822.3,1105.8 823.8,1104.8 825.3,1103.7 826.8,1102.7 828.3,1101.5 829.8,1101.1 831.3,1100.8 832.8,1101.6 834.3,1102.8 835.8,1103.5 837.3,1104.2 838.8,1104.8 840.3,1105.3 841.8,1105.4 843.3,1105.6 844.8,1105.6 846.3,1105.6 847.8,1106.2 849.3,1106.8 850.8,1107.4 852.3,1108.1 853.8,1108.0 855.3,1107.8 856.8,1107.7 858.3,1107.9 859.8,1108.0 861.3,1108.2 862.8,1108.0 864.3,1107.8 865.8,1107.8 867.3,1107.9 868.8,1107.9 870.3,1107.8 871.8,1107.7 873.3,1107.6 874.8,1108.0 876.3,1108.3 877.8,1108.5 879.3,1108.6 880.8,1109.0 882.3,1109.2 883.8,1109.3 885.3,1109.4 886.8,1109.4 888.3,1109.5 889.8,1109.4 891.3,1109.4 892.8,1109.5 894.3,1109.5 895.8,1109.4 897.3,1109.2 898.8,1109.2 900.3,1109.2 901.8,1109.3 903.3,1109.1 904.8,1108.8 906.3,1108.6 907.8,1108.7 909.3,1108.7 910.8,1108.9 912.3,1109.0 913.8,1108.8 915.3,1108.7 916.8,1108.6 918.3,1108.5 919.8,1108.4 921.3,1108.0 922.8,1107.5 924.3,1107.0 925.8,1106.1 927.3,1105.1 928.8,1104.5 930.3,1104.9 931.8,1105.6 933.3,1106.2 934.8,1106.8 936.3,1106.9 937.8,1107.2 939.3,1107.5 940.8,1107.8 942.3,1107.9 943.8,1107.3 945.3,1106.7 946.8,1106.1 948.3,1105.5 949.8,1105.7 951.3,1106.4 952.8,1107.2 954.3,1108.0 955.8,1108.8 957.3,1109.2 958.8,1109.6 960.3,1110.1 961.8,1110.0 963.3,1110.0 964.8,1109.8 966.3,1109.7 967.8,1110.0 969.3,1110.3 970.8,1110.5 972.3,1110.7 973.8,1110.5 975.3,1110.3 976.8,1110.1 978.3,1109.9 979.8,1110.2 981.3,1110.6 982.8,1110.9 984.3,1110.7 985.8,1110.2 987.3,1109.7 988.8,1109.1 990.3,1106.2 991.8,1094.9 993.3,1094.2 994.8,1093.5 996.3,1092.8 997.8,1093.7 999.3,1095.0 1000.8,1096.3 1002.3,1097.7 1003.8,1099.1 1005.3,1100.5 1006.8,1101.9 1008.3,1103.4 1009.8,1104.7 1011.3,1105.2 1012.8,1105.7 1014.3,1106.1 1015.8,1106.5 1017.3,1106.9 1018.8,1107.0 1020.3,1106.8 1021.8,1106.6 1023.3,1106.4 1024.8,1106.2 1026.3,1106.0 1027.8,1106.1 1029.3,1106.2 1030.8,1106.4 1032.3,1106.5 1033.8,1106.6 1035.3,1106.7 1036.8,1106.1 1038.3,1105.7 1039.8,1105.4 1041.3,1105.2 1042.8,1106.1 1044.3,1107.4 1045.8,1108.7 1047.3,1109.7 1048.8,1110.1 1050.3,1109.3 1051.8,1108.6 1053.3,1107.9 1054.8,1107.3 1056.3,1106.7 1057.8,1106.2 1059.3,1105.8 1060.8,1105.5 1062.3,1105.2 1063.8,1104.7 1065.3,1104.2 1066.8,1103.8 1068.3,1103.3 1069.8,1102.8 1071.3,1102.3 1072.8,1101.7 1074.3,1101.3 1075.8,1100.7 1077.3,1100.2 1078.8,1099.4 1080.3,1098.1 1081.8,1097.0 1083.3,1095.8 1084.8,1094.6 1086.3,1095.8 1087.8,1097.3 1089.3,1098.8 1090.8,1099.3 1092.3,1098.7 1093.8,1098.1 1095.3,1097.6 1096.8,1097.9 1098.3,1098.3 1099.8,1099.0 1101.3,1099.7 1102.8,1100.5 1104.3,1100.9 1105.8,1100.5 1107.3,1100.2 1108.8,1099.8 1110.3,1099.4 1111.8,1099.3 1113.3,1099.4 1114.8,1099.6 1116.3,1099.9 1117.8,1100.2 1119.3,1100.2 1120.8,1100.0 1122.3,1099.8 1123.8,1099.2 1125.3,1098.8 1126.8,1098.9 1128.3,1099.2 1129.8,1099.9 1131.3,1100.6 1132.8,1100.7 1134.3,1100.5 1135.8,1099.7 1137.3,1099.0 1138.8,1098.3 1140.3,1097.6 1141.8,1096.9 1143.3,1096.2 1144.8,1095.4 1146.3,1095.8 1147.8,1096.5 1149.3,1097.2 1150.8,1097.7 1152.3,1098.3 1153.8,1098.9 1155.3,1099.6 1156.8,1100.2 1158.3,1100.9 1159.8,1100.7 1161.3,1100.5 1162.8,1100.3 1164.3,1099.9 1165.8,1099.4 1167.3,1099.0 1168.8,1099.1 1170.3,1099.1 1171.8,1099.2 1173.3,1099.1 1174.8,1099.4 1176.3,1099.6 1177.8,1100.2 1179.3,1100.7 1180.8,1101.2 1182.3,1101.6 1183.8,1101.3 1185.3,1101.1 1186.8,1100.8 1188.3,1100.5 1189.8,1100.5 1191.3,1100.3 1192.8,1100.1 1194.3,1099.8 1195.8,1099.6 1197.3,1099.4 1198.8,1099.3 1200.3,1099.3 1201.8,1099.2 1203.3,1099.0 1204.8,1098.9 1206.3,1097.2 1207.8,1095.4 1209.3,1093.7 1210.8,1092.8 1212.3,1092.6 1213.8,1092.5 1215.3,1092.6 1216.8,1093.2 1218.3,1093.7 1219.8,1094.2 1221.3,1095.2 1222.8,1096.5 1224.3,1097.8 1225.8,1098.9 1227.3,1099.6 1228.8,1099.6 1230.3,1099.7 1231.8,1099.7 1233.3,1099.6 1234.8,1099.2 1236.3,1099.0 1237.8,1099.3 1239.3,1099.5 1240.8,1099.6 1242.3,1099.8 1243.8,1099.4 1245.3,1099.3 1246.8,1099.1 1248.3,1099.2 1249.8,1099.7 1251.3,1100.2 1252.8,1100.7 1254.3,1101.3 1255.8,1100.9 1257.3,1100.1 1258.8,1099.1 1260.3,1098.2 1261.8,1097.8 1263.3,1097.4 1264.8,1096.9 1266.3,1095.6 1267.8,1093.6 1269.3,1091.6 1270.8,1089.6 1272.3,1088.4 1273.8,1087.3 1275.3,1087.7 1276.8,1088.6 1278.3,1089.5 1279.8,1090.5 1281.3,1091.8 1282.8,1093.1 1284.3,1094.5 1285.8,1095.2 1287.3,1095.4 1288.8,1095.6 1290.3,1095.9 1291.8,1096.0 1293.3,1096.1 1294.8,1095.5 1296.3,1094.9 1297.8,1094.4 1299.3,1094.1 1300.8,1093.8 1302.3,1093.4 1303.8,1092.9 1305.3,1092.3 1306.8,1091.7 1308.3,1091.1 1309.8,1090.6 1311.3,1087.6 1312.8,1084.3 1314.3,1079.3 1315.8,1073.4 1317.3,1067.3 1318.8,1061.2 1320.3,1059.1 1321.8,1058.9 1323.3,1058.7 1324.8,1059.2 1326.3,1060.8 1327.8,1061.8 1329.3,1062.9 1330.8,1063.4 1332.3,1063.4 1333.8,1063.8 1335.3,1064.2 1336.8,1064.7 1338.3,1065.5 1339.8,1066.3 1341.3,1067.2 1342.8,1068.0 1344.3,1067.4 1345.8,1065.9 1347.3,1064.3 1348.8,1062.7 1350.3,1061.0 1351.8,1060.7 1353.3,1061.2 1354.8,1061.7 1356.3,1062.3 1357.8,1062.3 1359.3,1062.4 1360.8,1062.6 1362.3,1062.8 1363.8,1063.5 1365.3,1064.2 1366.8,1065.0 1368.3,1065.3 1369.8,1065.3 1371.3,1065.1 1372.8,1064.9 1374.3,1065.1 1375.8,1066.1 1377.3,1067.1 1378.8,1068.1 1380.3,1069.2 1381.8,1070.4 1383.3,1071.7 1384.8,1073.0 1386.3,1073.2 1387.8,1073.5 1389.3,1073.7 1390.8,1074.0 1392.3,1074.2 1393.8,1074.4 1395.3,1074.7 1396.8,1075.0 1398.3,1075.3 1399.8,1075.8 1401.3,1075.9 1402.8,1076.0 1404.3,1076.1 1405.8,1076.0 1407.3,1075.8 1408.8,1075.8 1410.3,1076.2 1411.8,1077.0 1413.3,1077.8 1414.8,1078.6 1416.3,1079.3 1417.8,1079.7 1419.3,1080.1 1420.8,1078.9 1422.3,1077.6 1423.8,1076.5 1425.3,1075.7 1426.8,1075.7 1428.3,1075.6 1429.8,1075.3 1431.3,1075.0 1432.8,1074.9 1434.3,1074.8 1435.8,1074.9 1437.3,1075.0 1438.8,1074.9 1440.3,1074.9 1441.8,1075.0 1443.3,1075.3 1444.8,1075.7 1446.3,1076.0 1447.8,1075.7 1449.3,1075.1 1450.8,1074.6 1452.3,1074.0 1453.8,1073.5 1455.3,1073.1 1456.8,1072.6 1458.3,1072.1 1459.8,1072.2 1461.3,1073.2 1462.8,1074.2 1464.3,1075.2 1465.8,1075.6 1467.3,1075.7 1468.8,1075.7 1470.3,1075.8 1471.8,1076.1 1473.3,1076.3 1474.8,1076.2 1476.3,1076.2 1477.8,1076.2 1479.3,1076.2 1480.8,1076.3 1482.3,1076.2 1483.8,1076.0 1485.3,1075.7 1486.8,1075.4 1488.3,1075.0 1489.8,1074.5 1491.3,1073.4 1492.8,1072.2 1494.3,1071.1 1495.8,1072.1 1497.3,1073.3 1498.8,1074.4 1500.3,1075.4 1501.8,1075.2 1503.3,1075.0 1504.8,1074.7 1506.3,1074.7 1507.8,1075.0 1509.3,1074.9 1510.8,1074.4 1512.3,1073.9 1513.8,1072.9 1515.3,1072.9 1516.8,1073.1 1518.3,1073.4 1519.8,1073.8 1521.3,1074.3 1522.8,1074.3 1524.3,1074.2 1525.8,1074.1 1527.3,1074.1 1528.8,1073.9 1530.3,1073.7 1531.8,1073.4 1533.3,1072.9 1534.8,1072.4 1536.3,1071.9 1537.8,1072.8 1539.3,1074.1 1540.8,1074.9 1542.3,1075.3 1543.8,1075.4 1545.3,1075.6 1546.8,1075.8 1548.3,1076.0 1549.8,1075.7 1551.3,1075.3 1552.8,1074.9 1554.3,1074.5 1555.8,1074.3 1557.3,1074.0 1558.8,1073.8 1560.3,1073.6 1561.8,1073.2 1563.3,1072.8 1564.8,1072.4 1566.3,1072.0 1567.8,1071.9 1569.3,1072.0 1570.8,1072.1 1572.3,1072.3 1573.8,1072.4 1575.3,1072.5 1576.8,1072.3 1578.3,1072.3 1579.8,1072.2 1581.3,1072.1 1582.8,1072.0 1584.3,1071.9 1585.8,1071.2 1587.3,1069.8 1588.8,1068.4 1590.3,1067.2 1591.8,1066.5 1593.3,1065.8 1594.8,1066.0 1596.3,1067.4 1597.8,1069.1 1599.3,1070.6 1600.8,1072.0 1602.3,1073.3 1603.8,1074.8 1605.3,1076.0 1606.8,1076.4 1608.3,1076.8 1609.8,1077.0 1611.3,1077.2 1612.8,1077.3 1614.3,1077.2 1615.8,1077.2 1617.3,1077.2 1618.8,1077.1 1620.3,1077.0 1621.8,1076.7 1623.3,1076.4 1624.8,1076.3 1626.3,1076.1 1627.8,1076.4 1629.3,1076.6 1630.8,1076.9 1632.3,1077.2 1633.8,1077.7 1635.3,1078.2 1636.8,1078.7 1638.3,1079.2 1639.8,1079.5 1641.3,1080.0 1642.8,1079.9 1644.3,1079.6 1645.8,1079.2 1647.3,1078.8 1648.8,1078.4 1650.3,1078.3 1651.8,1078.3 1653.3,1078.6 1654.8,1078.7 1656.3,1078.7 1657.8,1078.7 1659.3,1078.9 1660.8,1078.9 1662.3,1078.9 1663.8,1078.9 1665.3,1078.7 1666.8,1077.6 1668.3,1076.6 1669.8,1075.5 1671.3,1076.0 1672.8,1076.8 1674.3,1077.5 1675.8,1078.5 1677.3,1079.1 1678.8,1079.2 1680.3,1079.3 1681.8,1079.0 1683.3,1078.7 1684.8,1078.4 1686.3,1078.2 1687.8,1078.0 1689.3,1077.7 1690.8,1077.5 1692.3,1077.3 1693.8,1077.0 1695.3,1076.6 1696.8,1076.2 1698.3,1075.8 1699.8,1076.6 1701.3,1077.5 1702.8,1078.4 1704.3,1079.3 1705.8,1079.5 1707.3,1079.0 1708.8,1078.4 1710.3,1077.8 1711.8,1077.2 1713.3,1077.5 1714.8,1077.8 1716.3,1078.1 1717.8,1078.3 1719.3,1077.1 1720.8,1075.2 1722.3,1073.1 1723.8,1072.4 1725.3,1073.7 1726.8,1075.0 1728.3,1076.4 1729.8,1077.5 1731.3,1078.3 1732.8,1079.2 1734.3,1079.1 1735.8,1078.4 1737.3,1077.6 1738.8,1074.6 1740.3,1068.5 1741.8,1067.4 1743.3,1066.2 1744.8,1065.1 1746.3,1063.9 1747.8,1063.2 1749.3,1062.6 1750.8,1061.9 1752.3,1061.3 1753.8,1061.2 1755.3,1062.2 1756.8,1063.1 1758.3,1063.9 1759.8,1064.7 1761.3,1065.1 1762.8,1065.5 1764.3,1066.0 1765.8,1066.4 1767.3,1066.9 1768.8,1068.0 1770.3,1069.1 1771.8,1070.4 1773.3,1069.0 1774.8,1067.7 1776.3,1066.3 1777.8,1066.4 1779.3,1067.2 1780.8,1068.1 1782.3,1069.0 1783.8,1069.8 1785.3,1070.5 1786.8,1071.2 1788.3,1071.9 1789.8,1072.9 1791.3,1073.4 1792.8,1073.9 1794.3,1074.2 1795.8,1074.3 1797.3,1074.3 1798.8,1074.4 1800.3,1074.5 1801.8,1074.7 1803.3,1074.9 1804.8,1075.0 1806.3,1075.1 1807.8,1075.0 1809.3,1074.9 1810.8,1074.7 1812.3,1074.5 1813.8,1074.6 1815.3,1074.6 1816.8,1074.5 1818.3,1074.4 1819.8,1074.1 1821.3,1073.8 1822.8,1073.6 1824.3,1073.3 1825.8,1073.2 1827.3,1073.1 1828.8,1072.9 1830.3,1072.9 1831.8,1072.9 1833.3,1072.9 1834.8,1072.8 1836.3,1072.7 1837.8,1072.9 1839.3,1073.3 1840.8,1073.6"/>
<polyline stroke="#f0f" points="294.3,885.4 295.8,932.2 297.3,964.9 298.8,984.7 300.3,1001.1 301.8,1016.3 303.3,1035.3 304.8,1056.4 306.3,1071.1 307.8,1073.5 309.3,1076.2 310.8,1078.7 312.3,1092.2 313.8,1095.7 315.3,1097.5 316.8,1099.3 318.3,1100.9 319.8,1102.0 321.3,1103.1 322.8,1104.6 324.3,1109.2 325.8,1114.2 327.3,1117.1 328.8,1116.8 330.3,1117.5 331.8,1117.8 333.3,1119.5 334.8,1119.8 336.3,1122.5 337.8,1122.8 339.3,1121.0 340.8,1119.2 342.3,1106.3 343.8,1106.7 345.3,1108.0 346.8,1110.2 348.3,1110.3 349.8,1111.8 351.3,1112.1 352.8,1113.2 354.3,1113.5 355.8,1114.8 357.3,1115.0 358.8,1109.0 360.3,1096.6 361.8,1084.7 363.3,1080.2 364.8,1075.1 366.3,1072.0 367.8,1069.0 369.3,1066.1 370.8,1067.5 372.3,1070.6 373.8,1074.9 375.3,1081.2 376.8,1085.2 378.3,1086.6 379.8,1088.1 381.3,1087.1 382.8,1086.1 384.3,1085.5 385.8,1084.0 387.3,1084.0 388.8,1082.8 390.3,1083.0 391.8,1079.7 393.3,1075.3 394.8,1071.0 396.3,1071.1 397.8,1073.3 399.3,1074.4 400.8,1076.9 402.3,1081.2 403.8,1086.7 405.3,1091.9 406.8,1097.5 408.3,1097.3 409.8,1097.8 411.3,1098.6 412.8,1098.6 414.3,1099.4 415.8,1099.2 417.3,1097.3 418.8,1095.7 420.3,1095.5 421.8,1094.8 423.3,1094.1 424.8,1092.9 426.3,1093.8 427.8,1094.4 429.3,1094.7 430.8,1096.4 432.3,1093.2 433.8,1089.4 435.3,1080.6 436.8,1076.9 438.3,1077.9 439.8,1077.9 441.3,1081.7 442.8,1084.3 444.3,1076.3 445.8,1069.6 447.3,1066.8 448.8,1071.3 450.3,1074.6 451.8,1078.9 453.3,1082.4 454.8,1085.9 456.3,1088.2 457.8,1089.8 459.3,1090.5 460.8,1092.3 462.3,1094.2 463.8,1095.2 465.3,1096.5 466.8,1097.0 468.3,1098.6 469.8,1098.9 471.3,1100.1 472.8,1100.3 474.3,1101.1 475.8,1102.2 477.3,1103.7 478.8,1104.3 480.3,1105.8 481.8,1105.9 483.3,1106.6 484.8,1106.7 486.3,1106.9 487.8,1107.5 489.3,1107.8 490.8,1109.0 492.3,1109.5 493.8,1109.9 495.3,1109.2 496.8,1107.8 498.3,1107.1 499.8,1105.3 501.3,1104.1 502.8,1103.4 504.3,1102.0 505.8,1102.3 507.3,1102.0 508.8,1101.7 510.3,1101.8 511.8,1103.0 513.3,1103.7 514.8,1103.1 516.3,1102.9 517.8,1102.5 519.3,1102.5 520.8,1102.5 522.3,1102.1 523.8,1101.6 525.3,1100.1 526.8,1099.1 528.3,1097.9 529.8,1097.6 531.3,1097.5 532.8,1097.0 534.3,1098.3 535.8,1099.6 537.3,1100.0 538.8,1100.6 540.3,1100.2 541.8,1099.0 543.3,1099.4 544.8,1098.8 546.3,1099.5 547.8,1100.2 549.3,1100.7 550.8,1101.0 552.3,1101.0 553.8,1101.0 555.3,1100.1 556.8,1099.4 558.3,1097.8 559.8,1095.9 561.3,1095.1 562.8,1092.9 564.3,1091.1 565.8,1090.8 567.3,1090.2 568.8,1089.7 570.3,1088.8 571.8,1087.5 573.3,1087.5 574.8,1087.4 576.3,1086.2 577.8,1086.7 579.3,1087.0 580.8,1086.5 582.3,1086.5 583.8,1086.1 585.3,1085.5 586.8,1085.0 588.3,1084.5 589.8,1086.0 591.3,1086.4 592.8,1088.7 594.3,1091.8 595.8,1094.9 597.3,1096.6 598.8,1098.4 600.3,1099.1 601.8,1100.1 603.3,1100.0 604.8,1100.9 606.3,1100.5 607.8,1101.2 609.3,1101.3 610.8,1102.0 612.3,1102.7 613.8,1103.4 615.3,1102.6 616.8,1102.1 618.3,1101.6 619.8,1101.8 621.3,1101.8 622.8,1102.9 624.3,1102.3 625.8,1101.7 627.3,1100.0 628.8,1099.1 630.3,1098.3 631.8,1100.3 633.3,1100.9 634.8,1101.9 636.3,1102.4 637.8,1102.8 639.3,1103.2 640.8,1102.9 642.3,1103.2 643.8,1103.5 645.3,1102.4 646.8,1101.0 648.3,1100.2 649.8,1098.7 651.3,1097.6 652.8,1097.1 654.3,1095.5 655.8,1095.0 657.3,1093.7 658.8,1092.6 660.3,1094.8 661.8,1096.7 663.3,1098.5 664.8,1100.0 666.3,1100.6 667.8,1102.0 669.3,1103.6 670.8,1104.8 672.3,1105.7 673.8,1105.6 675.3,1105.1 676.8,1104.9 678.3,1106.8 679.8,1107.1 681.3,1108.6 682.8,1109.2 684.3,1110.0 685.8,1109.4 687.3,1109.2 688.8,1108.8 690.3,1107.7 691.8,1107.3 693.3,1106.5 694.8,1106.1 696.3,1105.8 697.8,1106.6 699.3,1107.0 700.8,1107.7 702.3,1108.0 703.8,1109.4 705.3,1109.1 706.8,1109.4 708.3,1108.6 709.8,1108.7 711.3,1108.7 712.8,1109.2 714.3,1104.6 715.8,1101.1 717.3,1099.6 718.8,1097.8 720.3,1098.4 721.8,1100.4 723.3,1102.4 724.8,1104.2 726.3,1105.5 727.8,1105.8 729.3,1106.2 730.8,1107.0 732.3,1107.4 733.8,1107.7 735.3,1107.9 736.8,1107.9 738.3,1107.7 739.8,1108.6 741.3,1107.7 742.8,1107.1 744.3,1106.3 745.8,1107.1 747.3,1108.6 748.8,1108.9 750.3,1109.1 751.8,1108.1 753.3,1108.4 754.8,1108.9 756.3,1109.6 757.8,1110.1 759.3,1109.6 760.8,1109.2 762.3,1108.0 763.8,1108.5 765.3,1107.7 766.8,1108.5 768.3,1107.9 769.8,1107.9 771.3,1107.0 772.8,1107.1 774.3,1108.5 775.8,1109.2 777.3,1110.6 778.8,1110.9 780.3,1111.8 781.8,1112.2 783.3,1112.2 784.8,1112.7 786.3,1112.0 787.8,1112.4 789.3,1113.5 790.8,1113.6 792.3,1113.7 793.8,1113.2 795.3,1113.2 796.8,1113.8 798.3,1113.0 799.8,1110.7 801.3,1108.4 802.8,1106.6 804.3,1106.6 805.8,1106.4 807.3,1106.2 808.8,1105.5 810.3,1105.7 811.8,1105.9 813.3,1105.0 814.8,1105.1 816.3,1105.6 817.8,1106.6 819.3,1108.3 820.8,1108.9 822.3,1107.8 823.8,1105.8 825.3,1104.4 826.8,1104.3 828.3,1103.7 829.8,1103.1 831.3,1102.3 832.8,1103.5 834.3,1104.2 835.8,1104.8 837.3,1105.1 838.8,1106.2 840.3,1107.2 841.8,1108.0 843.3,1108.9 844.8,1107.8 846.3,1108.5 847.8,1108.3 849.3,1109.0 850.8,1109.5 852.3,1110.6 853.8,1110.0 855.3,1109.5 856.8,1109.8 858.3,1109.4 859.8,1109.2 861.3,1109.3 862.8,1109.8 864.3,1110.2 865.8,1110.0 867.3,1109.6 868.8,1109.7 870.3,1108.5 871.8,1109.1 873.3,1108.7 874.8,1109.8 876.3,1109.7 877.8,1109.6 879.3,1109.3 880.8,1110.0 882.3,1111.1 883.8,1111.3 885.3,1110.8 886.8,1110.5 888.3,1110.9 889.8,1111.5 891.3,1111.1 892.8,1112.4 894.3,1111.5 895.8,1110.6 897.3,1110.0 898.8,1110.6 900.3,1110.7 901.8,1110.0 903.3,1110.2 904.8,1110.3 906.3,1110.5 907.8,1110.5 909.3,1110.6 910.8,1110.5 912.3,1110.9 913.8,1110.2 915.3,1109.9 916.8,1109.9 918.3,1109.5 919.8,1109.3 921.3,1109.1 922.8,1108.6 924.3,1109.0 925.8,1107.1 927.3,1106.3 928.8,1105.9 930.3,1106.4 931.8,1107.0 933.3,1108.1 934.8,1108.3 936.3,1107.9 937.8,1107.6 939.3,1108.4 940.8,1109.1 942.3,1109.8 943.8,1108.9 945.3,1107.6 946.8,1107.1 948.3,1106.7 949.8,1107.7 951.3,1109.1 952.8,1109.6 954.3,1110.5 955.8,1111.1 957.3,1110.7 958.8,1110.4 960.3,1110.1 961.8,1110.9 963.3,1110.7 964.8,1110.5 966.3,1110.7 967.8,1111.6 969.3,1113.1 970.8,1112.9 972.3,1113.5 973.8,1113.3 975.3,1112.1 976.8,1111.5 978.3,1111.6 979.8,1111.5 981.3,1112.4 982.8,1113.2 984.3,1112.4 985.8,1111.7 987.3,1111.6 988.8,1110.8 990.3,1107.9 991.8,1096.3 993.3,1095.3 994.8,1094.7 996.3,1094.3 997.8,1096.0 999.3,1096.7 1000.8,1098.3 1002.3,1099.5 1003.8,1099.8 1005.3,1101.8 1006.8,1103.0 1008.3,1104.8 1009.8,1106.6 1011.3,1107.8 1012.8,1108.0 1014.3,1107.7 1015.8,1108.0 1017.3,1108.4 1018.8,1108.3 1020.3,1108.2 1021.8,1107.5 1023.3,1107.3 1024.8,1107.5 1026.3,1107.8 1027.8,1107.7 1029.3,1108.0 1030.8,1107.3 1032.3,1107.7 1033.8,1108.3 1035.3,1107.9 1036.8,1107.6 1038.3,1107.4 1039.8,1106.9 1041.3,1107.1 1042.8,1108.2 1044.3,1109.5 1045.8,1111.0 1047.3,1111.8 1048.8,1111.8 1050.3,1110.6 1051.8,1109.3 1053.3,1108.9 1054.8,1108.0 1056.3,1108.1 1057.8,1107.3 1059.3,1107.4 1060.8,1107.2 1062.3,1107.9 1063.8,1107.6 1065.3,1106.2 1066.8,1105.7 1068.3,1105.1 1069.8,1104.5 1071.3,1103.7 1072.8,1102.1 1074.3,1101.7 1075.8,1102.1 1077.3,1102.0 1078.8,1100.6 1080.3,1098.8 1081.8,1097.5 1083.3,1096.3 1084.8,1095.8 1086.3,1096.7 1087.8,1098.5 1089.3,1099.8 1090.8,1099.8 1092.3,1099.5 1093.8,1099.5 1095.3,1099.4 1096.8,1100.1 1098.3,1099.9 1099.8,1101.1 1101.3,1101.6 1102.8,1102.4 1104.3,1103.0 1105.8,1102.6 1107.3,1102.0 1108.8,1101.0 1110.3,1100.5 1111.8,1101.1 1113.3,1101.4 1114.8,1101.6 1116.3,1102.0 1117.8,1102.0 1119.3,1101.2 1120.8,1100.6 1122.3,1100.6 1123.8,1100.4 1125.3,1100.6 1126.8,1101.2 1128.3,1101.0 1129.8,1101.7 1131.3,1101.2 1132.8,1102.3 1134.3,1102.8 1135.8,1102.2 1137.3,1100.3 1138.8,1098.9 1140.3,1098.3 1141.8,1097.7 1143.3,1097.9 1144.8,1098.1 1146.3,1098.1 1147.8,1098.0 1149.3,1098.7 1150.8,1099.5 1152.3,1099.7 1153.8,1100.3 1155.3,1101.0 1156.8,1101.6 1158.3,1101.8 1159.8,1102.0 1161.3,1101.8 1162.8,1101.9 1164.3,1101.2 1165.8,1101.4 1167.3,1100.9 1168.8,1100.6 1170.3,1100.6 1171.8,1101.1 1173.3,1100.7 1174.8,1101.3 1176.3,1102.5 1177.8,1102.7 1179.3,1102.7 1180.8,1102.4 1182.3,1103.5 1183.8,1102.7 1185.3,1102.7 1186.8,1102.0 1188.3,1101.5 1189.8,1101.0 1191.3,1101.8 1192.8,1101.6 1194.3,1102.2 1195.8,1101.5 1197.3,1101.0 1198.8,1100.6 1200.3,1100.5 1201.8,1101.0 1203.3,1101.5 1204.8,1101.1 1206.3,1099.0 1207.8,1096.1 1209.3,1094.7 1210.8,1094.2 1212.3,1093.4 1213.8,1093.5 1215.3,1093.9 1216.8,1094.6 1218.3,1095.5 1219.8,1095.7 1221.3,1096.8 1222.8,1097.2 1224.3,1099.1 1225.8,1100.2 1227.3,1100.6 1228.8,1100.8 1230.3,1102.1 1231.8,1101.8 1233.3,1101.0 1234.8,1100.7 1236.3,1100.8 1237.8,1100.3 1239.3,1100.6 1240.8,1100.2 1242.3,1100.2 1243.8,1099.9 1245.3,1100.2 1246.8,1100.8 1248.3,1100.4 1249.8,1101.1 1251.3,1101.1 1252.8,1101.9 1254.3,1102.0 1255.8,1101.5 1257.3,1101.1 1258.8,1100.0 1260.3,1099.2 1261.8,1098.9 1263.3,1097.9 1264.8,1097.8 1266.3,1096.5 1267.8,1094.2 1269.3,1093.5 1270.8,1091.6 1272.3,1090.1 1273.8,1089.5 1275.3,1090.0 1276.8,1090.4 1278.3,1091.4 1279.8,1092.7 1281.3,1093.5 1282.8,1094.9 1284.3,1096.5 1285.8,1096.0 1287.3,1096.3 1288.8,1096.0 1290.3,1096.4 1291.8,1097.0 1293.3,1097.6 1294.8,1097.0 1296.3,1097.0 1297.8,1097.1 1299.3,1096.2 1300.8,1095.3 1302.3,1093.7 1303.8,1093.3 1305.3,1093.7 1306.8,1093.0 1308.3,1092.6 1309.8,1091.2 1311.3,1088.8 1312.8,1084.8 1314.3,1079.8 1315.8,1073.8 1317.3,1068.1 1318.8,1062.2 1320.3,1060.4 1321.8,1060.6 1323.3,1060.1 1324.8,1060.9 1326.3,1061.9 1327.8,1062.5 1329.3,1063.1 1330.8,1063.9 1332.3,1064.8 1333.8,1066.1 1335.3,1066.3 1336.8,1066.3 1338.3,1066.5 1339.8,1067.2 1341.3,1067.7 1342.8,1068.5 1344.3,1068.5 1345.8,1066.5 1347.3,1064.7 1348.8,1063.6 1350.3,1062.2 1351.8,1062.2 1353.3,1062.6 1354.8,1063.0 1356.3,1063.8 1357.8,1064.0 1359.3,1063.7 1360.8,1064.2 1362.3,1063.9 1363.8,1065.0 1365.3,1064.6 1366.8,1065.8 1368.3,1065.7 1369.8,1066.2 1371.3,1066.2 1372.8,1065.7 1374.3,1066.3 1375.8,1067.3 1377.3,1068.0 1378.8,1068.5 1380.3,1069.6 1381.8,1071.4 1383.3,1073.0 1384.8,1074.2 1386.3,1075.0 1387.8,1075.1 1389.3,1075.5 1390.8,1075.7 1392.3,1075.1 1393.8,1075.4 1395.3,1075.6 1396.8,1075.8 1398.3,1076.3 1399.8,1077.2 1401.3,1077.4 1402.8,1076.7 1404.3,1077.0 1405.8,1076.5 1407.3,1076.2 1408.8,1076.8 1410.3,1076.5 1411.8,1077.9 1413.3,1078.0 1414.8,1078.8 1416.3,1080.1 1417.8,1080.3 1419.3,1081.4 1420.8,1079.5 1422.3,1078.1 1423.8,1077.8 1425.3,1076.4 1426.8,1076.5 1428.3,1076.2 1429.8,1076.6 1431.3,1075.8 1432.8,1075.8 1434.3,1075.6 1435.8,1076.3 1437.3,1076.7 1438.8,1076.6 1440.3,1076.3 1441.8,1075.9 1443.3,1076.5 1444.8,1076.8 1446.3,1077.9 1447.8,1076.8 1449.3,1076.5 1450.8,1076.5 1452.3,1076.1 1453.8,1075.2 1455.3,1074.0 1456.8,1074.3 1458.3,1073.5 1459.8,1073.8 1461.3,1074.7 1462.8,1075.5 1464.3,1076.6 1465.8,1077.4 1467.3,1077.2 1468.8,1078.1 1470.3,1077.5 1471.8,1077.9 1473.3,1077.5 1474.8,1077.6 1476.3,1076.9 1477.8,1077.2 1479.3,1077.3 1480.8,1077.4 1482.3,1078.2 1483.8,1076.8 1485.3,1076.7 1486.8,1076.0 1488.3,1075.3 1489.8,1075.7 1491.3,1074.5 1492.8,1073.9 1494.3,1071.9 1495.8,1073.2 1497.3,1074.3 1498.8,1075.1 1500.3,1076.9 1501.8,1076.6 1503.3,1076.6 1504.8,1076.3 1506.3,1076.1 1507.8,1076.5 1509.3,1076.0 1510.8,1075.5 1512.3,1075.1 1513.8,1073.9 1515.3,1074.0 1516.8,1073.5 1518.3,1073.7 1519.8,1074.8 1521.3,1075.7 1522.8,1075.6 1524.3,1075.6 1525.8,1075.7 1527.3,1076.0 1528.8,1075.7 1530.3,1075.6 1531.8,1074.5 1533.3,1074.2 1534.8,1074.2 1536.3,1073.4 1537.8,1074.2 1539.3,1076.5 1540.8,1077.3 1542.3,1077.0 1543.8,1077.0 1545.3,1077.2 1546.8,1077.3 1548.3,1078.1 1549.8,1078.0 1551.3,1077.4 1552.8,1076.8 1554.3,1076.8 1555.8,1076.6 1557.3,1075.7 1558.8,1075.8 1560.3,1075.2 1561.8,1075.6 1563.3,1075.0 1564.8,1073.8 1566.3,1073.3 1567.8,1072.4 1569.3,1072.3 1570.8,1072.9 1572.3,1072.6 1573.8,1073.4 1575.3,1074.2 1576.8,1074.2 1578.3,1073.8 1579.8,1073.5 1581.3,1073.7 1582.8,1073.7 1584.3,1074.1 1585.8,1072.8 1587.3,1071.7 1588.8,1070.3 1590.3,1069.0 1591.8,1067.8 1593.3,1067.0 1594.8,1067.0 1596.3,1068.0 1597.8,1069.7 1599.3,1071.2 1600.8,1073.3 1602.3,1074.5 1603.8,1076.2 1605.3,1076.9 1606.8,1077.5 1608.3,1077.5 1609.8,1077.6 1611.3,1078.3 1612.8,1078.8 1614.3,1078.3 1615.8,1078.4 1617.3,1078.2 1618.8,1077.7 1620.3,1077.7 1621.8,1077.9 1623.3,1077.9 1624.8,1077.8 1626.3,1077.5 1627.8,1077.8 1629.3,1078.3 1630.8,1078.2 1632.3,1078.8 1633.8,1079.0 1635.3,1079.9 1636.8,1079.9 1638.3,1079.7 1639.8,1080.4 1641.3,1081.3 1642.8,1081.7 1644.3,1081.8 1645.8,1081.2 1647.3,1080.6 1648.8,1080.1 1650.3,1080.3 1651.8,1080.0 1653.3,1080.2 1654.8,1080.1 1656.3,1080.6 1657.8,1080.6 1659.3,1080.7 1660.8,1080.2 1662.3,1080.1 1663.8,1080.7 1665.3,1080.1 1666.8,1079.9 1668.3,1078.9 1669.8,1077.5 1671.3,1077.5 1672.8,1078.5 1674.3,1079.3 1675.8,1079.8 1677.3,1080.3 1678.8,1079.9 1680.3,1079.9 1681.8,1079.6 1683.3,1079.3 1684.8,1079.0 1686.3,1079.5 1687.8,1079.5 1689.3,1079.8 1690.8,1079.3 1692.3,1079.0 1693.8,1079.0 1695.3,1077.9 1696.8,1077.8 1698.3,1076.4 1699.8,1077.8 1701.3,1078.1 1702.8,1078.8 1704.3,1080.2 1705.8,1080.2 1707.3,1080.4 1708.8,1079.8 1710.3,1079.0 1711.8,1078.9 1713.3,1079.0 1714.8,1079.7 1716.3,1080.0 1717.8,1079.5 1719.3,1078.2 1720.8,1075.6 1722.3,1074.0 1723.8,1073.2 1725.3,1074.1 1726.8,1075.9 1728.3,1076.5 1729.8,1077.7 1731.3,1078.9 1732.8,1081.0 1734.3,1081.0 1735.8,1080.2 1737.3,1079.2 1738.8,1075.1 1740.3,1070.1 1741.8,1068.5 1743.3,1068.2 1744.8,1066.8 1746.3,1065.0 1747.8,1064.4 1749.3,1063.6 1750.8,1062.7 1752.3,1061.8 1753.8,1061.7 1755.3,1062.7 1756.8,1064.1 1758.3,1064.8 1759.8,1065.3 1761.3,1065.9 1762.8,1066.3 1764.3,1067.3 1765.8,1068.3 1767.3,1068.0 1768.8,1069.0 1770.3,1069.3 1771.8,1071.3 1773.3,1069.6 1774.8,1069.1 1776.3,1067.7 1777.8,1067.9 1779.3,1068.2 1780.8,1069.2 1782.3,1069.3 1783.8,1070.7 1785.3,1071.3 1786.8,1071.5 1788.3,1072.4 1789.8,1073.8 1791.3,1074.9 1792.8,1076.2 1794.3,1076.4 1795.8,1076.0 1797.3,1076.4 1798.8,1075.4 1800.3,1075.7 1801.8,1075.5 1803.3,1075.7 1804.8,1076.9 1806.3,1077.2 1807.8,1077.4 1809.3,1077.1 1810.8,1076.9 1812.3,1076.1 1813.8,1076.4 1815.3,1076.7 1816.8,1076.3 1818.3,1076.2 1819.8,1075.8 1821.3,1075.3 1822.8,1074.5 1824.3,1074.3 1825.8,1074.1 1827.3,1073.9 1828.8,1073.8 1830.3,1074.5 1831.8,1074.8 1833.3,1074.6 1834.8,1074.7 1836.3,1074.0 1837.8,1074.8 1839.3,1074.9 1840.8,1075.9"/>
</g>
<g stroke-width="10" stroke-linecap="round">
<rect x="1419" y="89" width="146" height="10" rx="3.6" ry="3.6" fill="#000" stroke="none"/>
<rect x="1419" y="168" width="146" height="10" rx="3.6" ry="3.6" fill="#f00" stroke="none"/>
<rect x="1419" y="247" width="146" height="10" rx="3.6" ry="3.6" fill="#00f" stroke="none"/>
<rect x="1419" y="326" width="146" height="10" rx="3.6" ry="3.6" fill="#f0f" stroke="none"/>
</g>
<text transform="translate(1578.4 117.0) scale(1 1.113)" font-size="61.3px" text-anchor="start">CoCrMo</text>
<text transform="translate(1578.4 196.0) scale(1 1.113)" font-size="61.3px" text-anchor="start">Co-S</text>
<text transform="translate(1578.4 275.0) scale(1 1.113)" font-size="61.3px" text-anchor="start">Co-T</text>
<text transform="translate(1578.4 354.0) scale(1 1.113)" font-size="61.3px" text-anchor="start">Co-T-S</text>
</g>
</svg></body></html>
